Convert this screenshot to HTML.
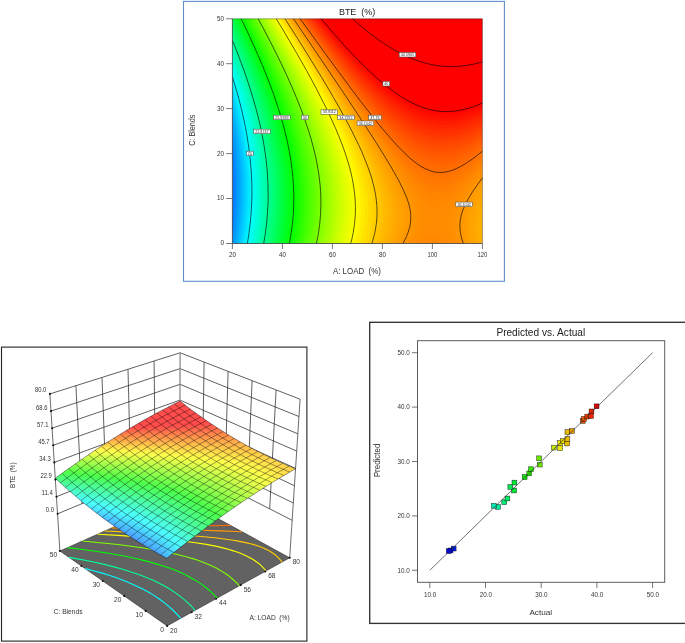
<!DOCTYPE html>
<html><head><meta charset="utf-8"><title>BTE response plots</title>
<style>html,body{margin:0;padding:0;background:#fff}svg{display:block}</style></head>
<body>
<svg width="685" height="643" viewBox="0 0 685 643">
<rect width="685" height="643" fill="#fff"/>
<g id="contour-plot">
<rect x="183.5" y="1.4" width="320.9" height="279.9" fill="#fff" stroke="#5f8fce" stroke-width="1.1"/>
<clipPath id="cpTop"><rect x="232.4" y="18.8" width="250" height="224.7"/></clipPath>
<g clip-path="url(#cpTop)" opacity="0.999">
<rect x="232.4" y="18.8" width="250" height="224.7" fill="#0073ff"/>
<path d="M227.9,248 487.4,248 487.4,14.3 227.4,14.3 227.4,124.1 228.6,131.1 229.9,140.1 231.1,149.1 231.8,155.8 232.5,164.8 232.9,171.6 233.2,180.5 233.3,187.3 233.2,196.3 233,203 232.6,209.8 231.9,218.8 231.2,225.5 230.1,234.5 229.1,241.2Z" fill="#007dff"/>
<path d="M229.3,248 487.4,248 487.4,14.3 227.4,14.3 227.4,117.5 228.7,124.4 230.2,133.4 231.5,142.3 232.6,151.3 233.5,160.3 234.1,169.3 234.5,178.3 234.6,185 234.6,194 234.4,200.8 234,209.8 233.5,216.5 232.8,223.2 231.7,232.2 230.4,241.2Z" fill="#0087ff"/>
<path d="M230.6,248 487.4,248 487.4,14.3 227.4,14.3 227.4,111.4 229.5,122.1 231.1,131.1 232.5,140.1 233.6,149.1 234.6,158.1 235.3,167.1 235.7,176.1 236,185 235.9,194 235.8,200.8 235.3,209.8 234.8,216.5 233.9,225.5 233.1,232.2 231.8,241.2Z" fill="#0091ff"/>
<path d="M231.9,248 487.4,248 487.4,14.3 227.4,14.3 227.4,105.8 229.5,115.4 231.2,124.4 233.1,135.6 234.4,144.6 235.4,153.6 236.1,160.3 236.4,164.8 237,173.8 237.3,182.8 237.3,191.8 237.1,200.8 236.7,209.8 236.2,216.5 235.3,225.5 234.4,232.2 233.1,241.2Z" fill="#009bff"/>
<path d="M233.3,248 487.4,248 487.4,14.3 227.4,14.3 227.4,100.6 229.8,110.9 232.1,122.1 233.7,131.1 234.8,137.9 235.4,142.3 236.3,149.1 236.8,153.6 237.6,162.6 238.2,171.6 238.6,180.5 238.7,189.5 238.6,198.5 238.2,207.5 237.7,214.3 236.9,223.2 236.1,230 234.8,239Z" fill="#00a5ff"/>
<path d="M234.7,248 487.4,248 487.4,14.3 227.4,14.3 227.4,95.7 230,106.4 232.5,117.6 234.6,128.9 236.1,137.9 236.7,142.3 237.6,149.1 238.5,158.1 238.9,162.6 239.4,169.3 239.9,178.3 240,187.3 240,196.3 239.7,205.3 239.3,212 238.5,221 237.5,230 236.2,239Z" fill="#00aeff"/>
<path d="M236.1,248 487.4,248 487.4,14.3 227.4,14.3 227.4,91 230.2,101.9 232.8,113.1 235.1,124.4 237,135.6 238,142.3 238.6,146.8 239.4,153.6 239.9,158.1 240.3,162.6 240.8,169.3 241.2,178.3 241.4,187.3 241.4,196.3 241,205.3 240.5,214.3 239.7,223.2 238.6,232.2 237.6,239Z" fill="#00b8ff"/>
<path d="M237.4,248 487.4,248 487.4,14.3 227.4,14.3 227.4,86.5 229.2,92.9 230.9,99.6 233.6,110.9 235.9,122.1 238,133.4 238.7,137.9 239.7,144.6 240.2,149.1 241,155.8 241.6,162.6 242,167.1 242.5,176.1 242.8,185 242.8,194 242.5,203 242,212 241.3,221 240.3,230 239,239Z" fill="#00c2ff"/>
<path d="M238.8,248 487.4,248 487.4,14.3 227.4,14.3 227.4,82.2 229.2,88.4 231,95.2 233.8,106.4 236.3,117.6 238.5,128.9 239.7,135.6 240.4,140.1 241.3,146.8 241.9,151.3 242.6,158.1 243,162.6 243.5,169.3 243.8,173.8 244,178.3 244.2,185 244.2,194 243.9,203 243.4,212 242.7,221 241.7,230 240.4,239Z" fill="#00ccff"/>
<path d="M240.2,248 487.4,248 487.4,14.3 227.4,14.3 227.4,78.1 229.1,83.9 231,90.7 234,101.9 236.6,113.1 238.1,119.9 239.4,126.6 240.6,133.4 241.7,140.1 242.7,146.8 243.2,151.3 243.7,155.8 244.4,162.6 244.9,169.3 245.2,173.8 245.4,180.5 245.6,185 245.6,194 245.4,203 244.9,212 244.1,221 243.1,230 241.8,239Z" fill="#00d6ff"/>
<path d="M241.7,248 487.4,248 487.4,14.3 227.4,14.3 227.4,74.1 231,86.2 232.9,92.9 234.7,99.6 236.4,106.4 237.9,113.1 240.3,124.4 241.6,131.1 242.7,137.9 243.4,142.3 244.3,149.1 245.1,155.8 245.6,160.3 246.1,167.1 246.4,171.6 246.8,178.3 246.9,182.8 247,191.8 246.9,200.8 246.4,209.8 245.7,218.8 244.8,227.7 243.9,234.5 243.2,239Z" fill="#00e0ff"/>
<path d="M243.1,248 487.4,248 487.4,14.3 227.4,14.3 227.4,70.3 229.6,77.2 231.6,83.9 233.5,90.7 235.4,97.4 237.1,104.1 238.7,110.9 241.2,122.1 242.5,128.9 243.7,135.6 244.8,142.3 245.4,146.8 246.2,153.6 246.7,158.1 247.2,162.6 247.7,169.3 248.1,176.1 248.3,180.5 248.4,189.5 248.4,196.3 248.3,200.8 247.9,209.8 247.2,218.8 246.2,227.7 245,236.7 244.3,241.2Z" fill="#00eaff"/>
<path d="M244.5,248 487.4,248 487.4,14.3 227.4,14.3 227.4,66.6 229.4,72.7 231.5,79.4 233.5,86.2 235.4,92.9 238.4,104.1 240,110.9 241.6,117.6 243,124.4 244.3,131.1 245,135.6 246.1,142.3 247.1,149.1 247.9,155.8 248.6,162.6 248.9,167.1 249.4,173.8 249.6,178.3 249.9,187.3 249.9,194 249.8,198.5 249.4,207.5 249.2,212 248.6,218.8 247.7,227.7 246.4,236.7 245.3,243.5Z" fill="#00f4ff"/>
<path d="M246,248 487.4,248 487.4,14.3 227.4,14.3 227.4,63 229.9,70.4 232.1,77.2 234.1,83.9 236.1,90.7 238,97.4 239.7,104.1 241.4,110.9 242.9,117.6 245.2,128.9 246.4,135.6 247.5,142.3 248.5,149.1 249.3,155.8 250,162.6 250.4,167.1 250.8,173.8 251,178.3 251.3,187.3 251.3,194 251.2,198.5 250.9,207.5 250.5,214.3 250.1,218.8 249.1,227.7 247.9,236.7 246.8,243.5Z" fill="#00feff"/>
<path d="M247.4,248 487.4,248 487.4,14.3 227.4,14.3 227.4,59.5 230.4,68.2 232.6,74.9 234.7,81.7 236.7,88.4 238.6,95.2 240.4,101.9 242.2,108.6 243.7,115.4 245.2,122.1 246.6,128.9 247.8,135.6 248.5,140.1 249.6,146.8 250.2,151.3 251,158.1 251.6,164.8 252.1,171.6 252.4,176.1 252.7,182.8 252.8,187.3 252.8,194 252.7,198.5 252.4,207.5 251.9,214.3 251.5,218.8 250.6,227.7 249.4,236.7 248.3,243.5Z" fill="#00fff6"/>
<path d="M248.9,248 487.4,248 487.4,14.3 227.4,14.3 227.4,56.1 230.1,63.7 232.4,70.4 234.6,77.2 236.7,83.9 238.7,90.7 240.6,97.4 242.3,104.1 244,110.9 245.6,117.6 247,124.4 248.4,131.1 249.6,137.9 250.6,144.6 251.6,151.3 252.1,155.8 252.8,162.6 253.4,169.3 253.7,173.8 253.9,178.3 254.2,185 254.3,191.8 254.2,196.3 253.9,205.3 253.6,212 253.2,216.5 252.8,221 252.1,227.7 251.5,232.2 250.5,239Z" fill="#00ffec"/>
<path d="M250.4,248 487.4,248 487.4,14.3 227.4,14.3 227.4,52.8 229.7,59.2 232.9,68.2 235.1,74.9 237.9,83.9 240,90.7 241.9,97.4 243.7,104.1 245.4,110.9 247,117.6 248.4,124.4 249.8,131.1 251,137.9 252.1,144.6 253,151.3 253.6,155.8 254.3,162.6 254.9,169.3 255.2,173.8 255.5,180.5 255.6,185 255.7,191.8 255.7,196.3 255.4,205.3 255.1,212 254.7,216.5 254.3,221 253.6,227.7 253,232.2 252,239Z" fill="#00ffe2"/>
<path d="M251.9,248 487.4,248 487.4,14.3 227.4,14.3 227.4,49.5 230.1,57 233.3,65.9 235.6,72.7 237.8,79.4 239.9,86.2 242.6,95.2 244.4,101.9 246.2,108.6 247.8,115.4 249.3,122.1 250.7,128.9 252,135.6 253.1,142.3 254.1,149.1 255,155.8 255.5,160.3 256.2,167.1 256.5,171.6 256.9,178.3 257.1,182.8 257.2,189.5 257.2,194 257.1,200.8 256.9,205.3 256.6,212 256.2,216.5 255.6,223.2 255.1,227.7 254.5,232.2 253.5,239Z" fill="#00ffd8"/>
<path d="M253.4,248 487.4,248 487.4,14.3 227.4,14.3 227.4,46.4 230.6,54.7 233,61.4 236.1,70.4 238.4,77.2 240.5,83.9 242.6,90.7 244.5,97.4 246.4,104.1 248.1,110.9 249.7,117.6 251.2,124.4 252.6,131.1 253.8,137.9 254.9,144.6 255.9,151.3 256.7,158.1 257.2,162.6 257.8,169.3 258.3,176.1 258.5,180.5 258.7,187.3 258.7,191.8 258.7,198.5 258.5,203 258.2,209.8 257.9,214.3 257.5,218.8 256.9,225.5 256.3,230 255.3,236.7 254.6,241.2Z" fill="#00ffce"/>
<path d="M254.9,248 487.4,248 487.4,14.3 227.4,14.3 227.4,43.3 230.1,50.2 233.4,59.2 236.6,68.2 238.9,74.9 241.1,81.7 243.2,88.4 245.2,95.2 247.7,104.1 249.5,110.9 251.1,117.6 252.6,124.4 254,131.1 255.3,137.9 256.4,144.6 257.4,151.3 258.2,158.1 258.7,162.6 259.3,169.3 259.8,176.1 260,180.5 260.2,187.3 260.3,191.8 260.2,198.5 260.1,203 259.8,209.8 259.5,214.3 258.9,221 258.4,225.5 257.8,230 256.9,236.7 256.1,241.2Z" fill="#00ffc4"/>
<path d="M256.5,248 487.4,248 487.4,14.3 227.4,14.3 227.4,40.2 230.4,48 233.9,57 236.3,63.7 239.5,72.7 241.7,79.4 244.6,88.4 246.6,95.2 248.5,101.9 250.3,108.6 252,115.4 253.5,122.1 255,128.9 256.3,135.6 257.5,142.3 258.5,149.1 259.4,155.8 260.2,162.6 260.8,169.3 261.3,176.1 261.5,180.5 261.7,187.3 261.8,191.8 261.7,198.5 261.6,203 261.3,209.8 261,214.3 260.4,221 259.9,225.5 259.4,230 258.4,236.7 257.7,241.2Z" fill="#00ffba"/>
<path d="M258,248 487.4,248 487.4,14.3 227.4,14.3 227.4,37.3 229.9,43.5 233.4,52.5 236.8,61.4 239.2,68.2 241.5,74.9 244.5,83.9 246.6,90.7 248.6,97.4 251.1,106.4 252.8,113.1 254.4,119.9 255.9,126.6 257.3,133.4 258.6,140.1 259.7,146.8 260.6,153.6 261.5,160.3 261.9,164.8 262.5,171.6 262.9,178.3 263.2,185 263.3,189.5 263.3,196.3 263.2,200.8 263,207.5 262.7,212 262.2,218.8 261.7,223.2 260.9,230 260,236.7 258.8,243.5Z" fill="#00ffb0"/>
<path d="M259.6,248 487.4,248 487.4,14.3 227.4,14.3 227.4,34.4 230.2,41.2 233.8,50.2 236.4,57 239.7,65.9 242.8,74.9 245.1,81.7 247.9,90.7 249.9,97.4 251.9,104.1 254.2,113.1 255.9,119.9 257.4,126.6 258.8,133.4 260,140.1 261.2,146.8 262.1,153.6 263,160.3 263.7,167.1 264.2,173.8 264.5,178.3 264.8,185 264.9,189.5 264.9,196.3 264.8,200.8 264.6,207.5 264.3,212 263.8,218.8 263.3,223.2 262.5,230 261.5,236.7 260.4,243.5Z" fill="#00ffa6"/>
<path d="M261.1,248 487.4,248 487.4,14.3 227.4,14.3 227.4,31.5 230.5,39 234.1,48 236.8,54.7 240.1,63.7 243.4,72.7 245.7,79.4 248.6,88.4 250.7,95.2 253.2,104.1 255.1,110.9 256.8,117.6 258.3,124.4 259.8,131.1 261.1,137.9 262.3,144.6 263.3,151.3 264.2,158.1 265,164.8 265.4,169.3 265.9,176.1 266.3,182.8 266.4,189.5 266.5,196.3 266.4,200.8 266.1,207.5 265.9,212 265.3,218.8 264.9,223.2 264.4,227.7 263.5,234.5 262.4,241.2Z" fill="#00ff9c"/>
<path d="M262.7,248 487.4,248 487.4,14.3 227.4,14.3 227.4,28.7 230.8,36.7 234.5,45.7 238,54.7 240.6,61.4 243.1,68.2 246.2,77.2 248.5,83.9 251.3,92.9 253.4,99.6 255.9,108.6 257.6,115.4 259.3,122.1 260.8,128.9 262.2,135.6 263.4,142.3 264.5,149.1 265.5,155.8 266.3,162.6 267,169.3 267.3,173.8 267.7,180.5 268,187.3 268.1,194 268,198.5 267.8,205.3 267.6,209.8 267.1,216.5 266.5,223.2 266,227.7 265.1,234.5 264,241.2Z" fill="#00ff92"/>
<path d="M264.3,248 487.4,248 487.4,14.3 227.4,14.3 227.4,25.9 231.1,34.5 234.8,43.5 238.4,52.5 241,59.2 243.6,65.9 246.8,74.9 249.9,83.9 252,90.7 254.8,99.6 256.7,106.4 258.5,113.1 260.2,119.9 261.8,126.6 263.7,135.6 264.9,142.3 266.1,149.1 267,155.8 267.9,162.6 268.5,169.3 268.9,173.8 269.3,180.5 269.6,187.3 269.7,194 269.6,198.5 269.4,205.3 269.2,209.8 268.8,216.5 268.1,223.2 267.6,227.7 266.7,234.5 265.6,241.2Z" fill="#00ff88"/>
<path d="M266,248 487.4,248 487.4,14.3 227.4,14.3 227.4,23.2 231.3,32.2 236.1,43.5 239.7,52.5 243.2,61.4 246.5,70.4 249.7,79.4 252.7,88.4 255.5,97.4 257.5,104.1 259.4,110.9 261.1,117.6 262.2,122.1 263.8,128.9 265.2,135.6 266.5,142.3 267.2,146.8 268.3,153.6 269.2,160.3 269.9,167.1 270.5,173.8 270.9,180.5 271.2,187.3 271.3,194 271.3,198.5 271.1,205.3 270.9,209.8 270.4,216.5 269.8,223.2 269.2,227.7 268.3,234.5 267.2,241.2Z" fill="#00ff7e"/>
<path d="M267.6,248 487.4,248 487.4,14.3 227.4,14.3 227.4,20.6 231.6,30 236.4,41.2 240.1,50.2 243.6,59.2 247,68.2 250.3,77.2 253.3,86.2 255.5,92.9 257.6,99.6 259.6,106.4 261.4,113.1 263.2,119.9 264.8,126.6 266.2,133.4 267.2,137.9 268.4,144.6 269.5,151.3 270.5,158.1 271.3,164.8 271.9,171.6 272.4,178.3 272.7,185 272.9,191.8 272.9,196.3 272.8,203 272.6,207.5 272.2,214.3 271.6,221 270.9,227.7 270,234.5 268.9,241.2Z" fill="#00ff74"/>
<path d="M269.3,248 487.4,248 487.4,14.3 227.4,14.3 227.4,17.9 231.8,27.7 235.7,36.7 239.5,45.7 243.2,54.7 246.7,63.7 250,72.7 253.2,81.7 256.2,90.7 258.4,97.4 260.4,104.1 262.3,110.9 264.1,117.6 265.8,124.4 267.3,131.1 268.7,137.9 270,144.6 271.1,151.3 272.1,158.1 272.9,164.8 273.5,171.6 274,178.3 274.4,185 274.6,191.8 274.6,196.3 274.5,203 274.3,207.5 273.9,214.3 273.3,221 272.6,227.7 271.6,234.5 270.5,241.2Z" fill="#00ff6a"/>
<path d="M270.9,248 487.4,248 487.4,14.3 227.4,14.3 227.4,15.3 232,25.5 236,34.5 239.8,43.5 244.5,54.7 248,63.7 250.6,70.4 253,77.2 255.4,83.9 258.4,92.9 260.5,99.6 262.5,106.4 264.4,113.1 266.7,122.1 268.3,128.9 269.8,135.6 271.1,142.3 272.3,149.1 273.4,155.8 274.2,162.6 275,169.3 275.5,176.1 275.9,182.8 276.2,189.5 276.2,196.3 276.1,203 276,207.5 275.6,214.3 275,221 274.2,227.7 273.3,234.5 272.2,241.2Z" fill="#00ff60"/>
<path d="M272.6,248 487.4,248 487.4,14.3 228.1,14.3 232.2,23.2 236.3,32.2 240.2,41.2 243.9,50.2 247.6,59.2 251.1,68.2 253.6,74.9 256.8,83.9 259.8,92.9 261.9,99.6 264,106.4 265.9,113.1 268.3,122.1 269.9,128.9 271.4,135.6 272.7,142.3 273.9,149.1 275,155.8 275.9,162.6 276.6,169.3 277.2,176.1 277.6,182.8 277.9,189.5 277.9,196.3 277.8,203 277.6,209.8 277.1,216.5 276.5,223.2 275.9,227.7 275,234.5 273.9,241.2Z" fill="#00ff56"/>
<path d="M274.3,248 487.4,248 487.4,14.3 229.3,14.3 233.5,23.2 237.5,32.2 241.4,41.2 245.3,50.2 248,57 251.6,65.9 255,74.9 258.2,83.9 261.3,92.9 263.4,99.6 266.1,108.6 268,115.4 269.8,122.1 271.4,128.9 272.9,135.6 274.3,142.3 275.5,149.1 276.6,155.8 277.5,162.6 278.3,169.3 278.9,176.1 279.3,182.8 279.6,189.5 279.6,196.3 279.5,203 279.3,209.8 278.8,216.5 278.2,223.2 277.7,227.7 276.7,234.5 275.6,241.2Z" fill="#00ff4c"/>
<path d="M276,248 487.4,248 487.4,14.3 230.5,14.3 234.7,23.2 238.8,32.2 242.7,41.2 246.6,50.2 250.3,59.2 253.8,68.2 256.4,74.9 259.6,83.9 262.7,92.9 264.9,99.6 267,106.4 268.9,113.1 271.3,122.1 273,128.9 274.5,135.6 275.9,142.3 277.2,149.1 278.3,155.8 279.2,162.6 280,169.3 280.6,176.1 281,182.8 281.3,189.5 281.4,196.3 281.3,203 281,209.8 280.6,216.5 279.9,223.2 279.4,227.7 278.5,234.5 277.3,241.2Z" fill="#00ff42"/>
<path d="M277.8,248 487.4,248 487.4,14.3 231.7,14.3 235.9,23.2 240,32.2 244,41.2 247.9,50.2 251.6,59.2 255.2,68.2 258.6,77.2 261.1,83.9 263.4,90.7 266.4,99.6 268.5,106.4 270.5,113.1 272.9,122.1 274.6,128.9 276.2,135.6 277.6,142.3 278.8,149.1 279.9,155.8 280.9,162.6 281.7,169.3 282.3,176.1 282.7,182.8 283,189.5 283.1,196.3 283,203 282.8,209.8 282.3,216.5 281.7,223.2 280.9,230 279.9,236.7 278.7,243.5Z" fill="#00ff38"/>
<path d="M279.6,248 487.4,248 487.4,14.3 232.9,14.3 237.2,23.2 241.3,32.2 245.3,41.2 249.2,50.2 253,59.2 256.6,68.2 260,77.2 262.5,83.9 264.9,90.7 267.9,99.6 270,106.4 272,113.1 274.5,122.1 276.2,128.9 277.8,135.6 279.2,142.3 280.5,149.1 281.6,155.8 282.6,162.6 283.4,169.3 284,176.1 284.5,182.8 284.8,189.5 284.9,196.3 284.8,203 284.5,209.8 284.1,216.5 283.5,223.2 282.6,230 281.6,236.7 280.4,243.5Z" fill="#00ff2e"/>
<path d="M281.3,248 487.4,248 487.4,14.3 234.1,14.3 238.4,23.2 242.6,32.2 246.6,41.2 250.6,50.2 254.3,59.2 258,68.2 261.5,77.2 264,83.9 266.4,90.7 269.4,99.6 271.6,106.4 273.6,113.1 276.1,122.1 277.8,128.9 279.4,135.6 280.9,142.3 282.2,149.1 283.3,155.8 284.3,162.6 285.1,169.3 285.8,176.1 286.3,182.8 286.5,189.5 286.7,196.3 286.6,203 286.3,209.8 285.9,216.5 285.3,223.2 284.4,230 283.4,236.7 282.7,241.2Z" fill="#00ff24"/>
<path d="M283.1,248 487.4,248 487.4,14.3 235.3,14.3 239.7,23.2 243.9,32.2 247.9,41.2 251.9,50.2 255.7,59.2 259.4,68.2 262.9,77.2 265.4,83.9 268.7,92.9 270.9,99.6 273.1,106.4 275.2,113.1 277.7,122.1 279.5,128.9 281.1,135.6 282.5,142.3 283.9,149.1 285,155.8 286,162.6 286.9,169.3 287.5,176.1 288,182.8 288.3,189.5 288.5,196.3 288.4,203 288.2,209.8 287.7,216.5 287.1,223.2 286.3,230 285.3,236.7 284.5,241.2Z" fill="#00ff1a"/>
<path d="M285,248 487.4,248 487.4,14.3 236.6,14.3 240.9,23.2 245.2,32.2 249.3,41.2 253.3,50.2 257.1,59.2 260.8,68.2 263.5,74.9 266.9,83.9 270.2,92.9 272.5,99.6 274.7,106.4 277.4,115.4 279.9,124.4 281.7,131.1 283.3,137.9 284.7,144.6 286,151.3 287.1,158.1 288.1,164.8 288.9,171.6 289.5,178.3 290,185 290.2,191.8 290.3,196.3 290.2,203 290,209.8 289.6,216.5 288.9,223.2 288.1,230 287.1,236.7 286.3,241.2Z" fill="#00ff10"/>
<path d="M286.8,248 487.4,248 487.4,14.3 237.8,14.3 242.2,23.2 246.5,32.2 250.6,41.2 254.6,50.2 258.5,59.2 262.3,68.2 265,74.9 268.4,83.9 271.7,92.9 274,99.6 277,108.6 279,115.4 281.6,124.4 283.4,131.1 285,137.9 286.4,144.6 287.7,151.3 288.9,158.1 289.9,164.8 290.7,171.6 291.3,178.3 291.8,185 292.1,191.8 292.2,196.3 292.1,203 291.9,209.8 291.4,216.5 291,221 290.3,227.7 289.3,234.5 288.2,241.2Z" fill="#00ff07"/>
<path d="M288.7,248 487.4,248 487.4,14.3 239.1,14.3 243.5,23.2 247.8,32.2 252,41.2 256,50.2 259.9,59.2 263.7,68.2 266.4,74.9 269.9,83.9 273.3,92.9 275.6,99.6 278.6,108.6 280.7,115.4 283.3,124.4 285,131.1 286.7,137.9 288.2,144.6 289.5,151.3 290.7,158.1 291.7,164.8 292.5,171.6 293.2,178.3 293.7,185 293.9,191.8 294,196.3 294,203 293.8,209.8 293.3,216.5 292.9,221 292.2,227.7 291.2,234.5 290,241.2Z" fill="#03ff00"/>
<path d="M290.6,248 487.4,248 487.4,14.3 240.3,14.3 244.8,23.2 249.1,32.2 253.3,41.2 257.4,50.2 261.4,59.2 265.2,68.2 267.9,74.9 271.5,83.9 274.8,92.9 277.2,99.6 280.2,108.6 282.3,115.4 285,124.4 286.8,131.1 288.4,137.9 289.9,144.6 291.3,151.3 292.5,158.1 293.5,164.8 294.4,171.6 295.1,178.3 295.5,185 295.8,191.8 295.9,196.3 295.9,203 295.7,209.8 295.3,216.5 294.9,221 294.1,227.7 293.1,234.5 292,241.2Z" fill="#0dff00"/>
<path d="M292.5,248 487.4,248 487.4,14.3 241.6,14.3 246,23.2 250.4,32.2 254.7,41.2 258.8,50.2 262.8,59.2 266.6,68.2 270.3,77.2 273,83.9 276.4,92.9 278.8,99.6 281.9,108.6 284,115.4 286.7,124.4 288.5,131.1 290.2,137.9 291.7,144.6 293.1,151.3 294.3,158.1 295.4,164.8 296.3,171.6 296.9,178.3 297.4,185 297.8,191.8 297.9,196.3 297.8,203 297.6,209.8 297.2,216.5 296.6,223.2 296,227.7 295.1,234.5 293.9,241.2Z" fill="#17ff00"/>
<path d="M294.5,248 487.4,248 487.4,14.3 242.8,14.3 248.5,25.5 252.8,34.5 257.1,43.5 261.2,52.5 265.2,61.4 268.1,68.2 271.8,77.2 275.4,86.2 278,92.9 281.2,101.9 283.5,108.6 286.4,117.6 288.4,124.4 290.2,131.1 292,137.9 293.5,144.6 294.9,151.3 296.2,158.1 297.3,164.8 298.2,171.6 298.9,178.3 299.4,185 299.7,191.8 299.8,196.3 299.8,203 299.6,209.8 299.2,216.5 298.5,223.2 297.7,230 296.7,236.7 295.4,243.5Z" fill="#21ff00"/>
<path d="M296.5,248 487.4,248 487.4,14.3 244.1,14.3 249.8,25.5 254.2,34.5 258.5,43.5 262.6,52.5 266.7,61.4 270.6,70.4 273.4,77.2 277,86.2 279.6,92.9 282.9,101.9 285.2,108.6 288.1,117.6 290.1,124.4 292,131.1 293.8,137.9 295.4,144.6 296.8,151.3 298.1,158.1 299.2,164.8 300.1,171.6 300.8,178.3 301.3,185 301.7,191.8 301.8,196.3 301.8,203 301.6,209.8 301.2,216.5 300.5,223.2 299.7,230 298.7,236.7 297.8,241.2Z" fill="#2bff00"/>
<path d="M298.5,248 487.4,248 487.4,14.3 245.4,14.3 250,23.2 255.5,34.5 259.9,43.5 264.1,52.5 268.2,61.4 272.1,70.4 274.9,77.2 278.6,86.2 282,95.2 284.5,101.9 286.9,108.6 289.8,117.6 291.9,124.4 293.8,131.1 295.6,137.9 297.2,144.6 298.7,151.3 300,158.1 301.1,164.8 302,171.6 302.8,178.3 303.3,185 303.7,191.8 303.8,196.3 303.8,203 303.6,209.8 303.2,216.5 302.8,221 302,227.7 301.1,234.5 299.9,241.2Z" fill="#35ff00"/>
<path d="M300.5,248 487.4,248 487.4,14.3 246.7,14.3 251.3,23.2 256.9,34.5 261.3,43.5 265.5,52.5 269.6,61.4 273.6,70.4 276.5,77.2 280.2,86.2 283.7,95.2 286.2,101.9 288.6,108.6 291.6,117.6 294.3,126.6 296.2,133.4 298,140.1 299.6,146.8 301,153.6 302.3,160.3 303.4,167.1 304.3,173.8 305,180.5 305.5,187.3 305.8,194 305.9,198.5 305.8,205.3 305.6,212 305.1,218.8 304.6,223.2 303.8,230 303.1,234.5 301.9,241.2Z" fill="#3fff00"/>
<path d="M302.6,248 487.4,248 487.4,14.3 248,14.3 253.8,25.5 258.3,34.5 262.7,43.5 267,52.5 271.1,61.4 275.2,70.4 278.1,77.2 281.8,86.2 285.3,95.2 287.9,101.9 291.1,110.9 293.3,117.6 296.1,126.6 298.1,133.4 299.9,140.1 301.5,146.8 303,153.6 304.3,160.3 305.4,167.1 306.3,173.8 307,180.5 307.5,187.3 307.9,194 308,198.5 307.9,205.3 307.8,209.8 307.4,216.5 306.7,223.2 305.9,230 304.8,236.7 303.5,243.5Z" fill="#49ff00"/>
<path d="M304.7,248 487.4,248 487.4,14.3 249.3,14.3 255.1,25.5 259.7,34.5 264.1,43.5 268.5,52.5 272.7,61.4 276.7,70.4 279.6,77.2 283.4,86.2 287,95.2 289.6,101.9 292.8,110.9 295.1,117.6 298,126.6 300,133.4 301.8,140.1 303.4,146.8 304.9,153.6 306.3,160.3 307.4,167.1 308.3,173.8 309.1,180.5 309.6,187.3 310,194 310.1,198.5 310,205.3 309.8,212 309.5,216.5 308.9,223.2 308,230 307,236.7 306.1,241.2Z" fill="#53ff00"/>
<path d="M306.8,248 487.4,248 487.4,14.3 250.6,14.3 256.5,25.5 261.1,34.5 265.6,43.5 269.9,52.5 274.2,61.4 278.3,70.4 281.2,77.2 285.1,86.2 288.7,95.2 291.3,101.9 294.6,110.9 296.9,117.6 299.8,126.6 301.9,133.4 303.7,140.1 305.4,146.8 306.9,153.6 308.3,160.3 309.4,167.1 310.4,173.8 311.2,180.5 311.7,187.3 312.1,194 312.2,198.5 312.2,205.3 312,212 311.5,218.8 311,223.2 310.2,230 309.5,234.5 308.3,241.2Z" fill="#5dff00"/>
<path d="M309,248 487.4,248 487.4,14.3 251.9,14.3 257.9,25.5 262.5,34.5 267,43.5 271.4,52.5 275.7,61.4 279.9,70.4 282.9,77.2 286.7,86.2 290.4,95.2 293.1,101.9 296.4,110.9 298.8,117.6 301.7,126.6 303.8,133.4 305.7,140.1 307.4,146.8 308.9,153.6 310.3,160.3 311.5,167.1 312.5,173.8 313.3,180.5 313.9,187.3 314.3,194 314.4,198.5 314.4,205.3 314.3,209.8 313.9,216.5 313.3,223.2 312.7,227.7 311.7,234.5 310.5,241.2Z" fill="#67ff00"/>
<path d="M311.2,248 487.4,248 487.4,14.3 253.3,14.3 258.1,23.2 263.9,34.5 268.5,43.5 272.9,52.5 277.3,61.4 281.5,70.4 285.5,79.4 289.4,88.4 293.1,97.4 295.7,104.1 298.2,110.9 301.4,119.9 303.6,126.6 305.7,133.4 307.6,140.1 309.4,146.8 311,153.6 312.4,160.3 313.6,167.1 314.7,173.8 315.5,180.5 316.1,187.3 316.5,194 316.6,198.5 316.6,205.3 316.4,212 316.1,216.5 315.5,223.2 314.6,230 313.5,236.7 312.7,241.2Z" fill="#71ff00"/>
<path d="M313.5,248 487.4,248 487.4,14.3 254.6,14.3 259.5,23.2 265.4,34.5 270,43.5 274.5,52.5 278.8,61.4 283.1,70.4 287.2,79.4 291.1,88.4 294.8,97.4 297.5,104.1 300.1,110.9 303.3,119.9 305.6,126.6 307.7,133.4 309.7,140.1 311.5,146.8 313.1,153.6 314.5,160.3 315.8,167.1 316.9,173.8 317.7,180.5 318.3,187.3 318.7,194 318.9,198.5 318.9,205.3 318.7,212 318.2,218.8 317.8,223.2 316.9,230 316.2,234.5 315,241.2Z" fill="#7bff00"/>
<path d="M315.8,248 487.4,248 487.4,14.3 256,14.3 262,25.5 266.8,34.5 271.5,43.5 277.1,54.7 281.5,63.7 285.7,72.7 289.8,81.7 292.8,88.4 296.6,97.4 299.3,104.1 302.8,113.1 305.2,119.9 307.5,126.6 309.7,133.4 311.7,140.1 313.5,146.8 315.2,153.6 316.7,160.3 318,167.1 319.1,173.8 320,180.5 320.6,187.3 321,194 321.2,198.5 321.2,205.3 321,212 320.6,218.8 320.1,223.2 319.3,230 318.2,236.7 316.8,243.5Z" fill="#85ff00"/>
<path d="M318.1,248 487.4,248 487.4,14.3 257.3,14.3 263.5,25.5 268.3,34.5 273,43.5 278.7,54.7 283.1,63.7 287.4,72.7 291.6,81.7 294.6,88.4 298.4,97.4 301.2,104.1 304.7,113.1 307.2,119.9 310.3,128.9 312.4,135.6 314.4,142.3 316.3,149.1 317.9,155.8 319.4,162.6 320.6,169.3 321.7,176.1 322.5,182.8 323.1,189.5 323.5,196.3 323.6,200.8 323.6,207.5 323.4,212 323,218.8 322.5,223.2 321.6,230 320.9,234.5 319.6,241.2Z" fill="#8fff00"/>
<path d="M320.5,248 487.4,248 487.4,14.3 258.7,14.3 264.9,25.5 269.7,34.5 274.5,43.5 280.2,54.7 284.7,63.7 289.1,72.7 293.3,81.7 296.3,88.4 300.3,97.4 303.1,104.1 306.6,113.1 309.2,119.9 311.6,126.6 314.5,135.6 316.6,142.3 318.4,149.1 320.1,155.8 321.6,162.6 322.9,169.3 324,176.1 324.9,182.8 325.5,189.5 325.9,196.3 326,200.8 326,207.5 325.8,212 325.4,218.8 325,223.2 324.4,227.7 323.4,234.5 322.1,241.2Z" fill="#99ff00"/>
<path d="M323,248 487.4,248 487.4,14.3 260.1,14.3 266.3,25.5 271.2,34.5 277.2,45.7 281.8,54.7 286.4,63.7 290.8,72.7 295,81.7 298.1,88.4 302.1,97.4 305,104.1 308.6,113.1 311.2,119.9 314.4,128.9 316.6,135.6 318.7,142.3 320.6,149.1 322.4,155.8 323.9,162.6 325.2,169.3 326.4,176.1 327.2,182.8 327.9,189.5 328.3,196.3 328.5,200.8 328.5,207.5 328.2,214.3 327.9,218.8 327.2,225.5 326.6,230 325.4,236.7 324.5,241.2Z" fill="#a3ff00"/>
<path d="M325.5,248 487.4,248 487.4,14.3 261.5,14.3 266.5,23.2 272.7,34.5 278.7,45.7 283.4,54.7 288,63.7 292.5,72.7 296.8,81.7 301,90.7 305,99.6 307.8,106.4 311.5,115.4 314,122.1 316.5,128.9 318.8,135.6 320.9,142.3 322.9,149.1 324.7,155.8 326.2,162.6 327.6,169.3 328.8,176.1 329.7,182.8 330.4,189.5 330.8,196.3 331,200.8 331,207.5 330.9,212 330.4,218.8 330,223.2 329.4,227.7 328.4,234.5 327.1,241.2Z" fill="#adff00"/>
<path d="M328,248 487.4,248 487.4,14.3 262.9,14.3 268,23.2 274.2,34.5 280.3,45.7 285,54.7 289.7,63.7 294.2,72.7 298.6,81.7 302.8,90.7 306.9,99.6 309.8,106.4 313.5,115.4 316.1,122.1 319.4,131.1 321.7,137.9 323.8,144.6 325.8,151.3 327,155.8 328.6,162.6 330,169.3 331.2,176.1 332.2,182.8 332.9,189.5 333.4,196.3 333.6,200.8 333.6,207.5 333.5,212 333,218.8 332.6,223.2 331.7,230 331,234.5 329.6,241.2Z" fill="#b7ff00"/>
<path d="M330.7,248 487.4,248 487.4,14.3 264.3,14.3 270.7,25.5 277,36.7 281.9,45.7 286.7,54.7 291.4,63.7 296,72.7 300.4,81.7 304.7,90.7 308.8,99.6 311.8,106.4 314.6,113.1 318.2,122.1 321.6,131.1 324,137.9 326.1,144.6 328.1,151.3 330,158.1 331.6,164.8 333,171.6 333.8,176.1 334.8,182.8 335.5,189.5 336,196.3 336.2,200.8 336.3,207.5 336.1,212 335.7,218.8 335,225.5 334.4,230 333.2,236.7 331.8,243.5Z" fill="#c1ff00"/>
<path d="M333.4,248 487.4,248 487.4,14.3 265.7,14.3 272.2,25.5 278.5,36.7 283.5,45.7 288.3,54.7 293.1,63.7 297.7,72.7 302.2,81.7 306.6,90.7 309.8,97.4 313.8,106.4 316.7,113.1 320.4,122.1 323,128.9 326.2,137.9 328.5,144.6 330.5,151.3 331.8,155.8 333.5,162.6 335.1,169.3 336.4,176.1 337.4,182.8 338.2,189.5 338.7,196.3 338.9,200.8 339,207.5 338.9,212 338.5,218.8 338.1,223.2 337.2,230 336.4,234.5 335,241.2Z" fill="#cbff00"/>
<path d="M336.1,248 487.4,248 487.4,14.3 267.1,14.3 273.7,25.5 280,36.7 286.3,48 291.2,57 297.2,68.2 301.8,77.2 306.3,86.2 309.6,92.9 313.8,101.9 316.9,108.6 319.8,115.4 323.5,124.4 327,133.4 329.4,140.1 331.6,146.8 333.7,153.6 335.5,160.3 337.2,167.1 338.1,171.6 339.4,178.3 340.4,185 341.2,191.8 341.6,198.5 341.8,203 341.8,209.8 341.6,214.3 341.3,218.8 340.6,225.5 340,230 338.8,236.7 337.8,241.2Z" fill="#d5ff00"/>
<path d="M339,248 487.4,248 487.4,14.3 268.6,14.3 275.2,25.5 281.6,36.7 287.9,48 292.9,57 297.8,65.9 302.5,74.9 307.1,83.9 311.6,92.9 315.9,101.9 320,110.9 322.9,117.6 326.7,126.6 329.3,133.4 331.8,140.1 334.1,146.8 336.2,153.6 338.1,160.3 339.8,167.1 341.3,173.8 342.2,178.3 343.2,185 344,191.8 344.5,198.5 344.7,203 344.7,209.8 344.5,214.3 344.2,218.8 343.5,225.5 342.9,230 341.7,236.7 340.2,243.5Z" fill="#dfff00"/>
<path d="M341.9,248 487.4,248 487.4,14.3 270,14.3 276.7,25.5 283.2,36.7 289.6,48 294.6,57 299.6,65.9 305.5,77.2 310.2,86.2 314.7,95.2 318,101.9 322.1,110.9 326.1,119.9 329,126.6 331.7,133.4 334.2,140.1 336.6,146.8 338.8,153.6 340.8,160.3 342.5,167.1 343.6,171.6 345,178.3 346.1,185 346.9,191.8 347.5,198.5 347.7,203 347.7,209.8 347.6,214.3 347.1,221 346.6,225.5 345.9,230 344.7,236.7 343.1,243.5Z" fill="#e9ff00"/>
<path d="M345,248 487.4,248 487.4,14.3 271.5,14.3 278.2,25.5 284.8,36.7 291.3,48 296.4,57 301.4,65.9 307.4,77.2 312.2,86.2 316.7,95.2 321.2,104.1 324.4,110.9 328.4,119.9 331.3,126.6 335,135.6 337.6,142.3 340,149.1 342.2,155.8 344.1,162.6 345.9,169.3 347,173.8 348.3,180.5 349.4,187.3 350,191.8 350.5,198.5 350.8,203 350.8,209.8 350.7,214.3 350.2,221 349.7,225.5 348.7,232.2 347.8,236.7 346.8,241.2Z" fill="#f3ff00"/>
<path d="M348.1,248 487.4,248 487.4,14.3 273,14.3 279.7,25.5 286.4,36.7 293,48 299.4,59.2 304.4,68.2 310.6,79.4 315.3,88.4 320,97.4 324.4,106.4 327.7,113.1 331.8,122.1 334.7,128.9 337.5,135.6 340.2,142.3 342.6,149.1 344.9,155.8 347,162.6 348.8,169.3 349.9,173.8 351.3,180.5 352.1,185 353.1,191.8 353.7,198.5 354,203 354.1,209.8 353.9,214.3 353.5,221 352.9,225.5 351.9,232.2 351,236.7 350,241.2Z" fill="#fdff00"/>
<path d="M351.4,248 487.4,248 487.4,14.3 274.5,14.3 281.3,25.5 289.4,39 296,50.2 302.5,61.4 308.8,72.7 313.8,81.7 318.6,90.7 323.3,99.6 327.8,108.6 331,115.4 335.2,124.4 338.2,131.1 341,137.9 343.7,144.6 346.2,151.3 348.5,158.1 350.6,164.8 352.4,171.6 353.5,176.1 354.9,182.8 356,189.5 356.6,194 357.2,200.8 357.4,205.3 357.4,212 357.2,216.5 356.8,221 356.3,225.5 355.3,232.2 354.3,236.7 353.3,241.2Z" fill="#fff700"/>
<path d="M354.8,248 487.4,248 487.4,14.3 276,14.3 282.9,25.5 291,39 297.7,50.2 304.3,61.4 309.5,70.4 315.8,81.7 320.7,90.7 325.5,99.6 330.1,108.6 333.4,115.4 337.7,124.4 340.8,131.1 343.7,137.9 346.5,144.6 349.1,151.3 351.5,158.1 353.6,164.8 355.6,171.6 356.7,176.1 358.2,182.8 359.4,189.5 360,194 360.5,198.5 360.9,205.3 360.9,209.8 360.8,214.3 360.6,218.8 360.4,221 359.9,225.5 359.5,227.7 358.8,232.2 357.8,236.7 356.7,241.2Z" fill="#ffed00"/>
<path d="M358.4,248 487.4,248 487.4,14.3 277.5,14.3 284.4,25.5 292.7,39 299.5,50.2 306.2,61.4 311.4,70.4 317.8,81.7 322.8,90.7 327.7,99.6 332.4,108.6 337,117.6 341.4,126.6 344.5,133.4 347.4,140.1 350.3,146.8 352.9,153.6 355.3,160.3 356.8,164.8 358.8,171.6 360,176.1 361.6,182.8 362.9,189.5 363.5,194 364.2,200.8 364.5,205.3 364.6,209.8 364.6,212 364.4,216.5 364.1,221 363.6,225.5 362.9,230 362,234.5 361.5,236.7 359.8,243.5Z" fill="#ffe300"/>
<path d="M362.1,248 487.4,248 487.4,14.3 279,14.3 294.4,39 301.3,50.2 308,61.4 314.7,72.7 319.9,81.7 326.3,92.9 331.2,101.9 334.8,108.6 339.5,117.6 342.9,124.4 347.2,133.4 350.3,140.1 353.2,146.8 356,153.6 358.5,160.3 360.1,164.8 362.2,171.6 363.5,176.1 365.2,182.8 366.6,189.5 367.3,194 367.8,198.5 368.1,200.8 368.4,205.3 368.5,209.8 368.5,212 368.3,216.5 368,221 367.5,225.5 366.8,230 366.3,232.2 365.4,236.7 364.8,239 363.6,243.5Z" fill="#ffd900"/>
<path d="M366.1,248 487.4,248 487.4,14.3 280.5,14.3 296.1,39 304.5,52.5 311.3,63.7 318,74.9 323.3,83.9 329.8,95.2 334.8,104.1 339.7,113.1 343.3,119.9 347.9,128.9 351.2,135.6 354.3,142.3 357.3,149.1 360.1,155.8 362.7,162.6 365.1,169.3 367.2,176.1 368.4,180.5 370,187.3 371.2,194 371.8,198.5 372.3,203 372.5,207.5 372.6,212 372.6,214.3 372.3,218.8 371.9,223.2 371.3,227.7 370.5,232.2 369.5,236.7 368.2,241.2 366.9,245.7Z" fill="#ffcf00"/>
<path d="M370.3,248 487.4,248 487.4,14.3 282.1,14.3 299.3,41.2 306.3,52.5 314.6,65.9 321.5,77.2 328.2,88.4 333.4,97.4 338.5,106.4 343.5,115.4 348.4,124.4 351.9,131.1 355.2,137.9 358.5,144.6 361.5,151.3 364.4,158.1 367.1,164.8 369.5,171.6 371,176.1 372.9,182.8 374,187.3 375,191.8 375.4,194 376.1,198.5 376.6,203 376.9,207.5 377,212 377,214.3 376.8,218.8 376.4,223.2 375.7,227.7 374.9,232.2 373.8,236.7 373.2,239 371.9,243.5Z" fill="#ffc500"/>
<path d="M374.8,248 487.4,248 487.4,14.3 283.7,14.3 301,41.2 309.6,54.7 318,68.2 325,79.4 331.8,90.7 337.1,99.6 342.4,108.6 346.2,115.4 351.2,124.4 354.8,131.1 359.5,140.1 362.8,146.8 366,153.6 369,160.3 371.8,167.1 373.5,171.6 375.8,178.3 377.8,185 378.9,189.5 379.9,194 380.3,196.3 381,200.8 381.5,205.3 381.8,209.8 381.8,214.3 381.6,218.8 381.2,223.2 380.5,227.7 379.6,232.2 378.5,236.7 377.9,239 376.5,243.5Z" fill="#ffc000"/>
<path d="M375.2,248 487.4,248 487.4,14.3 283.8,14.3 301.2,41.2 309.7,54.7 318.2,68.2 325.1,79.4 332,90.7 337.3,99.6 342.6,108.6 346.4,115.4 351.4,124.4 356.3,133.4 359.7,140.1 363.1,146.8 366.3,153.6 369.3,160.3 372.1,167.1 374.6,173.8 376.1,178.3 378.1,185 379.3,189.5 380.3,194 381.1,198.5 381.4,200.8 381.9,205.3 382.1,209.8 382.2,214.3 382,218.8 381.6,223.2 380.9,227.7 380,232.2 378.9,236.7 378.3,239 376.8,243.5Z" fill="#ffbe00"/>
<path d="M376.6,248 487.4,248 487.4,237.3 487.2,234.5 487.1,230 487.2,225.5 487.4,223 487.4,14.3 284.2,14.3 303.1,43.5 318.8,68.2 331.3,88.4 338,99.6 343.3,108.6 348.5,117.6 353.5,126.6 358.3,135.6 361.8,142.3 365.2,149.1 368.4,155.8 371.3,162.6 373.2,167.1 375,171.6 377.4,178.3 379.4,185 380.6,189.5 381.6,194 382.1,196.3 382.8,200.8 383.3,205.3 383.6,209.8 383.7,214.3 383.5,218.8 383.1,223.2 382.4,227.7 381.5,232.2 380.4,236.7 379.7,239 378.2,243.5Z" fill="#ffbb00"/>
<path d="M378,248 487.4,248 487.4,247.7 486.7,243.5 486.1,239 485.7,234.5 485.6,230 485.7,225.5 486.1,221 486.7,216.5 487.4,212.7 487.4,14.3 284.7,14.3 303.7,43.5 319.4,68.2 326.4,79.4 333.3,90.7 340.1,101.9 345.4,110.9 350.6,119.9 354.4,126.6 358.1,133.4 362.8,142.3 366.2,149.1 369.4,155.8 372.5,162.6 375.3,169.3 377.8,176.1 379.4,180.5 380.8,185 382,189.5 383,194 383.5,196.3 384.2,200.8 384.8,205.3 385.1,209.8 385.2,214.3 385,218.8 384.6,223.2 383.9,227.7 383,232.2 381.8,236.7 381.2,239 379.7,243.5Z" fill="#ffb900"/>
<path d="M379.4,248 486,248 485.2,243.5 484.6,239 484.2,234.5 484,230 484.1,225.5 484.3,223.2 484.8,218.8 485.1,216.5 486,212 486.5,209.8 487.4,206.5 487.4,14.3 285.1,14.3 302.7,41.2 311.4,54.7 320,68.2 327,79.4 334,90.7 339.5,99.6 346.2,110.9 351.4,119.9 356.5,128.9 361.4,137.9 364.9,144.6 368.3,151.3 371.6,158.1 374.6,164.8 376.5,169.3 378.3,173.8 380.7,180.5 382.1,185 383.4,189.5 384.5,194 385,196.3 385.7,200.8 386.3,205.3 386.6,209.8 386.7,214.3 386.6,218.8 386.2,223.2 385.5,227.7 384.5,232.2 383.4,236.7 382,241.2 381.2,243.5Z" fill="#ffb600"/>
<path d="M380.9,248 484.5,248 483.6,243.5 483.3,241.2 482.8,236.7 482.5,232.2 482.4,227.7 482.7,223.2 482.9,221 483.5,216.5 483.9,214.3 484.9,209.8 485.5,207.5 486.2,205.3 487.4,201.6 487.4,14.3 285.6,14.3 304.7,43.5 313.4,57 322,70.4 329.1,81.7 336.1,92.9 342.9,104.1 348.3,113.1 353.5,122.1 358.7,131.1 363.6,140.1 367.1,146.8 370.5,153.6 373.8,160.3 376.8,167.1 378.7,171.6 381.2,178.3 382.8,182.8 383.5,185 384.8,189.5 386,194 386.9,198.5 387.6,203 388.1,207.5 388.3,212 388.3,216.5 388,221 387.5,225.5 386.7,230 385.6,234.5 384.3,239 382.7,243.5Z" fill="#ffb300"/>
<path d="M382.5,248 483,248 482.1,243.5 481.7,241.2 481.1,236.7 480.9,234.5 480.8,230 480.8,227.7 481,223.2 481.5,218.8 481.8,216.5 482.7,212 483.3,209.8 484.6,205.3 485.3,203 486.1,200.8 487.4,197.5 487.4,14.3 286.1,14.3 306.7,45.7 322.6,70.4 329.8,81.7 336.8,92.9 343.7,104.1 349.1,113.1 354.4,122.1 359.6,131.1 364.6,140.1 368.2,146.8 371.6,153.6 374.9,160.3 378,167.1 379.9,171.6 381.7,176.1 384.2,182.8 385,185 386.3,189.5 387.5,194 388.5,198.5 389.2,203 389.7,207.5 390,212 390,216.5 389.7,221 389.1,225.5 388.3,230 387.2,234.5 385.9,239 384.3,243.5Z" fill="#ffb000"/>
<path d="M384,248 481.4,248 480.4,243.5 480,241.2 479.4,236.7 479.2,234.5 479,230 479,227.7 479.2,223.2 479.4,221 480.1,216.5 480.5,214.3 481.6,209.8 482.2,207.5 482.9,205.3 484.5,200.8 486.3,196.3 487.4,193.8 487.4,14.3 286.5,14.3 307.2,45.7 324.7,72.7 331.8,83.9 338.9,95.2 344.4,104.1 351.3,115.4 356.6,124.4 361.8,133.4 366.8,142.3 370.4,149.1 373.9,155.8 377.2,162.6 380.3,169.3 382.2,173.8 384.8,180.5 386.4,185 387.8,189.5 389.1,194 390.1,198.5 390.9,203 391.4,207.5 391.7,212 391.7,216.5 391.5,221 390.9,225.5 390.1,230 388.9,234.5 387.5,239 385.9,243.5Z" fill="#ffad00"/>
<path d="M385.7,248 479.7,248 478.7,243.5 478,239 477.7,236.7 477.3,232.2 477.2,227.7 477.3,225.5 477.6,221 477.9,218.8 478.3,216.5 479.2,212 479.8,209.8 481.1,205.3 481.9,203 483.7,198.5 485.7,194 487.4,190.5 487.4,14.3 287,14.3 307.8,45.7 325.3,72.7 339.6,95.2 346.6,106.4 352.1,115.4 357.5,124.4 362.7,133.4 367.8,142.3 371.5,149.1 375,155.8 378.4,162.6 381.6,169.3 383.6,173.8 386.3,180.5 387.9,185 389.4,189.5 390.7,194 391.8,198.5 392.6,203 393.2,207.5 393.5,212 393.5,216.5 393.3,221 392.7,225.5 391.8,230 390.7,234.5 389.3,239 387.6,243.5Z" fill="#ffaa00"/>
<path d="M387.4,248 478.1,248 477,243.5 476.2,239 475.6,234.5 475.4,232.2 475.3,227.7 475.4,225.5 475.5,223.2 476,218.8 476.8,214.3 477.9,209.8 478.6,207.5 480.1,203 481.9,198.5 482.9,196.3 485.1,191.8 487.4,187.4 487.4,14.3 287.4,14.3 308.3,45.7 325.9,72.7 334.6,86.2 341.7,97.4 348.8,108.6 354.3,117.6 359.7,126.6 365,135.6 370.1,144.6 373.8,151.3 377.4,158.1 380.8,164.8 382.9,169.3 385.9,176.1 388.7,182.8 390.3,187.3 391.7,191.8 393,196.3 394,200.8 394.7,205.3 395.2,209.8 395.4,214.3 395.3,218.8 394.9,223.2 394.6,225.5 393.7,230 392.5,234.5 391.1,239 389.4,243.5Z" fill="#ffa700"/>
<path d="M389.1,248 476.3,248 475.2,243.5 474.3,239 473.7,234.5 473.5,232.2 473.3,227.7 473.4,225.5 473.5,223.2 473.7,221 474.4,216.5 474.8,214.3 476,209.8 476.7,207.5 477.4,205.3 479.2,200.8 481.2,196.3 483.4,191.8 485.8,187.3 487.4,184.5 487.4,14.3 287.9,14.3 310.3,48 328,74.9 336.7,88.4 343.9,99.6 349.6,108.6 356.5,119.9 362,128.9 367.3,137.9 371.2,144.6 376.2,153.6 379.8,160.3 383.2,167.1 386.4,173.8 388.4,178.3 391.1,185 392.7,189.5 394.1,194 395.3,198.5 396.3,203 396.9,207.5 397.3,212 397.4,214.3 397.3,218.8 397.2,221 396.9,223.2 396.6,225.5 396.2,227.7 395.7,230 395.1,232.2 394.5,234.5 393,239 391.2,243.5Z" fill="#ffa400"/>
<path d="M391,248 474.5,248 473.2,243.5 472.3,239 471.6,234.5 471.4,232.2 471.3,230 471.2,227.7 471.3,225.5 471.4,223.2 471.6,221 471.9,218.8 472.3,216.5 472.8,214.3 473.3,212 474,209.8 474.7,207.5 475.5,205.3 477.2,200.8 479.3,196.3 481.6,191.8 484.1,187.3 487.4,181.8 487.4,14.3 288.4,14.3 310.9,48 330.1,77.2 346.1,101.9 353.2,113.1 358.8,122.1 364.3,131.1 369.7,140.1 373.6,146.8 377.4,153.6 381.1,160.3 384.6,167.1 387.9,173.8 389.9,178.3 392.8,185 394.4,189.5 395.9,194 397.2,198.5 398.2,203 398.9,207.5 399.4,212 399.5,214.3 399.5,216.5 399.4,218.8 399.3,221 398.7,225.5 398.3,227.7 397.8,230 396.5,234.5 394.9,239 393.1,243.5Z" fill="#ffa200"/>
<path d="M392.9,248 472.5,248 471.2,243.5 470.2,239 469.8,236.7 469.5,234.5 469.3,232.2 469.1,230 469,227.7 469.1,225.5 469.2,223.2 469.4,221 469.7,218.8 470.1,216.5 471.1,212 471.8,209.8 472.5,207.5 473.3,205.3 474.3,203 476.3,198.5 478.5,194 481,189.5 483.7,185 487.4,179.2 487.4,14.3 288.8,14.3 311.4,48 329.3,74.9 338.1,88.4 346.9,101.9 359.7,122.1 365.3,131.1 370.7,140.1 374.7,146.8 379.9,155.8 383.6,162.6 387.1,169.3 390.5,176.1 392.5,180.5 395.4,187.3 397.1,191.8 398.5,196.3 399.8,200.8 400.7,205.3 401.1,207.5 401.4,209.8 401.6,212 401.7,214.3 401.7,216.5 401.7,218.8 401.5,221 401.3,223.2 400.9,225.5 400.5,227.7 400,230 399.4,232.2 398.7,234.5 397,239 395.1,243.5Z" fill="#ff9f00"/>
<path d="M394.9,248 470.5,248 469.1,243.5 468,239 467.2,234.5 466.9,232.2 466.8,230 466.7,227.7 466.7,225.5 466.8,223.2 467,221 467.3,218.8 467.7,216.5 468.2,214.3 468.8,212 469.5,209.8 470.3,207.5 471.1,205.3 473.1,200.8 475.3,196.3 477.8,191.8 480.5,187.3 483.3,182.8 487.4,176.8 487.4,14.3 289.3,14.3 313.5,50.2 332.9,79.4 341.8,92.9 350.6,106.4 363.5,126.6 369.1,135.6 374.6,144.6 379.9,153.6 383.7,160.3 386.2,164.8 389.8,171.6 393.2,178.3 395.3,182.8 397.2,187.3 399,191.8 400.6,196.3 401.9,200.8 402.9,205.3 403.4,207.5 403.7,209.8 403.9,212 404,214.3 404.1,216.5 404,218.8 403.9,221 403.7,223.2 403.3,225.5 402.9,227.7 401.7,232.2 400.1,236.7 399.2,239 397.2,243.5Z" fill="#ff9c00"/>
<path d="M397.1,248 468.4,248 466.9,243.5 465.7,239 465.2,236.7 464.8,234.5 464.4,232.2 464.2,230 464.1,227.7 464.1,225.5 464.2,223.2 464.4,221 464.7,218.8 465.1,216.5 465.7,214.3 466.3,212 467,209.8 467.8,207.5 468.7,205.3 469.7,203 470.8,200.8 473.2,196.3 474.4,194 477.1,189.5 480,185 483.1,180.5 487.4,174.4 487.4,14.3 289.8,14.3 315.6,52.5 335.1,81.7 351.4,106.4 360.1,119.9 365.9,128.9 371.5,137.9 377.1,146.8 381.1,153.6 386.4,162.6 390.2,169.3 392.6,173.8 394.9,178.3 398.1,185 400.1,189.5 401.9,194 403.5,198.5 404.8,203 405.3,205.3 405.8,207.5 406.1,209.8 406.4,212 406.6,214.3 406.7,216.5 406.6,218.8 406.5,221 406.2,223.2 405.9,225.5 405.4,227.7 404.8,230 404.2,232.2 403.4,234.5 401.6,239 399.5,243.5Z" fill="#ff9900"/>
<path d="M399.3,248 466.1,248 464.5,243.5 463.1,239 462.1,234.5 461.7,232.2 461.5,230 461.3,227.7 461.3,225.5 461.3,223.2 461.5,221 461.9,218.8 462.3,216.5 462.9,214.3 463.5,212 464.3,209.8 465.2,207.5 466.2,205.3 468.4,200.8 470.9,196.3 473.6,191.8 478,185 482.8,178.3 487.4,172.2 487.4,14.3 290.3,14.3 316.2,52.5 338.8,86.2 355.2,110.9 368.3,131.1 375.5,142.3 379.7,149.1 383.8,155.8 387.8,162.6 391.7,169.3 395.5,176.1 397.9,180.5 401.2,187.3 403.2,191.8 405,196.3 406.6,200.8 407.9,205.3 408.4,207.5 408.8,209.8 409.2,212 409.4,214.3 409.5,216.5 409.5,218.8 409.3,221 409.1,223.2 408.7,225.5 408.2,227.7 407.6,230 406.9,232.2 406.1,234.5 405.2,236.7 404.1,239 401.9,243.5Z" fill="#ff9600"/>
<path d="M401.8,248 463.7,248 461.8,243.5 460.3,239 459.7,236.7 459.1,234.5 458.7,232.2 458.4,230 458.2,227.7 458.1,225.5 458.1,223.2 458.3,221 458.7,218.8 459.2,216.5 459.8,214.3 460.5,212 461.3,209.8 463.3,205.3 465.7,200.8 468.4,196.3 471.3,191.8 476,185 481,178.3 487.4,170 487.4,14.3 290.7,14.3 318.3,54.7 341,88.4 360.5,117.6 373.7,137.9 379.5,146.8 385.2,155.8 389.3,162.6 393.4,169.3 396,173.8 399.8,180.5 403.3,187.3 405.5,191.8 407.5,196.3 409.3,200.8 410,203 411.3,207.5 411.8,209.8 412.2,212 412.5,214.3 412.6,216.5 412.7,218.8 412.5,221 412.3,223.2 411.9,225.5 411.4,227.7 410.7,230 409.9,232.2 408,236.7 406.9,239 404.5,243.5Z" fill="#ff9300"/>
<path d="M404.4,248 461,248 459,243.5 458,241.2 457.2,239 456.4,236.7 455.8,234.5 455.2,232.2 454.8,230 454.5,227.7 454.4,225.5 454.4,223.2 454.6,221 455,218.8 455.5,216.5 456.2,214.3 457,212 457.9,209.8 460.2,205.3 462.8,200.8 465.7,196.3 468.8,191.8 473.8,185 480.8,176.1 487.4,168 487.4,14.3 291.2,14.3 321.9,59.2 344.8,92.9 362.9,119.9 377.8,142.3 389.4,160.3 393.7,167.1 397.8,173.8 401.8,180.5 404.4,185 408,191.8 410.2,196.3 411.2,198.5 413.1,203 414.6,207.5 415.2,209.8 415.7,212 416.1,214.3 416.3,216.5 416.4,218.8 416.3,221 416,223.2 415.6,225.5 415,227.7 414.2,230 413.4,232.2 411.3,236.7 410.1,239 407.4,243.5Z" fill="#ff9000"/>
<path d="M407.3,248 458.1,248 456.9,245.7 454.6,241.2 453.6,239 452.7,236.7 451.8,234.5 451.1,232.2 450.5,230 450.1,227.7 449.8,225.5 449.8,223.2 450,221 450.4,218.8 451,216.5 451.8,214.3 452.7,212 453.9,209.8 455.1,207.5 456.5,205.3 459.5,200.8 462.7,196.3 467.9,189.5 473.3,182.8 478.9,176.1 487.4,166 487.4,14.3 291.7,14.3 328.7,68.2 351.7,101.9 370,128.9 385,151.3 396.8,169.3 401.1,176.1 405.3,182.8 408.1,187.3 411.9,194 413.2,196.3 415.5,200.8 416.6,203 418.5,207.5 419.3,209.8 420,212 420.5,214.3 420.8,216.5 421,218.8 420.9,221 420.6,223.2 420.2,225.5 419.5,227.7 418.6,230 417.5,232.2 416.4,234.5 415.1,236.7 412.2,241.2 410.6,243.5Z" fill="#ff8d00"/>
<path d="M410.6,248 454.8,248 450.6,241.2 447.9,236.7 446.6,234.5 445.5,232.2 444.4,230 443.6,227.7 442.9,225.5 442.7,223.2 442.8,221 443.4,218.8 444.3,216.5 445.5,214.3 446.9,212 448.5,209.8 450.2,207.5 453.7,203 459.3,196.3 465.1,189.5 474.8,178.3 487.4,164 487.4,14.3 292.2,14.3 363.3,117.6 384.9,149.1 398.6,169.3 407.7,182.8 416.6,196.3 419.4,200.8 422.1,205.3 424.7,209.8 426.7,214.3 427.5,216.5 428,218.8 428.1,221 427.8,223.2 427,225.5 426,227.7 424.7,230 424.1,230.8 423.2,232.2 421.5,234.5 419.8,236.7 416.3,241.2Z" fill="#ff8b00"/>
<path d="M414.5,248 450.9,248 447.4,243.7 445.7,241.8 444.1,240.1 442.4,238.5 440.7,237.1 439.1,235.9 437.4,235.1 435.7,234.6 434.1,234.4 432.4,234.6 430.7,235 429.1,235.8 427.4,236.8 425.7,237.9 422.4,240.6 420.7,242 417.4,245.1ZM432.1,207.5 432.4,207.7 434.1,208.5 435.7,208.8 437.4,208.9 439.1,208.6 440.7,207.9 442.4,207.1 444.1,206 445.7,204.8 447.4,203.5 450.7,200.6 454.1,197.5 460.7,190.8 467.4,183.8 474.1,176.6 487.4,162.1 487.4,14.3 292.6,14.3 335.7,76.5 370.7,126.9 390.7,155.5 405.7,176.6 410.7,183.4 415.7,190.1 419.1,194.4 422.4,198.4 425.7,202.2 427.4,203.9 429.1,205.4 430.7,206.7Z" fill="#ff8800"/>
<path d="M419.5,248 445.9,248 444.1,246.4 442.4,245.2 440.7,244.1 439.1,243.3 437.4,242.6 435.7,242.2 434.1,242 432.4,242 430.7,242.2 429.1,242.6 427.4,243.2 425.7,244 424.1,244.9 420.7,247ZM433.9,200.8 435.7,201.2 437.4,201.3 439.1,201.2 440.7,200.9 442.4,200.4 444.1,199.7 445.7,198.9 447.4,197.9 449.1,196.9 452.4,194.5 455.7,191.7 459.1,188.8 462.4,185.8 465.7,182.6 470.7,177.6 475.7,172.5 487.4,160.2 487.4,14.3 293.1,14.3 335.7,75.6 365.7,118.4 377.4,134.8 387.4,148.8 395.7,160.2 402.4,169.1 409.1,177.8 414.1,183.9 417.4,187.8 420.7,191.4 422.4,193.1 424.1,194.7 425.7,196.1 427.4,197.4 429.1,198.5 430.7,199.5 432.4,200.3Z" fill="#ff8500"/>
<path d="M428.6,248 436.9,248 435.7,247.7 434.1,247.5 432.4,247.4 430.7,247.5ZM430.4,194 432.4,194.9 434.1,195.4 435.7,195.7 437.4,195.9 439.1,195.8 440.7,195.6 442.4,195.3 444.1,194.8 445.7,194.1 447.4,193.4 449.1,192.5 450.7,191.5 452.4,190.5 454.1,189.3 457.4,186.8 460.7,184.1 465.7,179.8 470.7,175.1 475.7,170.3 482.4,163.6 487.4,158.5 487.4,14.3 293.6,14.3 330.7,67.5 359.1,107.6 370.7,124 380.7,137.8 389.1,149.1 395.7,157.9 402.4,166.5 407.4,172.7 412.4,178.5 415.7,182.2 417.4,183.9 420.7,187.1 422.4,188.6 424.1,190 425.7,191.3 427.4,192.4 429.1,193.4Z" fill="#ff8200"/>
<path d="M430.2,189.5 432.4,190.4 434.1,190.9 435.7,191.2 437.4,191.4 439.1,191.4 440.7,191.3 442.4,191 444.1,190.6 445.7,190.1 449.1,188.7 452.4,186.9 455.7,184.8 459.1,182.4 462.4,179.9 467.4,175.7 470.7,172.7 475.7,168.1 480.7,163.3 487.4,156.7 487.4,14.3 294.1,14.3 329.1,64.2 344.1,85.4 355.7,101.7 365.7,115.6 375.7,129.3 384.1,140.5 392.4,151.5 399.1,159.9 404.1,166 409.1,171.8 414.1,177.2 415.7,178.8 419.1,182 422.4,184.7 424.1,186 427.4,188.2 429.1,189.1Z" fill="#ff7f00"/>
<path d="M436,187.3 437.4,187.4 439.1,187.5 440.7,187.4 442.4,187.2 444.1,186.9 445.7,186.4 447.4,185.9 450.7,184.5 452.4,183.7 455.7,181.8 459.1,179.6 462.4,177.2 465.7,174.6 469.1,171.9 472.4,169 477.4,164.5 482.4,159.8 487.4,155 487.4,14.3 294.6,14.3 314.1,42 330.7,65.6 345.7,86.7 359.1,105.2 369.1,118.8 379.1,132.2 387.4,143.1 395.7,153.6 402.4,161.6 405.7,165.4 409.1,169.1 412.4,172.5 414.1,174.1 417.4,177.2 419.1,178.7 422.4,181.3 424.1,182.4 425.7,183.5 427.4,184.4 429.1,185.2 430.7,186 432.4,186.5 434.1,187Z" fill="#ff7c00"/>
<path d="M431.8,182.8 434.1,183.5 435.7,183.8 437.4,184 439.1,184 440.7,184 442.4,183.8 444.1,183.5 445.7,183.1 447.4,182.6 449.1,182.1 450.7,181.4 454.1,179.8 457.4,177.9 460.7,175.8 464.1,173.4 469.1,169.6 474.1,165.5 477.4,162.5 480.7,159.5 487.4,153.3 487.4,14.3 295,14.3 312.4,38.9 329.1,62.4 342.4,81 354.1,97.1 364.1,110.7 374.1,124.1 382.4,135 390.7,145.5 397.4,153.6 400.7,157.4 404.1,161.2 409.1,166.5 410.7,168.2 414.1,171.3 415.7,172.8 419.1,175.6 420.7,176.9 424.1,179.2 425.7,180.1 427.4,181 429.1,181.8 430.7,182.5Z" fill="#ff7900"/>
<path d="M435.9,180.5 437.4,180.7 439.1,180.8 440.7,180.8 442.4,180.6 444.1,180.4 445.7,180.1 447.4,179.7 449.1,179.1 450.7,178.5 454.1,177.1 457.4,175.3 460.7,173.3 464.1,171.1 467.4,168.7 470.7,166.1 474.1,163.4 479.1,159.2 484.1,154.7 487.4,151.7 487.4,14.3 295.5,14.3 314.1,40.4 330.7,63.8 345.7,84.6 357.4,100.5 367.4,113.9 377.4,127 385.7,137.5 390.7,143.7 394.1,147.7 400.7,155.3 404.1,158.9 407.4,162.4 410.7,165.7 412.4,167.2 415.7,170.1 417.4,171.5 419.1,172.8 422.4,175.1 425.7,177.1 427.4,177.9 429.1,178.6 430.7,179.3 432.4,179.8 434.1,180.2Z" fill="#ff7600"/>
<path d="M430,176.1 432.4,176.8 434.1,177.3 435.7,177.6 437.4,177.8 439.1,177.8 440.7,177.8 442.4,177.7 444.1,177.5 445.7,177.2 447.4,176.8 450.7,175.8 454.1,174.5 457.4,172.8 460.7,170.9 464.1,168.8 469.1,165.3 474.1,161.5 477.4,158.8 482.4,154.5 487.4,150.1 487.4,14.3 296,14.3 312.4,37.3 327.4,58.3 340.7,76.7 352.4,92.6 362.4,106 372.4,119.1 380.7,129.7 387.4,137.9 394.1,145.8 397.4,149.6 400.7,153.2 405.7,158.5 410.7,163.3 414.1,166.2 415.7,167.6 419.1,170.1 420.7,171.2 422.4,172.3 425.7,174.2 427.4,175Z" fill="#ff7400"/>
<path d="M431.6,173.8 434.1,174.5 435.7,174.8 437.4,175 439.1,175.1 440.7,175.1 442.4,175 444.1,174.8 445.7,174.6 447.4,174.2 450.7,173.2 452.4,172.7 455.7,171.2 459.1,169.6 462.4,167.7 465.7,165.6 469.1,163.3 472.4,160.9 477.4,157 482.4,152.8 487.4,148.5 487.4,14.3 296.5,14.3 312.4,36.5 327.4,57.4 340.7,75.7 352.4,91.5 362.4,104.8 370.7,115.6 379.1,126.1 387.4,136.3 394.1,144 397.4,147.7 400.7,151.2 404.1,154.7 407.4,157.9 409.1,159.5 412.4,162.4 414.1,163.8 417.4,166.4 420.7,168.7 422.4,169.7 424.1,170.6 427.4,172.3 429.1,173Z" fill="#ff7100"/>
<path d="M433,171.6 435.7,172.1 437.4,172.3 439.1,172.4 440.7,172.5 442.4,172.4 444.1,172.2 445.7,172 447.4,171.7 450.7,170.8 454.1,169.6 457.4,168.2 460.7,166.5 464.1,164.6 467.4,162.5 470.7,160.2 475.7,156.5 479.1,153.9 484.1,149.8 487.4,146.9 487.4,14.3 297,14.3 312.4,35.8 327.4,56.5 340.7,74.7 352.4,90.4 362.4,103.5 372.4,116.4 380.7,126.7 385.7,132.7 389.1,136.6 395.7,144 399.1,147.6 402.4,151 405.7,154.2 409.1,157.3 410.7,158.8 414.1,161.5 417.4,164 419.1,165.1 420.7,166.2 424.1,168.1 427.4,169.7 429.1,170.4 430.7,170.9Z" fill="#ff6e00"/>
<path d="M434.1,169.3 435.7,169.6 437.4,169.8 439.1,169.9 440.7,170 442.4,169.9 444.1,169.8 445.7,169.6 449.1,168.9 450.7,168.5 454.1,167.3 457.4,166 460.7,164.4 464.1,162.5 467.4,160.5 470.7,158.3 475.7,154.8 479.1,152.2 484.1,148.2 487.4,145.4 487.4,14.3 297.5,14.3 314.1,37.3 327.4,55.7 340.7,73.8 352.4,89.3 362.4,102.4 372.4,115 380.7,125.2 389.1,134.9 392.4,138.7 395.7,142.3 399.1,145.7 402.4,149.1 405.7,152.2 409.1,155.2 410.7,156.6 414.1,159.3 417.4,161.7 419.1,162.8 420.7,163.9 424.1,165.7 425.7,166.5 429.1,167.9 430.7,168.5 432.4,168.9Z" fill="#ff6b00"/>
<path d="M434.9,167.1 437.4,167.4 439.1,167.6 440.7,167.6 442.4,167.6 444.1,167.5 445.7,167.3 449.1,166.6 450.7,166.2 454.1,165.2 457.4,163.9 460.7,162.3 464.1,160.6 467.4,158.6 470.7,156.5 474.1,154.2 479.1,150.6 482.4,148 487.4,143.9 487.4,14.3 298,14.3 312.4,34.2 327.4,54.8 340.7,72.8 352.4,88.2 362.4,101.2 372.4,113.7 380.7,123.8 385.7,129.6 389.1,133.3 392.4,137 395.7,140.5 399.1,143.9 402.4,147.2 405.7,150.3 409.1,153.2 410.7,154.6 414.1,157.2 417.4,159.5 419.1,160.6 420.7,161.6 424.1,163.4 425.7,164.2 429.1,165.5 430.7,166.1 432.4,166.5Z" fill="#ff6800"/>
<path d="M435.2,164.8 437.4,165.1 439.1,165.3 440.7,165.3 444.1,165.2 447.4,164.8 449.1,164.5 452.4,163.6 455.7,162.5 459.1,161.1 462.4,159.5 465.7,157.7 469.1,155.8 472.4,153.6 477.4,150.2 480.7,147.7 487.4,142.5 487.4,14.3 298.5,14.3 314.1,35.8 327.4,53.9 340.7,71.8 352.4,87.2 362.4,100 372.4,112.4 380.7,122.3 387.4,129.9 392.4,135.4 395.7,138.8 399.1,142.2 402.4,145.4 407.4,149.8 410.7,152.6 414.1,155.1 417.4,157.4 419.1,158.4 420.7,159.4 424.1,161.2 425.7,162 429.1,163.3 430.7,163.8 432.4,164.3Z" fill="#ff6500"/>
<path d="M434.9,162.6 437.4,162.9 440.7,163.2 442.4,163.1 445.7,162.9 449.1,162.3 452.4,161.5 455.7,160.5 459.1,159.2 462.4,157.6 465.7,155.9 469.1,154 472.4,152 475.7,149.7 479.1,147.4 484.1,143.7 487.4,141 487.4,14.3 299,14.3 314.1,35 329.1,55.3 340.7,70.9 352.4,86.1 362.4,98.9 370.7,109.1 379.1,119 382.4,122.9 387.4,128.4 390.7,132 395.7,137.2 399.1,140.5 402.4,143.6 407.4,148 410.7,150.7 414.1,153.1 415.7,154.3 419.1,156.4 420.7,157.3 424.1,159 425.7,159.8 429.1,161.1 432.4,162.1Z" fill="#ff6200"/>
<path d="M434.2,160.3 437.4,160.8 440.7,161 442.4,161 445.7,160.8 449.1,160.3 452.4,159.5 455.7,158.5 459.1,157.3 462.4,155.8 465.7,154.1 469.1,152.3 472.4,150.3 475.7,148.1 479.1,145.8 482.4,143.4 487.4,139.6 487.4,14.3 299.5,14.3 314.1,34.2 327.4,52.3 339.1,67.8 350.7,83 360.7,95.6 369.1,105.9 377.4,115.8 382.4,121.5 385.7,125.1 392.4,132.2 395.7,135.6 399.1,138.8 402.4,141.9 405.7,144.8 409.1,147.5 412.4,150 415.7,152.3 419.1,154.4 420.7,155.3 424.1,157 425.7,157.7 429.1,159 432.4,159.9Z" fill="#ff5f00"/>
<path d="M433.3,158.1 435.7,158.6 439.1,158.9 442.4,159 445.7,158.8 449.1,158.3 452.4,157.6 454.1,157.2 457.4,156.1 460.7,154.8 464.1,153.2 467.4,151.5 470.7,149.7 474.1,147.6 479.1,144.3 484.1,140.7 487.4,138.2 487.4,14.3 300,14.3 314.1,33.5 327.4,51.4 339.1,66.8 350.7,81.9 360.7,94.5 369.1,104.7 377.4,114.4 380.7,118.2 385.7,123.7 389.1,127.3 394.1,132.4 397.4,135.6 400.7,138.7 405.7,143 409.1,145.7 412.4,148.2 415.7,150.4 417.4,151.4 419.1,152.4 422.4,154.2 424.1,155 427.4,156.4 430.7,157.5Z" fill="#ff5d00"/>
<path d="M432.1,155.8 434.1,156.3 437.4,156.8 440.7,157 444.1,157 447.4,156.7 450.7,156.1 454.1,155.3 457.4,154.2 460.7,153 464.1,151.5 467.4,149.9 470.7,148 474.1,146.1 479.1,142.8 484.1,139.3 487.4,136.9 487.4,14.3 300.5,14.3 314.1,32.7 327.4,50.6 339.1,65.9 349.1,78.8 359.1,91.4 367.4,101.5 375.7,111.2 380.7,116.9 384.1,120.5 390.7,127.5 394.1,130.8 397.4,134 400.7,137.1 404.1,139.9 407.4,142.6 410.7,145.2 414.1,147.5 417.4,149.6 419.1,150.5 422.4,152.3 424.1,153.1 427.4,154.4 429.1,155Z" fill="#ff5a00"/>
<path d="M430.9,153.6 434.1,154.3 437.4,154.9 440.7,155.1 444.1,155.1 447.4,154.8 450.7,154.3 454.1,153.5 457.4,152.5 460.7,151.2 464.1,149.8 467.4,148.2 470.7,146.4 475.7,143.5 479.1,141.4 482.4,139.1 487.4,135.5 487.4,14.3 301,14.3 314.1,32 327.4,49.8 339.1,65 349.1,77.8 359.1,90.3 367.4,100.3 375.7,110 379.1,113.7 384.1,119.2 390.7,126 394.1,129.3 397.4,132.5 400.7,135.4 404.1,138.3 407.4,141 409.1,142.2 410.7,143.4 414.1,145.7 417.4,147.8 420.7,149.6 422.4,150.4 425.7,151.9 429.1,153.1Z" fill="#ff5700"/>
<path d="M429.6,151.3 432.4,152.1 435.7,152.8 439.1,153.2 442.4,153.3 445.7,153.1 449.1,152.8 452.4,152.1 455.7,151.3 459.1,150.2 462.4,148.9 465.7,147.4 470.7,144.9 474.1,143 479.1,139.9 484.1,136.5 487.4,134.2 487.4,14.3 301.5,14.3 314.1,31.2 327.4,48.9 339.1,64.1 349.1,76.8 359.1,89.2 367.4,99.2 374.1,106.9 379.1,112.4 382.4,116 389.1,123 392.4,126.2 395.7,129.4 399.1,132.4 402.4,135.3 407.4,139.3 410.7,141.7 414.1,144 417.4,146 419.1,146.9 420.7,147.8 424.1,149.3 427.4,150.6Z" fill="#ff5400"/>
<path d="M439.2,151.3 442.4,151.5 444.1,151.4 447.4,151.2 449.1,151 450.7,150.7 454.1,150 457.4,149 460.7,147.9 464.1,146.6 467.4,145 470.7,143.4 474.1,141.5 477.4,139.5 480.7,137.4 484.1,135.2 487.4,132.8 487.4,14.3 302,14.3 315.7,32.7 329.1,50.3 340.7,65.4 352.4,80 362.4,92.2 367.4,98 372.4,103.8 377.4,109.4 380.7,113 384.1,116.5 389.1,121.6 392.4,124.8 395.7,127.9 399.1,130.9 402.4,133.7 405.7,136.4 409.1,138.9 412.4,141.2 415.7,143.3 419.1,145.2 420.7,146 424.1,147.6 427.4,148.8 430.7,149.9 434.1,150.7 437.4,151.2Z" fill="#ff5100"/>
<path d="M435.3,149.1 437.4,149.4 440.7,149.7 444.1,149.7 447.4,149.5 450.7,149 454.1,148.3 455.7,147.9 459.1,146.9 462.4,145.7 465.7,144.3 469.1,142.7 472.4,141 475.7,139.1 479.1,137.1 482.4,135 487.4,131.5 487.4,14.3 302.5,14.3 315.7,32 329.1,49.5 340.7,64.5 350.7,77 360.7,89.1 369.1,98.8 377.4,108.1 380.7,111.7 385.7,116.9 392.4,123.4 395.7,126.5 399.1,129.4 402.4,132.2 405.7,134.8 409.1,137.3 412.4,139.6 415.7,141.6 419.1,143.5 422.4,145.1 424.1,145.8 425.7,146.5 429.1,147.6 432.4,148.5Z" fill="#ff4e00"/>
<path d="M432.7,146.8 435.7,147.4 439.1,147.8 440.7,147.9 444.1,148 447.4,147.8 450.7,147.3 454.1,146.7 457.4,145.8 460.7,144.7 464.1,143.4 469.1,141.2 472.4,139.5 477.4,136.7 480.7,134.7 484.1,132.5 487.4,130.3 487.4,14.3 303,14.3 315.7,31.2 327.4,46.5 339.1,61.5 349.1,74 359.1,86.1 367.4,95.8 375.7,105.1 380.7,110.4 384.1,113.9 389.1,118.9 392.4,122 395.7,125.1 399.1,128 404.1,132 407.4,134.5 410.7,136.9 414.1,139 417.4,140.9 419.1,141.8 422.4,143.4 424.1,144.1 427.4,145.4 430.7,146.4Z" fill="#ff4b00"/>
<path d="M430.4,144.6 434.1,145.4 437.4,146 440.7,146.2 444.1,146.3 447.4,146.1 450.7,145.7 454.1,145 457.4,144.2 460.7,143.2 464.1,141.9 467.4,140.5 470.7,138.9 474.1,137.2 479.1,134.4 482.4,132.3 487.4,129 487.4,14.3 303.5,14.3 317.4,32.7 329.1,47.8 339.1,60.6 349.1,73 359.1,85 367.4,94.7 375.7,103.9 382.4,110.9 385.7,114.3 389.1,117.5 392.4,120.7 395.7,123.7 399.1,126.5 402.4,129.2 405.7,131.8 409.1,134.2 412.4,136.4 415.7,138.4 417.4,139.3 420.7,141 422.4,141.7 425.7,143.1 427.4,143.7Z" fill="#ff4800"/>
<path d="M440.8,144.6 444.1,144.6 445.7,144.6 447.4,144.5 450.7,144.1 452.4,143.8 455.7,143.1 459.1,142.2 462.4,141 467.4,139 470.7,137.5 474.1,135.8 477.4,134 480.7,132 484.1,129.9 487.4,127.7 487.4,14.3 304,14.3 317.4,31.9 330.7,49.2 342.4,63.9 349.1,72.1 354.1,78.1 364.1,89.8 372.4,99.1 375.7,102.7 380.7,108 384.1,111.4 389.1,116.2 392.4,119.3 395.7,122.3 399.1,125.1 402.4,127.8 405.7,130.3 409.1,132.6 412.4,134.8 415.7,136.8 419.1,138.6 422.4,140.1 425.7,141.5 429.1,142.6 432.4,143.4 435.7,144.1 439.1,144.5Z" fill="#ff4600"/>
<path d="M435.2,142.3 437.4,142.7 440.7,143 444.1,143 447.4,142.9 450.7,142.5 454.1,141.9 455.7,141.5 459.1,140.6 462.4,139.6 465.7,138.3 469.1,136.9 472.4,135.3 475.7,133.6 479.1,131.7 482.4,129.7 487.4,126.5 487.4,14.3 304.6,14.3 317.4,31.2 329.1,46.2 340.7,60.9 350.7,73.1 360.7,84.9 369.1,94.4 372.4,98 377.4,103.3 384.1,110.1 390.7,116.5 394.1,119.5 397.4,122.3 400.7,125 404.1,127.6 407.4,130 410.7,132.3 414.1,134.3 417.4,136.1 419.1,137 422.4,138.5 425.7,139.8 429.1,140.9 432.4,141.8Z" fill="#ff4300"/>
<path d="M431.9,140.1 434.1,140.6 437.4,141.1 440.7,141.4 444.1,141.5 447.4,141.3 450.7,141 454.1,140.4 457.4,139.6 460.7,138.7 464.1,137.5 467.4,136.2 472.4,133.9 475.7,132.2 479.1,130.4 484.1,127.4 487.4,125.3 487.4,14.3 305.1,14.3 317.4,30.4 329.1,45.4 339.1,58 349.1,70.2 359.1,82 367.4,91.4 375.7,100.4 382.4,107.2 389.1,113.6 392.4,116.7 395.7,119.6 399.1,122.3 402.4,124.9 405.7,127.4 409.1,129.7 412.4,131.8 415.7,133.7 417.4,134.6 420.7,136.2 422.4,137 425.7,138.3 429.1,139.4Z" fill="#ff4000"/>
<path d="M429.2,137.9 432.4,138.7 435.7,139.3 439.1,139.7 442.4,139.9 445.7,139.9 449.1,139.6 452.4,139.2 455.7,138.5 459.1,137.7 462.4,136.7 467.4,134.8 470.7,133.3 474.1,131.8 479.1,129.1 482.4,127.2 487.4,124.1 487.4,14.3 305.6,14.3 317.4,29.7 329.1,44.6 339.1,57.1 349.1,69.3 357.4,79.1 365.7,88.5 372.4,95.8 377.4,101 380.7,104.4 384.1,107.7 387.4,110.8 390.7,113.9 394.1,116.8 397.4,119.6 400.7,122.3 404.1,124.8 407.4,127.1 412.4,130.3 415.7,132.2 419.1,133.9 420.7,134.7 424.1,136.1 427.4,137.3Z" fill="#ff3d00"/>
<path d="M436.4,137.9 439.1,138.2 442.4,138.4 445.7,138.4 449.1,138.1 452.4,137.7 455.7,137.1 457.4,136.7 460.7,135.8 464.1,134.7 467.4,133.4 470.7,132 474.1,130.4 477.4,128.7 480.7,126.9 484.1,125 487.4,122.9 487.4,14.3 306.1,14.3 319.1,31.1 330.7,45.9 342.4,60.3 352.4,72.3 360.7,81.9 369.1,91.1 374.1,96.4 377.4,99.9 380.7,103.2 385.7,108.1 389.1,111.1 392.4,114.1 395.7,116.9 399.1,119.6 402.4,122.2 405.7,124.6 409.1,126.8 412.4,128.9 415.7,130.8 419.1,132.5 422.4,133.9 424.1,134.6 427.4,135.8 430.7,136.7 434.1,137.5Z" fill="#ff3a00"/>
<path d="M432.3,135.6 435.7,136.3 439.1,136.7 442.4,136.9 445.7,136.9 449.1,136.7 452.4,136.2 455.7,135.6 459.1,134.8 462.4,133.9 465.7,132.7 469.1,131.4 472.4,129.9 477.4,127.5 480.7,125.7 484.1,123.7 487.4,121.7 487.4,14.3 306.6,14.3 317.4,28.2 329.1,43 339.1,55.4 349.1,67.4 354.1,73.3 359.1,79 367.4,88.3 370.7,91.8 375.7,97.1 382.4,103.7 389.1,109.9 392.4,112.8 395.7,115.6 399.1,118.3 402.4,120.9 405.7,123.2 409.1,125.4 412.4,127.5 415.7,129.3 417.4,130.2 420.7,131.8 424.1,133.1 427.4,134.3 429.1,134.8Z" fill="#ff3700"/>
<path d="M429.2,133.4 432.4,134.2 435.7,134.8 439.1,135.2 442.4,135.4 445.7,135.4 449.1,135.2 452.4,134.8 455.7,134.2 459.1,133.4 462.4,132.5 467.4,130.7 470.7,129.4 474.1,127.9 479.1,125.3 482.4,123.5 487.4,120.5 487.4,14.3 307.2,14.3 319.1,29.6 329.1,42.2 339.1,54.6 349.1,66.5 357.4,76.2 365.7,85.4 374.1,94.2 380.7,100.9 387.4,107.2 390.7,110.2 394.1,113 397.4,115.7 400.7,118.3 404.1,120.7 407.4,123 410.7,125.1 414.1,127 415.7,127.9 419.1,129.6 420.7,130.3 424.1,131.7 427.4,132.8Z" fill="#ff3600"/>
<path d="M429.2,133.4 432.4,134.2 435.7,134.8 439.1,135.2 442.4,135.4 445.7,135.4 449.1,135.2 452.4,134.8 455.7,134.2 459.1,133.4 462.4,132.5 467.4,130.7 470.7,129.4 474.1,127.9 479.1,125.3 482.4,123.5 487.4,120.5 487.4,14.3 307.2,14.3 319.1,29.6 329.1,42.2 339.1,54.6 349.1,66.5 357.4,76.2 365.7,85.4 374.1,94.2 380.7,100.9 387.4,107.2 390.7,110.2 394.1,113 397.4,115.7 400.7,118.3 404.1,120.7 407.4,123 410.7,125.1 414.1,127 415.7,127.9 419.1,129.6 420.7,130.3 424.1,131.7 427.4,132.8Z" fill="#ff3200"/>
<path d="M436.8,131.1 439.1,131.4 442.4,131.6 445.7,131.6 449.1,131.5 452.4,131.1 455.7,130.6 457.4,130.2 460.7,129.4 464.1,128.4 467.4,127.3 470.7,126 474.1,124.5 477.4,123 480.7,121.2 484.1,119.4 487.4,117.5 487.4,14.3 308.6,14.3 320.7,29.7 332.4,44.2 342.4,56.3 352.4,68 357.4,73.6 362.4,79.1 370.7,88 374.1,91.4 379.1,96.3 385.7,102.6 389.1,105.5 392.4,108.3 395.7,111.1 399.1,113.6 402.4,116.1 405.7,118.4 409.1,120.5 412.4,122.4 415.7,124.2 419.1,125.8 422.4,127.3 424.1,127.9 427.4,129 430.7,129.9 434.1,130.7Z" fill="#ff2a00"/>
<path d="M432.2,126.6 435.7,127.3 439.1,127.7 442.4,128 445.7,128 449.1,127.9 452.4,127.5 455.7,127 459.1,126.3 462.4,125.5 465.7,124.5 469.1,123.3 472.4,122 475.7,120.6 479.1,119 484.1,116.4 487.4,114.5 487.4,14.3 310,14.3 320.7,27.8 332.4,42.1 342.4,54.1 350.7,63.7 359.1,73 367.4,81.8 372.4,86.9 375.7,90.2 382.4,96.5 389.1,102.4 392.4,105.2 395.7,107.8 399.1,110.4 402.4,112.7 405.7,115 409.1,117 412.4,118.9 415.7,120.7 420.7,123 424.1,124.3 427.4,125.4 429.1,125.9Z" fill="#ff2300"/>
<path d="M441.2,124.4 444.1,124.5 447.4,124.5 450.7,124.3 452.4,124.1 454.1,123.9 457.4,123.3 460.7,122.6 464.1,121.7 469.1,120.1 472.4,118.8 475.7,117.4 479.1,115.9 482.4,114.3 487.4,111.6 487.4,14.3 311.4,14.3 322.4,27.9 334.1,42.1 344.1,53.8 354.1,65.1 362.4,74 370.7,82.6 375.7,87.5 379.1,90.6 382.4,93.7 387.4,98 390.7,100.8 395.7,104.7 399.1,107.2 402.4,109.5 405.7,111.7 409.1,113.7 412.4,115.6 415.7,117.3 419.1,118.8 422.4,120.2 425.7,121.3 429.1,122.3 432.4,123.1 435.7,123.8 439.1,124.2Z" fill="#ff1b00"/>
<path d="M433.1,119.9 435.7,120.4 439.1,120.8 442.4,121 445.7,121.1 449.1,121 452.4,120.8 455.7,120.3 459.1,119.7 462.4,119 465.7,118 469.1,117 472.4,115.8 475.7,114.4 480.7,112.2 484.1,110.5 487.4,108.8 487.4,14.3 312.9,14.3 324.1,28 334.1,40 344.1,51.6 352.4,60.9 360.7,69.8 367.4,76.7 370.7,80 375.7,84.8 382.4,90.8 385.7,93.7 389.1,96.5 392.4,99.2 395.7,101.7 399.1,104.1 402.4,106.4 405.7,108.5 409.1,110.5 412.4,112.3 415.7,114 420.7,116.2 424.1,117.4 427.4,118.5 430.7,119.4Z" fill="#ff1300"/>
<path d="M440.5,117.6 442.4,117.8 445.7,117.9 447.4,117.8 450.7,117.7 454.1,117.3 455.7,117.1 459.1,116.6 462.4,115.8 467.4,114.5 470.7,113.4 474.1,112.1 477.4,110.8 480.7,109.3 484.1,107.7 487.4,106 487.4,14.3 314.3,14.3 325.7,28.1 335.7,39.9 345.7,51.3 354.1,60.4 359.1,65.7 364.1,70.8 369.1,75.8 372.4,79 375.7,82.1 380.7,86.6 384.1,89.5 387.4,92.3 390.7,95 394.1,97.5 397.4,99.9 400.7,102.2 404.1,104.4 407.4,106.4 410.7,108.3 414.1,110 417.4,111.5 420.7,112.9 424.1,114.1 427.4,115.2 430.7,116.1 434.1,116.8 437.4,117.3Z" fill="#ff0c00"/>
<path d="M431.9,113.1 435.7,113.9 439.1,114.3 442.4,114.6 445.7,114.7 449.1,114.6 452.4,114.4 455.7,114 459.1,113.5 462.4,112.8 465.7,111.9 469.1,111 472.4,109.9 475.7,108.6 479.1,107.2 482.4,105.7 487.4,103.3 487.4,14.3 315.8,14.3 325.7,26.2 335.7,37.8 344.1,47.2 352.4,56.3 360.7,65 367.4,71.7 374.1,78 379.1,82.5 382.4,85.4 385.7,88.2 389.1,90.8 392.4,93.4 395.7,95.9 399.1,98.2 402.4,100.3 407.4,103.4 410.7,105.2 414.1,106.9 417.4,108.4 420.7,109.8 425.7,111.5 429.1,112.5Z" fill="#ff0400"/>
<path d="M436.7,110.9 439.1,111.2 442.4,111.5 445.7,111.6 449.1,111.6 454.1,111.2 457.4,110.8 460.7,110.2 464.1,109.4 467.4,108.6 470.7,107.6 474.1,106.4 477.4,105.2 480.7,103.8 484.1,102.3 487.4,100.7 487.4,14.3 317.3,14.3 327.4,26.2 337.4,37.7 345.7,47 354.1,55.9 362.4,64.4 367.4,69.3 370.7,72.4 374.1,75.5 379.1,79.9 382.4,82.8 385.7,85.5 389.1,88.1 392.4,90.6 395.7,93 399.1,95.3 402.4,97.5 405.7,99.5 409.1,101.3 412.4,103.1 417.4,105.4 420.7,106.7 424.1,107.9 427.4,108.9 430.7,109.8 434.1,110.5Z" fill="#ff0000"/>
</g>
<path d="M232.4,76.8 235.9,88.4 239.1,99.6 241.9,110.9 244.4,122.1 245.3,126.6 246.6,133.4 248,142.3 248.7,146.8 249.6,153.6 250.5,162.6 251.1,169.3 251.4,173.8 251.8,182.8 251.9,189.5 251.9,194 251.7,203 251.2,212 250.8,216.5 250.2,223.2 249.7,227.7 248.8,234.5 247.4,243.5M232.4,40.4 235.5,48 238.1,54.7 241.5,63.7 244,70.4 246.3,77.2 248.6,83.9 250.7,90.7 252.8,97.4 254.7,104.1 256.6,110.9 258.3,117.6 259.9,124.4 261.4,131.1 262.7,137.9 263.5,142.3 264.6,149.1 265.6,155.8 266.4,162.6 267.1,169.3 267.4,173.8 267.8,180.5 268,185 268.1,191.8 268.2,196.3 268,203 267.8,207.5 267.4,214.3 266.8,221 266.4,225.5 265.5,232.2 264.8,236.7 263.7,243.5M241.1,18.8 245.5,27.7 249.7,36.7 253.8,45.7 257.8,54.7 261.7,63.7 264.4,70.4 268,79.4 270.6,86.2 273.1,92.9 276.2,101.9 278.4,108.6 280.5,115.4 282.4,122.1 284.3,128.9 285.9,135.6 287.5,142.3 288.9,149.1 290.1,155.8 291.2,162.6 292,169.3 292.8,176.1 293.3,182.8 293.6,189.5 293.8,194 293.8,200.8 293.6,207.5 293.3,214.3 292.9,218.8 292.2,225.5 291.6,230 290.6,236.7 289.4,243.5M258.2,18.8 263,27.7 268.9,39 273.5,48 278,57 282.3,65.9 286.5,74.9 289.6,81.7 293.5,90.7 296.3,97.4 299.9,106.4 302.5,113.1 304.9,119.9 307.2,126.6 309.4,133.4 311.4,140.1 313.2,146.8 314.9,153.6 316.4,160.3 317.6,167.1 318.4,171.6 319.3,178.3 320.1,185 320.6,191.8 320.8,196.3 320.9,203 320.8,207.5 320.5,214.3 320,221 319.5,225.5 318.6,232.2 317.8,236.7 316.4,243.5M276.3,18.8 283.1,30 289.7,41.2 296.3,52.5 301.4,61.4 306.5,70.4 311.4,79.4 316.2,88.4 320.8,97.4 325.4,106.4 328.6,113.1 332.8,122.1 335.8,128.9 338.6,135.6 341.3,142.3 343.8,149.1 346.1,155.8 348.2,162.6 349.5,167.1 351.2,173.8 352.2,178.3 353.4,185 354.1,189.5 354.9,196.3 355.2,200.8 355.4,207.5 355.4,212 355.2,216.5 354.8,221 354.3,225.5 353.3,232.2 351.9,239 350.7,243.5M285,18.8 293.6,32.2 302.1,45.7 316,68.2 321.5,77.2 328.2,88.4 333.4,97.4 338.6,106.4 343.5,115.4 348.4,124.4 351.9,131.1 355.2,137.9 358.5,144.6 361.6,151.3 364.4,158.1 366.2,162.6 367.9,167.1 370.3,173.8 371.7,178.3 373.5,185 375,191.8 375.8,196.3 376.4,200.8 376.8,205.3 377,209.8 377,214.3 376.8,218.8 376.4,223.2 375.7,227.7 374.9,232.2 374.4,234.5 373.2,239 371.9,243.5M463.3,243.5 461.9,239 461.3,236.7 460.8,234.5 460.4,232.2 460.1,230 460,227.7 459.9,225.5 460,223.2 460.2,221 460.5,218.8 461,216.5 461.5,214.3 462.2,212 463,209.8 464,207.5 465,205.3 466.1,203 468.5,198.5 471.2,194 474.1,189.5 478.8,182.8 482.4,177.8M293.5,18.8 319.4,57 340.6,88.4 357,113.1 370.2,133.4 376,142.3 381.6,151.3 389.8,164.8 393.7,171.6 396.3,176.1 399.9,182.8 402.1,187.3 404.2,191.8 406.1,196.3 407,198.5 408.5,203 409.7,207.5 410.1,209.8 410.5,212 410.7,214.3 410.8,216.5 410.8,218.8 410.7,221 410.4,223.2 410.1,225.5 409.6,227.7 408.9,230 408.2,232.2 406.4,236.7 405.3,239 403,243.5M300.2,18.8 324.1,51.9 334.1,65.6 344.1,79.2 352.4,90.4 360.7,101.4 369.1,112.1 375.7,120.5 382.4,128.7 389.1,136.5 394.1,142.2 399.1,147.6 404.1,152.6 409.1,157.3 410.7,158.7 414.1,161.5 417.4,164 420.7,166.2 424.1,168.1 425.7,168.9 429.1,170.3 430.7,170.9 432.4,171.4 434.1,171.8 435.7,172.1 437.4,172.3 439.1,172.4 440.7,172.4 442.4,172.4 444.1,172.2 445.7,172 449.1,171.2 450.7,170.8 454.1,169.6 457.4,168.1 460.7,166.4 462.4,165.5 465.7,163.5 467.4,162.4 472.4,159 477.4,155.2 482.4,151.2M321.1,18.8 327.4,26.2 334.1,33.9 340.7,41.4 347.4,48.8 354.1,55.9 359.1,61 365.7,67.6 370.7,72.4 375.7,77 380.7,81.4 385.7,85.5 390.7,89.4 395.7,93 400.7,96.4 405.7,99.5 410.7,102.2 415.7,104.6 420.7,106.7 424.1,107.9 429.1,109.4 432.4,110.1 434.1,110.5 437.4,111 440.7,111.4 442.4,111.5 445.7,111.6 449.1,111.6 454.1,111.2 459.1,110.5 464.1,109.4 469.1,108.1 472.4,107 477.4,105.2 482.4,103M352.4,18.8 357.4,23.1 362.4,27.3 367.4,31.4 370.7,34 375.7,37.7 379.1,40.1 382.4,42.4 387.4,45.7 392.4,48.8 395.7,50.7 400.7,53.4 404.1,55.1 407.4,56.6 410.7,58.1 415.7,60.1 419.1,61.2 422.4,62.3 425.7,63.2 430.7,64.4 434.1,65.1 437.4,65.6 442.4,66.2 445.7,66.4 450.7,66.6 454.1,66.5 457.4,66.4 460.7,66.1 465.7,65.5 469.1,65 474.1,64 479.1,62.7 482.4,61.8" fill="none" stroke="#000" stroke-opacity="0.9" stroke-width="0.7"/>
<path d="M232.4,18.8H482.4V243.5" fill="none" stroke="#000" stroke-opacity="0.5" stroke-width="0.7"/>
<path d="M232.4,18.8V243.5H482.4" fill="none" stroke="#3a3a3a" stroke-width="0.8"/>
<path d="M232.4,243.5v5.6M282.4,243.5v5.6M332.4,243.5v5.6M382.4,243.5v5.6M432.4,243.5v5.6M482.4,243.5v5.6M232.4,243.5h-6.2M232.4,198.5h-6.2M232.4,153.6h-6.2M232.4,108.6h-6.2M232.4,63.7h-6.2M232.4,18.8h-6.2" fill="none" stroke="#555" stroke-width="0.8"/>
<g font-family="'Liberation Sans',sans-serif" font-size="6.6" fill="#333">
<text x="232.5" y="256.5" text-anchor="middle" textLength="7" lengthAdjust="spacingAndGlyphs">20</text>
<text x="282.5" y="256.5" text-anchor="middle" textLength="7" lengthAdjust="spacingAndGlyphs">40</text>
<text x="332.5" y="256.5" text-anchor="middle" textLength="7" lengthAdjust="spacingAndGlyphs">60</text>
<text x="382.5" y="256.5" text-anchor="middle" textLength="7" lengthAdjust="spacingAndGlyphs">80</text>
<text x="432.5" y="256.5" text-anchor="middle" textLength="9.8" lengthAdjust="spacingAndGlyphs">100</text>
<text x="482.5" y="256.5" text-anchor="middle" textLength="9.8" lengthAdjust="spacingAndGlyphs">120</text>
<text x="224.1" y="245.4" text-anchor="end" textLength="3.6" lengthAdjust="spacingAndGlyphs">0</text>
<text x="224.1" y="200.4" text-anchor="end" textLength="7" lengthAdjust="spacingAndGlyphs">10</text>
<text x="224.1" y="155.5" text-anchor="end" textLength="7" lengthAdjust="spacingAndGlyphs">20</text>
<text x="224.1" y="110.5" text-anchor="end" textLength="7" lengthAdjust="spacingAndGlyphs">30</text>
<text x="224.1" y="65.6" text-anchor="end" textLength="7" lengthAdjust="spacingAndGlyphs">40</text>
<text x="224.1" y="20.6" text-anchor="end" textLength="7" lengthAdjust="spacingAndGlyphs">50</text>
</g>
<text x="357.1" y="14.9" text-anchor="middle" font-family="'Liberation Sans',sans-serif" font-size="9.3" fill="#222" textLength="36.4" lengthAdjust="spacingAndGlyphs" xml:space="preserve">BTE  (%)</text>
<text x="356.9" y="273.6" text-anchor="middle" font-family="'Liberation Sans',sans-serif" font-size="8.6" fill="#333" textLength="48" lengthAdjust="spacingAndGlyphs" xml:space="preserve">A: LOAD  (%)</text>
<text transform="translate(194.5,130.2) rotate(-90)" text-anchor="middle" font-family="'Liberation Sans',sans-serif" font-size="8.8" fill="#333" textLength="31.2" lengthAdjust="spacingAndGlyphs">C: Blends</text>
<g font-family="'Liberation Sans',sans-serif" font-size="3.7" fill="#2a2a2a" text-anchor="middle">
<rect x="246.5" y="151.2" width="6.8" height="4.5" fill="#fff" stroke="#4a4a4a" stroke-width="0.55"/>
<text x="249.9" y="154.8">20</text>
<rect x="253.6" y="129.2" width="16.6" height="4.5" fill="#fff" stroke="#4a4a4a" stroke-width="0.55"/>
<text x="261.9" y="132.8">22.8747</text>
<rect x="273.6" y="115.2" width="16.6" height="4.5" fill="#fff" stroke="#4a4a4a" stroke-width="0.55"/>
<text x="281.9" y="118.7">25.9939</text>
<rect x="301.4" y="115.2" width="6.8" height="4.5" fill="#fff" stroke="#4a4a4a" stroke-width="0.55"/>
<text x="304.8" y="118.7">30</text>
<rect x="321" y="109.8" width="16.6" height="4.5" fill="#fff" stroke="#4a4a4a" stroke-width="0.55"/>
<text x="329.3" y="113.3">33.9112</text>
<rect x="337.7" y="115.2" width="16.6" height="4.5" fill="#fff" stroke="#4a4a4a" stroke-width="0.55"/>
<text x="346" y="118.7">34.7972</text>
<rect x="357.1" y="121" width="16.6" height="4.5" fill="#fff" stroke="#4a4a4a" stroke-width="0.55"/>
<text x="365.4" y="124.5">36.1042</text>
<rect x="368.6" y="115.2" width="12.6" height="4.5" fill="#fff" stroke="#4a4a4a" stroke-width="0.55"/>
<text x="374.9" y="118.8">37.76</text>
<rect x="382.9" y="81.5" width="6.8" height="4.5" fill="#fff" stroke="#4a4a4a" stroke-width="0.55"/>
<text x="386.3" y="85">40</text>
<rect x="399.2" y="52.5" width="16.6" height="4.5" fill="#fff" stroke="#4a4a4a" stroke-width="0.55"/>
<text x="407.5" y="56">40.5905</text>
<rect x="455.8" y="202.1" width="16.6" height="4.5" fill="#fff" stroke="#4a4a4a" stroke-width="0.55"/>
<text x="464.1" y="205.6">36.1042</text>
</g>
</g>
<g id="surface-plot">
<rect x="1.5" y="347.1" width="305.4" height="294" fill="#fff" stroke="#222" stroke-width="1.1"/>
<path d="M57.6,513.8L179.8,463.1L292.2,520.3M56.5,496.7L179.8,447.4L293.3,503M55.4,479.6L179.9,431.6L294.4,485.7M54.3,462.4L179.9,415.9L295.6,468.4M53.2,445.3L180,400.1L296.7,451.1M52.1,428.2L180,384.3L297.8,433.8M51,411.1L180.1,368.6L298.9,416.5M49.9,393.9L180.1,352.8L300.1,399.2M75.9,385.7L82,503.7M204.1,362.1L202.3,474.5M102,377.5L106.4,493.5M228.1,371.4L224.7,486M128,369.3L130.9,483.4M252.1,380.7L247.2,497.4M154.1,361.1L155.3,473.2M276.1,390L269.7,508.9" fill="none" stroke="#222" stroke-width="0.72"/>
<path d="M49.9,393.9L59.9,551M300.1,399.2L289.7,557.8" fill="none" stroke="#2b2b2b" stroke-width="0.7"/>
<path d="M180.1,352.8L179.7,497.6" fill="none" stroke="#8a8a8a" stroke-width="1.3"/>
<path d="M59.9,551L167.1,625.9L289.7,557.8L179.7,497.6Z" fill="#626262" stroke="#333" stroke-width="0.6"/>
<path d="M85.1,568.6 93.5,570.7 101.4,572.9 109.1,575.3 116.5,577.8 123.8,580.5 130.8,583.4 136.3,585.9 142.8,589.1 149.1,592.5 153.9,595.4 159.7,599.3 164.1,602.6 169.3,606.9 173.3,610.5 177.1,614.4 180.7,618.4" fill="none" stroke="#00fdff" stroke-width="1.1"/>
<path d="M69.1,557.4 80.4,559.4 92.5,561.8 104.2,564.4 114,566.9 123.5,569.5 132.7,572.4 141.5,575.5 148.6,578.4 152.7,580.1 156.7,582 163.1,585.3 169.3,588.8 175.1,592.6 180.6,596.6 183.7,599.1 185.7,600.9 187.7,602.7 190.6,605.5 193.3,608.4 195.1,610.4" fill="none" stroke="#00ff96" stroke-width="1.1"/>
<path d="M67.6,547.6 82.7,549.5 97.5,551.5 110.2,553.5 122.5,555.8 134.5,558.2 144.4,560.6 150.9,562.2 155.6,563.6 164.7,566.4 169.2,568 173.5,569.6 177.7,571.3 181.7,573.1 185.7,574.9 189.5,576.9 195.6,580.4 199.1,582.6 202.4,584.9 205.6,587.3 207.7,589 210.7,591.6 212.6,593.4 214.4,595.3 217.1,598.2" fill="none" stroke="#00ff03" stroke-width="1.1"/>
<path d="M82.4,541 100.1,542.7 115.6,544.3 130.8,546.2 143.7,548 156.3,550.1 168.4,552.4 178.4,554.7 188,557.2 192.7,558.6 197.2,560 204.4,562.7 208.5,564.4 212.5,566.2 216.3,568.1 218.8,569.5 222.3,571.6 224.6,573 227.9,575.3 230,576.9 232.9,579.5 234.8,581.2 236.7,583 239.3,585.9" fill="none" stroke="#7fff00" stroke-width="1.1"/>
<path d="M97.6,534.2 118.4,535.4 138.9,536.9 155,538.1 170.8,539.6 184.2,541.2 195.5,542.7 206.3,544.4 211.6,545.4 216.7,546.4 224.9,548.4 228.1,549.2 232.7,550.6 235.6,551.5 239.9,553.1 242.7,554.2 246.6,556 250.3,557.9 252.7,559.3 254.9,560.8 258.1,563 260.1,564.7 261.9,566.4 264.5,569.1 266.1,570.9" fill="none" stroke="#fcff00" stroke-width="1.1"/>
<path d="M104.8,531 130.4,532.1 151.6,533.1 170.4,534.2 186.9,535.3 201,536.5 214.7,537.8 226.1,539.2 231.7,540 237,540.9 245.6,542.6 250.5,543.8 253.7,544.6 258.2,546.1 261,547.1 263.8,548.2 266.4,549.4 268.8,550.6 271.1,552 273.3,553.5 275.3,555 277.2,556.6 278.9,558.4 280.5,560.2 282,562.1" fill="none" stroke="#ffca00" stroke-width="1.1"/>
<path d="M111.7,527.9 158,529 193.2,530 221.6,530.9 242.1,531.8" fill="none" stroke="#ff9600" stroke-width="1.1"/>
<path d="M117.1,525.5 155.2,525.8 184.7,525.9 210.4,525.8 230.4,525.4" fill="none" stroke="#ff6f00" stroke-width="1.1"/>
<path d="M133.7,518.1 154.6,517.4 174.8,516.3 183.9,515.7 192.8,515 200,514.3 208.5,513.4" fill="none" stroke="#ff0000" stroke-width="1.1"/>
<path d="M157.6,507.5 166.1,506.6 174.3,505.6 182.3,504.5 190.1,503.3" fill="none" stroke="#ff0000" stroke-width="1.1"/>
<clipPath id="cpSurf"><path d="M166.8,558.3 175.1,551.6 183.3,545.1 191.4,538.8 200.5,531.8 208.4,525.9 216.2,520.2 223.9,514.7 232.6,508.6 240,503.4 248.5,497.7 256.8,492.3 265,487.1 272,482.7 280,477.8 287.8,473.2 295.5,468.8 287.7,465.6 280.1,462.2 272.6,458.7 265.2,455.1 257.9,451.4 250.7,447.7 243.6,443.8 235.5,439.1 228.6,435 221.9,430.8 215.2,426.5 207.5,421.3 201,416.8 193.6,411.4 187.3,406.7 180,401.1 172.3,404.9 164.6,408.9 156.8,413 149.9,416.8 141.8,421.3 134.8,425.4 126.6,430.3 119.3,434.7 110.9,440 103.5,444.7 95,450.3 87.4,455.4 78.7,461.5 70.9,466.9 63.1,472.5 55.3,478.3 62.3,484.7 68.4,490.1 75.6,496.2 81.8,501.4 89.3,507.4 95.7,512.4 103.3,518.2 109.9,523 116.7,527.7 123.5,532.4 130.4,537 137.5,541.4 144.6,545.8 151.9,550.1 159.3,554.3Z"/></clipPath>
<g clip-path="url(#cpSurf)" opacity="0.999">
<path d="M166.8,558.3 175.1,551.6 183.3,545.1 191.4,538.8 200.5,531.8 208.4,525.9 216.2,520.2 223.9,514.7 232.6,508.6 240,503.4 248.5,497.7 256.8,492.3 265,487.1 272,482.7 280,477.8 287.8,473.2 295.5,468.8 287.7,465.6 280.1,462.2 272.6,458.7 265.2,455.1 257.9,451.4 250.7,447.7 243.6,443.8 235.5,439.1 228.6,435 221.9,430.8 215.2,426.5 207.5,421.3 201,416.8 193.6,411.4 187.3,406.7 180,401.1 172.3,404.9 164.6,408.9 156.8,413 149.9,416.8 141.8,421.3 134.8,425.4 126.6,430.3 119.3,434.7 110.9,440 103.5,444.7 95,450.3 87.4,455.4 78.7,461.5 70.9,466.9 63.1,472.5 55.3,478.3 62.3,484.7 68.4,490.1 75.6,496.2 81.8,501.4 89.3,507.4 95.7,512.4 103.3,518.2 109.9,523 116.7,527.7 123.5,532.4 130.4,537 137.5,541.4 144.6,545.8 151.9,550.1 159.3,554.3Z" fill="#4c9bff"/>
<path d="M167,563.3 175.4,556.5 184.8,548.9 193,542.5 202.1,535.5 210,529.5 219,522.8 227.8,516.5 236.5,510.3 245,504.4 253.4,498.8 261.7,493.3 269.9,488.1 278,483.1 285.9,478.3 293.7,473.7 302.3,468.8 294.5,465.6 286.8,462.3 279.2,458.9 270.5,454.8 263.1,451.2 254.7,446.8 247.6,442.9 239.5,438.3 232.6,434.2 224.7,429.3 216.9,424.3 209.3,419.2 201.7,413.9 194.3,408.5 187,402.9 179.7,397.3 171.2,401.5 163.5,405.4 155.7,409.5 147.8,413.7 139.8,418.2 131.7,422.9 123.5,427.7 115.2,432.8 106.8,438 98.4,443.5 89.8,449.1 82.2,454.2 73.5,460.3 65.7,465.7 56.8,472.2 48.9,478 55.9,484.5 62.9,490.8 70.1,497.1 77.4,503.2 84.7,509.2 91.1,514.3 98.7,520.1 105.5,525 109.5,526.6 113.7,528.4 117.8,530.2 121.8,532.1 125.7,534 129.5,536 133.2,538.1 136.8,540.3 140.3,542.5 143.7,544.8 147,547.2 150.3,549.7 153.4,552.3 156.4,554.9 159.3,557.7 162.2,560.7Z" fill="#4ca2ff"/>
<path d="M167,563.3 175.4,556.5 184.8,548.9 193,542.5 202.1,535.5 210,529.5 219,522.8 227.8,516.5 236.5,510.3 245,504.4 253.4,498.8 261.7,493.3 269.9,488.1 278,483.1 285.9,478.3 293.7,473.7 302.3,468.8 294.5,465.6 286.8,462.3 279.2,458.9 270.5,454.8 263.1,451.2 254.7,446.8 247.6,442.9 239.5,438.3 232.6,434.2 224.7,429.3 216.9,424.3 209.3,419.2 201.7,413.9 194.3,408.5 187,402.9 179.7,397.3 171.2,401.5 163.5,405.4 155.7,409.5 147.8,413.7 139.8,418.2 131.7,422.9 123.5,427.7 115.2,432.8 106.8,438 98.4,443.5 89.8,449.1 82.2,454.2 73.5,460.3 65.7,465.7 56.8,472.2 48.9,478 55.9,484.5 61.9,489.9 69.1,496.2 75.3,501.5 81.6,506.6 87.9,511.7 94.4,516.8 101.5,522.1 106.5,524 112.2,526.2 116.4,528 121.8,530.4 125.7,532.3 130.8,535 135.7,537.8 139.3,540 143.9,543 147.3,545.3 150.5,547.8 153.7,550.3 156.7,553 159.7,555.7 163.4,559.4 166.8,563.2Z" fill="#4ca9ff"/>
<path d="M168.3,562.2 177.8,554.6 186,548 194.1,541.6 203.3,534.6 211.2,528.6 220.1,522 228.9,515.7 237.5,509.6 246.1,503.7 254.5,498.1 262.8,492.6 270.9,487.4 279,482.5 286.9,477.7 294.7,473.2 302.3,468.8 294.5,465.6 286.8,462.3 279.2,458.9 270.5,454.8 263.1,451.2 254.7,446.8 247.6,442.9 239.5,438.3 232.6,434.2 224.7,429.3 216.9,424.3 209.3,419.2 201.7,413.9 194.3,408.5 187,402.9 179.7,397.3 171.2,401.5 163.5,405.4 155.7,409.5 147.8,413.7 139.8,418.2 131.7,422.9 123.5,427.7 115.2,432.8 106.8,438 98.4,443.5 89.8,449.1 82.2,454.2 73.5,460.3 65.7,465.7 56.8,472.2 48.9,478 54.9,483.5 60.9,489 67,494.4 73.2,499.7 79.5,504.9 85.8,510.1 92.2,515.1 98,519.5 103.4,521.4 109.2,523.5 114.9,525.8 120.4,528.2 125.7,530.7 130.9,533.3 135.8,536 139.5,538.2 144.1,541.1 147.5,543.5 150.8,545.9 155,549.2 159.1,552.8 162,555.5 164.8,558.3Z" fill="#4cb1ff"/>
<path d="M169.7,561.1 178.9,553.6 187.1,547.1 195.3,540.7 204.4,533.7 212.3,527.8 221.2,521.2 228.9,515.7 237.5,509.6 246.1,503.7 254.5,498.1 262.8,492.6 270.9,487.4 279,482.5 286.9,477.7 294.7,473.2 302.3,468.8 294.5,465.6 286.8,462.3 279.2,458.9 270.5,454.8 263.1,451.2 254.7,446.8 247.6,442.9 239.5,438.3 232.6,434.2 224.7,429.3 216.9,424.3 209.3,419.2 201.7,413.9 194.3,408.5 187,402.9 179.7,397.3 171.2,401.5 163.5,405.4 155.7,409.5 147.8,413.7 139.8,418.2 131.7,422.9 123.5,427.7 115.2,432.8 106.8,438 98.4,443.5 89.8,449.1 82.2,454.2 73.5,460.3 65.7,465.7 56.8,472.2 48.9,478 54.9,483.5 60.9,489 67,494.4 72.2,498.8 78.4,504.1 83.7,508.4 89,512.6 94.9,517.1 101.7,519.4 107.6,521.5 113.4,523.7 118.9,526 124.4,528.4 129.6,530.9 134.7,533.6 138.4,535.7 143.2,538.6 147.8,541.6 152.2,544.8 155.4,547.3 159.4,550.8 163.3,554.4 166.1,557.2Z" fill="#4cb8ff"/>
<path d="M171.1,560 180.1,552.7 188.3,546.2 196.4,539.8 205.5,532.9 213.4,527 222.3,520.4 230,514.9 238.6,508.8 246.1,503.7 254.5,498.1 262.8,492.6 270.9,487.4 279,482.5 286.9,477.7 294.7,473.2 302.3,468.8 294.5,465.6 286.8,462.3 279.2,458.9 270.5,454.8 263.1,451.2 254.7,446.8 247.6,442.9 239.5,438.3 232.6,434.2 224.7,429.3 216.9,424.3 209.3,419.2 201.7,413.9 194.3,408.5 187,402.9 179.7,397.3 171.2,401.5 163.5,405.4 155.7,409.5 147.8,413.7 139.8,418.2 131.7,422.9 123.5,427.7 115.2,432.8 106.8,438 98.4,443.5 89.8,449.1 82.2,454.2 73.5,460.3 65.7,465.7 56.8,472.2 48.9,478 54.9,483.5 59.9,488.1 70.1,497.1 75.3,501.5 80.5,505.8 85.8,510.1 92,514.9 98.5,516.9 106,519.4 111.8,521.6 117.5,523.8 123,526.2 128.3,528.6 133.5,531.2 138.5,533.9 143.3,536.8 148,539.8 152.5,542.9 156.7,546.2 160.8,549.7 164.7,553.3 168.4,557Z" fill="#4cc0ff"/>
<path d="M172.5,558.9 181.3,551.7 189.5,545.3 197.6,539 206.7,532 214.5,526.1 223.4,519.6 231.1,514.1 239.7,508.1 247.1,503 255.5,497.4 263.8,492 271.9,486.8 279,482.5 286.9,477.7 294.7,473.2 302.3,468.8 294.5,465.6 286.8,462.3 279.2,458.9 270.5,454.8 263.1,451.2 254.7,446.8 247.6,442.9 239.5,438.3 232.6,434.2 224.7,429.3 216.9,424.3 209.3,419.2 201.7,413.9 194.3,408.5 187,402.9 179.7,397.3 171.2,401.5 163.5,405.4 155.7,409.5 147.8,413.7 139.8,418.2 131.7,422.9 123.5,427.7 115.2,432.8 106.8,438 98.4,443.5 89.8,449.1 82.2,454.2 73.5,460.3 65.7,465.7 56.8,472.2 48.9,478 58.9,487.2 69.1,496.2 74.2,500.6 79.5,504.9 89.4,512.9 96.6,515 102.7,517 110.2,519.5 115.9,521.7 122.9,524.5 128.3,527 133.6,529.5 138.6,532.2 143.5,535 148.2,537.9 152.7,541 157.1,544.3 161.2,547.7 165.1,551.2 168.9,555Z" fill="#4cc7ff"/>
<path d="M173.9,557.7 182.5,550.8 190.6,544.3 198.7,538.1 206.7,532 214.5,526.1 223.4,519.6 231.1,514.1 239.7,508.1 247.1,503 255.5,497.4 263.8,492 271.9,486.8 279,482.5 286.9,477.7 294.7,473.2 302.3,468.8 294.5,465.6 286.8,462.3 279.2,458.9 270.5,454.8 263.1,451.2 254.7,446.8 247.6,442.9 239.5,438.3 232.6,434.2 224.7,429.3 216.9,424.3 209.3,419.2 201.7,413.9 194.3,408.5 187,402.9 179.7,397.3 171.2,401.5 163.5,405.4 155.7,409.5 147.8,413.7 139.8,418.2 131.7,422.9 123.5,427.7 115.2,432.8 106.8,438 98.4,443.5 89.8,449.1 82.2,454.2 73.5,460.3 65.7,465.7 56.8,472.2 48.9,478 58.9,487.2 68,495.3 77.4,503.2 86.9,510.9 94.8,513.1 102.5,515.5 108.5,517.5 115.8,520.1 122.8,522.9 128.3,525.3 133.6,527.8 138.7,530.5 144.9,533.9 149.6,536.9 154.1,540 158.4,543.2 162.6,546.6 166.5,550.1 170.3,553.8Z" fill="#4ccfff"/>
<path d="M175.3,556.6 183.6,549.9 191.8,543.4 199.8,537.2 208.9,530.3 216.8,524.5 224.5,518.8 232.1,513.4 240.8,507.3 248.2,502.3 256.6,496.7 263.8,492 271.9,486.8 279,482.5 286.9,477.7 294.7,473.2 302.3,468.8 294.5,465.6 286.8,462.3 279.2,458.9 270.5,454.8 263.1,451.2 254.7,446.8 247.6,442.9 239.5,438.3 232.6,434.2 224.7,429.3 216.9,424.3 209.3,419.2 201.7,413.9 194.3,408.5 187,402.9 179.7,397.3 171.2,401.5 163.5,405.4 155.7,409.5 147.8,413.7 139.8,418.2 131.7,422.9 123.5,427.7 115.2,432.8 106.8,438 98.4,443.5 89.8,449.1 82.2,454.2 73.5,460.3 65.7,465.7 56.8,472.2 48.9,478 57.9,486.3 67,494.4 75.3,501.5 84.5,509 92.9,511.3 100.7,513.6 108.3,516 114.2,518.1 120,520.2 126.9,523.1 133.6,526.2 138.8,528.7 145,532.2 149.8,535 154.4,538.1 158.8,541.3 163,544.6 166,547.2 167.9,549 171.7,552.7Z" fill="#4cd6ff"/>
<path d="M176.7,555.4 184.8,548.9 193,542.5 201,536.3 210,529.5 217.9,523.7 225.6,518 233.2,512.6 241.8,506.6 249.2,501.6 257.6,496 264.8,491.3 273,486.2 280,481.9 287.9,477.1 294.7,473.2 302.3,468.8 294.5,465.6 286.8,462.3 279.2,458.9 270.5,454.8 263.1,451.2 254.7,446.8 247.6,442.9 239.5,438.3 232.6,434.2 224.7,429.3 216.9,424.3 209.3,419.2 201.7,413.9 194.3,408.5 187,402.9 179.7,397.3 171.2,401.5 163.5,405.4 155.7,409.5 147.8,413.7 139.8,418.2 131.7,422.9 123.5,427.7 115.2,432.8 106.8,438 98.4,443.5 89.8,449.1 82.2,454.2 73.5,460.3 65.7,465.7 56.8,472.2 48.9,478 56.9,485.4 65,492.6 73.2,499.7 82.3,507.2 90.9,509.5 98.8,511.7 106.5,514 114,516.6 119.8,518.7 126.9,521.5 133.7,524.5 138.9,527 145.2,530.4 150,533.2 153.5,535.5 155.8,537 160.2,540.2 163.3,542.6 165.4,544.3 169.3,547.9 173.1,551.6Z" fill="#4cdeff"/>
<path d="M178.1,554.3 186,548 194.1,541.6 202.1,535.5 210,529.5 217.9,523.7 225.6,518 233.2,512.6 241.8,506.6 249.2,501.6 257.6,496 264.8,491.3 273,486.2 280,481.9 287.9,477.1 294.7,473.2 302.3,468.8 294.5,465.6 286.8,462.3 279.2,458.9 270.5,454.8 263.1,451.2 254.7,446.8 247.6,442.9 239.5,438.3 232.6,434.2 224.7,429.3 216.9,424.3 209.3,419.2 201.7,413.9 194.3,408.5 187,402.9 179.7,397.3 171.2,401.5 163.5,405.4 155.7,409.5 147.8,413.7 139.8,418.2 131.7,422.9 123.5,427.7 115.2,432.8 106.8,438 98.4,443.5 89.8,449.1 82.2,454.2 73.5,460.3 65.7,465.7 56.8,472.2 48.9,478 56.9,485.4 63.9,491.7 72.2,498.8 80.2,505.5 88.9,507.7 98.5,510.3 106.3,512.6 113.8,515 121.2,517.7 128.2,520.5 133.7,522.8 140.2,526 146.5,529.3 151.4,532.2 154.9,534.4 157.2,535.9 161.6,539.1 164.7,541.5 166.8,543.2 170.8,546.8 174.5,550.4Z" fill="#4ce5ff"/>
<path d="M179.5,553.2 187.1,547.1 195.3,540.7 203.3,534.6 211.2,528.6 219,522.8 226.7,517.3 234.3,511.8 242.9,505.9 250.3,500.9 257.6,496 264.8,491.3 273,486.2 280,481.9 287.9,477.1 294.7,473.2 302.3,468.8 294.5,465.6 286.8,462.3 279.2,458.9 270.5,454.8 263.1,451.2 254.7,446.8 247.6,442.9 239.5,438.3 232.6,434.2 224.7,429.3 216.9,424.3 209.3,419.2 201.7,413.9 194.3,408.5 187,402.9 179.7,397.3 171.2,401.5 163.5,405.4 155.7,409.5 147.8,413.7 139.8,418.2 131.7,422.9 123.5,427.7 115.2,432.8 106.8,438 98.4,443.5 89.8,449.1 82.2,454.2 73.5,460.3 65.7,465.7 56.8,472.2 48.9,478 56.9,485.4 63.9,491.7 71.1,498 78.2,503.9 86.9,505.9 96.6,508.4 104.5,510.7 112.1,513.1 119.6,515.6 126.8,518.3 133.7,521.2 140.3,524.3 146.7,527.6 151.6,530.4 155.1,532.5 157.4,534 161.9,537.2 165.1,539.6 167.2,541.3 171.2,544.7 173.1,546.5 176,549.3Z" fill="#4cecff"/>
<path d="M181,552 188.3,546.2 196.4,539.8 204.4,533.7 212.3,527.8 220.1,522 227.8,516.5 235.4,511.1 242.9,505.9 250.3,500.9 257.6,496 264.8,491.3 273,486.2 280,481.9 287.9,477.1 294.7,473.2 302.3,468.8 294.5,465.6 286.8,462.3 279.2,458.9 270.5,454.8 263.1,451.2 254.7,446.8 247.6,442.9 239.5,438.3 232.6,434.2 224.7,429.3 216.9,424.3 209.3,419.2 201.7,413.9 194.3,408.5 187,402.9 179.7,397.3 171.2,401.5 163.5,405.4 155.7,409.5 147.8,413.7 139.8,418.2 131.7,422.9 123.5,427.7 115.2,432.8 106.8,438 98.4,443.5 89.8,449.1 82.2,454.2 73.5,460.3 65.7,465.7 56.8,472.2 48.9,478 55.9,484.5 62.9,490.8 69.1,496.2 76.2,502.3 86.5,504.6 94.6,506.6 104.2,509.2 111.9,511.6 119.4,514.1 126.7,516.7 133.7,519.6 140.4,522.6 146.8,525.8 150.6,527.9 153,529.3 156.5,531.5 158.8,533 163.3,536.1 167.6,539.3 170.7,541.9 172.6,543.6 176.5,547.2 179.2,550.1Z" fill="#4cf4ff"/>
<path d="M182.4,550.8 197.6,539 205.5,532.9 213.4,527 221.2,521.2 228.9,515.7 236.5,510.3 244,505.2 251.3,500.1 258.6,495.3 265.8,490.7 274,485.6 281,481.3 287.9,477.1 294.7,473.2 302.3,468.8 294.5,465.6 286.8,462.3 279.2,458.9 270.5,454.8 263.1,451.2 254.7,446.8 247.6,442.9 239.5,438.3 232.6,434.2 224.7,429.3 216.9,424.3 209.3,419.2 201.7,413.9 194.3,408.5 187,402.9 179.7,397.3 171.2,401.5 163.5,405.4 155.7,409.5 147.8,413.7 139.8,418.2 131.7,422.9 123.5,427.7 115.2,432.8 106.8,438 98.4,443.5 89.8,449.1 82.2,454.2 73.5,460.3 65.7,465.7 56.8,472.2 48.9,478 55.9,484.5 61.9,489.9 68,495.3 74.4,500.7 84.3,502.9 94.3,505.2 103.9,507.8 111.7,510.1 119.3,512.6 126.6,515.2 133.6,518 140.4,520.9 147,524.1 153.2,527.5 156.8,529.6 159.1,531.1 163.6,534.2 166.9,536.5 169,538.2 171.1,539.9 174.1,542.5 177.9,546.1 180.6,548.9Z" fill="#4cfbff"/>
<path d="M183.9,549.7 191.8,543.4 199.8,537.2 214.5,526.1 222.3,520.4 230,514.9 237.5,509.6 245,504.4 252.4,499.4 259.7,494.6 266.9,490 274,485.6 281,481.3 287.9,477.1 294.7,473.2 302.3,468.8 294.5,465.6 286.8,462.3 279.2,458.9 270.5,454.8 263.1,451.2 254.7,446.8 247.6,442.9 239.5,438.3 232.6,434.2 224.7,429.3 216.9,424.3 209.3,419.2 201.7,413.9 194.3,408.5 187,402.9 179.7,397.3 171.2,401.5 163.5,405.4 155.7,409.5 147.8,413.7 139.8,418.2 131.7,422.9 123.5,427.7 115.2,432.8 106.8,438 98.4,443.5 89.8,449.1 82.2,454.2 73.5,460.3 65.7,465.7 56.8,472.2 48.9,478 54.9,483.5 60.9,489 67,494.4 72.6,499.2 82.2,501.2 92.2,503.5 102,506 111.5,508.7 120.6,511.6 127.9,514.2 135,516.9 141.8,519.9 148.4,523.1 154.6,526.4 158.2,528.5 160.5,530 165.1,533 167.3,534.6 170.5,537.1 172.5,538.7 175.5,541.3 177.5,543.1 180.3,545.9Z" fill="#4cfffb"/>
<path d="M185.3,548.5 193,542.5 201,536.3 215.6,525.3 230,514.9 237.5,509.6 245,504.4 252.4,499.4 259.7,494.6 266.9,490 274,485.6 281,481.3 287.9,477.1 294.7,473.2 302.3,468.8 294.5,465.6 286.8,462.3 279.2,458.9 270.5,454.8 263.1,451.2 254.7,446.8 247.6,442.9 239.5,438.3 232.6,434.2 224.7,429.3 216.9,424.3 209.3,419.2 201.7,413.9 194.3,408.5 187,402.9 179.7,397.3 171.2,401.5 163.5,405.4 155.7,409.5 147.8,413.7 139.8,418.2 131.7,422.9 123.5,427.7 115.2,432.8 106.8,438 98.4,443.5 89.8,449.1 82.2,454.2 73.5,460.3 65.7,465.7 56.8,472.2 48.9,478 54.9,483.5 59.9,488.1 65,492.6 70.8,497.7 81.7,499.9 91.8,502.2 101.7,504.6 111.2,507.2 118.9,509.6 123.4,511.1 127.8,512.6 135,515.3 141.9,518.2 148.5,521.3 154.8,524.6 158.4,526.7 160.8,528.2 164.3,530.4 166.5,531.9 169.8,534.3 171.9,535.9 175,538.5 177,540.2 178.9,542 181.7,544.7Z" fill="#4cfff4"/>
<path d="M186.8,547.4 194.1,541.6 202.1,535.5 216.8,524.5 231.1,514.1 238.6,508.8 246.1,503.7 253.4,498.8 260.7,494 267.9,489.4 275,484.9 281.9,480.7 288.8,476.6 295.6,472.6 302.3,468.8 294.5,465.6 286.8,462.3 279.2,458.9 270.5,454.8 263.1,451.2 254.7,446.8 247.6,442.9 239.5,438.3 232.6,434.2 224.7,429.3 216.9,424.3 209.3,419.2 201.7,413.9 194.3,408.5 187,402.9 179.7,397.3 171.2,401.5 163.5,405.4 155.7,409.5 147.8,413.7 139.8,418.2 131.7,422.9 123.5,427.7 115.2,432.8 106.8,438 98.4,443.5 89.8,449.1 82.2,454.2 73.5,460.3 65.7,465.7 56.8,472.2 48.9,478 58.9,487.2 69.2,496.3 76,497.6 82.9,499 94.8,501.6 101.3,503.2 106.2,504.5 115.6,507.2 121.8,509.1 126.3,510.6 130.7,512.1 135,513.7 139.2,515.4 143.3,517.2 147.3,519 151.2,520.9 155,522.9 157.5,524.2 162.3,527.1 166.9,530.1 171.2,533.2 175.4,536.5 179.4,539.9 183.2,543.6Z" fill="#4cffec"/>
<path d="M188.3,546.2 203.3,534.6 217.9,523.7 232.1,513.4 239.7,508.1 247.1,503 260.7,494 267.9,489.4 275,484.9 281.9,480.7 288.8,476.6 295.6,472.6 302.3,468.8 294.5,465.6 286.8,462.3 279.2,458.9 270.5,454.8 263.1,451.2 254.7,446.8 247.6,442.9 239.5,438.3 232.6,434.2 224.7,429.3 216.9,424.3 209.3,419.2 201.7,413.9 194.3,408.5 187,402.9 179.7,397.3 171.2,401.5 163.5,405.4 155.7,409.5 147.8,413.7 139.8,418.2 131.7,422.9 123.5,427.7 115.2,432.8 106.8,438 98.4,443.5 89.8,449.1 82.2,454.2 73.5,460.3 65.7,465.7 56.8,472.2 48.9,478 57.9,486.3 67.5,494.9 80.7,497.3 92.7,499.9 97.7,501 104.2,502.7 110.7,504.4 115.4,505.7 120.1,507.1 126.1,509 130.6,510.6 134.9,512.2 139.2,513.8 143.3,515.5 147.4,517.3 151.3,519.2 157.7,522.5 162.5,525.3 167.2,528.2 171.6,531.3 175.9,534.5 178.9,537 180.9,538.8 184.7,542.4Z" fill="#4cffe5"/>
<path d="M189.8,545 204.4,533.7 219,522.8 233.2,512.6 247.1,503 260.7,494 267.9,489.4 275,484.9 281.9,480.7 288.8,476.6 295.6,472.6 302.3,468.8 294.5,465.6 286.8,462.3 279.2,458.9 270.5,454.8 263.1,451.2 254.7,446.8 247.6,442.9 239.5,438.3 232.6,434.2 224.7,429.3 216.9,424.3 209.3,419.2 201.7,413.9 194.3,408.5 187,402.9 179.7,397.3 171.2,401.5 163.5,405.4 155.7,409.5 147.8,413.7 139.8,418.2 131.7,422.9 123.5,427.7 115.2,432.8 106.8,438 98.4,443.5 89.8,449.1 82.2,454.2 73.5,460.3 65.7,465.7 56.8,472.2 48.9,478 57.9,486.3 66,493.5 73.2,494.8 80.2,496.1 92.2,498.6 99,500.1 103.9,501.3 108.8,502.5 115.2,504.3 119.9,505.6 126,507.5 130.5,509 134.9,510.6 139.2,512.2 143.4,513.9 147.5,515.7 151.5,517.5 157.9,520.7 162.8,523.4 166.3,525.6 168.7,527.1 173.1,530.1 176.3,532.5 178.4,534.2 182.4,537.6 186.2,541.2Z" fill="#4cffde"/>
<path d="M191.3,543.8 205.5,532.9 220.1,522 234.3,511.8 248.2,502.3 261.7,493.3 268.9,488.7 276,484.3 288.8,476.6 295.6,472.6 302.3,468.8 294.5,465.6 286.8,462.3 279.2,458.9 270.5,454.8 263.1,451.2 254.7,446.8 247.6,442.9 239.5,438.3 232.6,434.2 224.7,429.3 216.9,424.3 209.3,419.2 201.7,413.9 194.3,408.5 187,402.9 179.7,397.3 171.2,401.5 163.5,405.4 155.7,409.5 147.8,413.7 139.8,418.2 131.7,422.9 123.5,427.7 115.2,432.8 106.8,438 98.4,443.5 89.8,449.1 82.2,454.2 73.5,460.3 65.7,465.7 56.8,472.2 48.9,478 56.9,485.4 64.4,492.1 77.9,494.5 90.1,496.9 101.9,499.5 106.8,500.7 113.3,502.4 119.7,504.2 124.3,505.6 128.9,507 133.3,508.5 139.1,510.6 143.4,512.3 147.5,514 151.6,515.8 158.1,519 163,521.6 166.6,523.7 169,525.2 173.5,528.2 177.8,531.4 180.9,533.9 182.9,535.6 186.8,539.2 188.6,541Z" fill="#4cffd6"/>
<path d="M192.8,542.7 206.7,532 221.2,521.2 235.4,511.1 249.2,501.6 262.8,492.6 276,484.3 288.8,476.6 295.6,472.6 302.3,468.8 294.5,465.6 286.8,462.3 279.2,458.9 270.5,454.8 263.1,451.2 254.7,446.8 247.6,442.9 239.5,438.3 232.6,434.2 224.7,429.3 216.9,424.3 209.3,419.2 201.7,413.9 194.3,408.5 187,402.9 179.7,397.3 171.2,401.5 163.5,405.4 155.7,409.5 147.8,413.7 139.8,418.2 131.7,422.9 123.5,427.7 115.2,432.8 106.8,438 98.4,443.5 89.8,449.1 82.2,454.2 73.5,460.3 65.7,465.7 56.8,472.2 48.9,478 55.9,484.5 62.9,490.8 77.3,493.3 89.6,495.6 101.5,498.2 106.5,499.4 113,501 117.8,502.3 124.1,504.1 128.7,505.5 133.2,507 139.1,509 143.4,510.7 147.6,512.4 151.7,514.1 158.3,517.2 162.1,519.2 164.5,520.5 168.1,522.6 170.5,524.1 175,527.1 178.3,529.4 180.4,531.1 184.4,534.4 188.3,538 191,540.8Z" fill="#4cffcf"/>
<path d="M194.3,541.5 208.9,530.3 222.3,520.4 235.4,511.1 249.2,501.6 262.8,492.6 276,484.3 288.8,476.6 295.6,472.6 302.3,468.8 294.5,465.6 286.8,462.3 279.2,458.9 270.5,454.8 263.1,451.2 254.7,446.8 247.6,442.9 239.5,438.3 232.6,434.2 224.7,429.3 216.9,424.3 209.3,419.2 201.7,413.9 194.3,408.5 187,402.9 179.7,397.3 171.2,401.5 163.5,405.4 155.7,409.5 147.8,413.7 139.8,418.2 131.7,422.9 123.5,427.7 115.2,432.8 106.8,438 98.4,443.5 89.8,449.1 82.2,454.2 73.5,460.3 65.7,465.7 56.8,472.2 48.9,478 54.9,483.5 61.5,489.5 75,491.7 82.1,493 89.1,494.3 101.1,496.8 107.8,498.4 112.8,499.6 117.6,500.9 123.9,502.6 128.6,504 133.1,505.5 139.1,507.5 143.4,509.1 147.6,510.7 151.8,512.5 158.4,515.5 162.3,517.4 164.8,518.7 168.4,520.8 170.8,522.2 175.4,525.2 177.6,526.7 180.8,529.1 182.9,530.7 185.9,533.3 187.9,535 190.7,537.7Z" fill="#4cffc7"/>
<path d="M195.8,540.3 210,529.5 223.4,519.6 236.5,510.3 250.3,500.9 263.8,492 277,483.7 289.8,476 302.3,468.8 294.5,465.6 286.8,462.3 279.2,458.9 270.5,454.8 263.1,451.2 254.7,446.8 247.6,442.9 239.5,438.3 232.6,434.2 224.7,429.3 216.9,424.3 209.3,419.2 201.7,413.9 194.3,408.5 187,402.9 179.7,397.3 171.2,401.5 163.5,405.4 155.7,409.5 147.8,413.7 139.8,418.2 131.7,422.9 123.5,427.7 115.2,432.8 106.8,438 98.4,443.5 89.8,449.1 82.2,454.2 73.5,460.3 65.7,465.7 56.8,472.2 48.9,478 54.9,483.5 60.1,488.3 74.4,490.5 81.6,491.8 88.6,493.1 100.7,495.5 105.8,496.6 112.5,498.2 119,499.9 123.7,501.2 128.4,502.5 133,503.9 139,505.9 143.4,507.5 147.7,509.1 151.9,510.8 158.6,513.8 162.5,515.7 165,517 168.7,519 171.1,520.4 173.5,521.8 176.9,524 180.2,526.4 182.4,527.9 185.5,530.4 187.5,532.1 190.4,534.7 192.3,536.5Z" fill="#4cffc0"/>
<path d="M197.4,539.1 211.2,528.6 224.5,518.8 237.5,509.6 251.3,500.1 263.8,492 277,483.7 289.8,476 302.3,468.8 294.5,465.6 286.8,462.3 279.2,458.9 270.5,454.8 263.1,451.2 254.7,446.8 247.6,442.9 239.5,438.3 232.6,434.2 224.7,429.3 216.9,424.3 209.3,419.2 201.7,413.9 194.3,408.5 187,402.9 179.7,397.3 171.2,401.5 163.5,405.4 155.7,409.5 147.8,413.7 139.8,418.2 131.7,422.9 123.5,427.7 115.2,432.8 106.8,438 98.4,443.5 89.8,449.1 82.2,454.2 73.5,460.3 65.7,465.7 56.8,472.2 48.9,478 58.7,487 73.8,489.3 81,490.5 88.1,491.8 100.3,494.2 107.1,495.7 112.1,496.8 118.7,498.4 123.5,499.7 129.8,501.5 134.4,502.9 139,504.4 144.8,506.4 149.1,508 153.3,509.7 160.1,512.7 164,514.6 166.5,515.9 170.2,517.9 172.6,519.3 176.2,521.4 178.4,522.9 181.8,525.2 183.9,526.8 186,528.4 189,530.9 192.9,534.5 195.6,537.2Z" fill="#4cffb8"/>
<path d="M198.9,537.9 212.3,527.8 225.6,518 238.6,508.8 252.4,499.4 264.8,491.3 278,483.1 289.8,476 302.3,468.8 294.5,465.6 286.8,462.3 279.2,458.9 270.5,454.8 263.1,451.2 254.7,446.8 247.6,442.9 239.5,438.3 232.6,434.2 224.7,429.3 216.9,424.3 209.3,419.2 201.7,413.9 194.3,408.5 187,402.9 179.7,397.3 171.2,401.5 163.5,405.4 155.7,409.5 147.8,413.7 139.8,418.2 131.7,422.9 123.5,427.7 115.2,432.8 106.8,438 98.4,443.5 89.8,449.1 82.2,454.2 73.5,460.3 65.7,465.7 56.8,472.2 48.9,478 57.3,485.8 71.4,487.8 85.9,490.2 92.9,491.5 99.9,492.9 111.8,495.5 116.8,496.6 123.3,498.3 129.7,500 134.3,501.4 140.4,503.3 144.8,504.8 149.2,506.4 153.4,508.1 160.3,511 164.2,512.8 166.8,514.1 170.5,516.1 173,517.4 176.5,519.5 178.8,521 182.2,523.3 184.4,524.8 187.5,527.2 189.6,528.9 192.5,531.5 194.4,533.3 196.3,535.1Z" fill="#4cffb1"/>
<path d="M200.5,536.7 213.4,527 226.7,517.3 239.7,508.1 252.4,499.4 264.8,491.3 278,483.1 289.8,476 302.3,468.8 294.5,465.6 286.8,462.3 279.2,458.9 270.5,454.8 263.1,451.2 254.7,446.8 247.6,442.9 239.5,438.3 232.6,434.2 224.7,429.3 216.9,424.3 209.3,419.2 201.7,413.9 194.3,408.5 187,402.9 179.7,397.3 171.2,401.5 163.5,405.4 155.7,409.5 147.8,413.7 139.8,418.2 131.7,422.9 123.5,427.7 115.2,432.8 106.8,438 98.4,443.5 89.8,449.1 82.2,454.2 73.5,460.3 65.7,465.7 56.8,472.2 48.9,478 56,484.6 70.7,486.7 85.3,489 92.5,490.3 99.5,491.6 111.5,494.1 118.1,495.6 123.1,496.9 127.9,498.1 134.2,499.9 140.3,501.8 144.8,503.3 149.2,504.8 153.5,506.4 157.7,508.1 161.8,509.9 165.7,511.7 168.3,513 172.1,514.9 174.5,516.3 178.1,518.4 180.4,519.9 183.8,522.1 185.9,523.7 188.1,525.3 191.1,527.7 194.1,530.3 196,532.1 197.8,533.9Z" fill="#4cffa9"/>
<path d="M202.1,535.5 214.5,526.1 227.8,516.5 240.8,507.3 253.4,498.8 265.8,490.7 278,483.1 289.8,476 302.3,468.8 294.5,465.6 286.8,462.3 279.2,458.9 270.5,454.8 263.1,451.2 254.7,446.8 247.6,442.9 239.5,438.3 232.6,434.2 224.7,429.3 216.9,424.3 209.3,419.2 201.7,413.9 194.3,408.5 187,402.9 179.7,397.3 171.2,401.5 163.5,405.4 155.7,409.5 147.8,413.7 139.8,418.2 131.7,422.9 123.5,427.7 115.2,432.8 106.8,438 98.4,443.5 89.8,449.1 82.2,454.2 73.5,460.3 65.7,465.7 56.8,472.2 48.9,478 54.7,483.4 70.1,485.5 84.8,487.8 92,489 99,490.3 111.1,492.8 117.9,494.3 122.8,495.5 127.7,496.7 134,498.4 140.3,500.3 144.8,501.7 149.2,503.2 153.6,504.8 157.8,506.5 161.9,508.2 168.5,511.2 172.4,513.1 176.1,515.2 179.6,517.3 182,518.7 184.2,520.2 187.5,522.5 190.7,524.9 192.7,526.6 194.7,528.2 197.6,530.9 200.3,533.6Z" fill="#4cffa2"/>
<path d="M203.7,534.3 216.8,524.5 228.9,515.7 241.8,506.6 254.5,498.1 266.9,490 279,482.5 290.8,475.4 302.3,468.8 294.5,465.6 286.8,462.3 279.2,458.9 270.5,454.8 263.1,451.2 254.7,446.8 247.6,442.9 239.5,438.3 232.6,434.2 224.7,429.3 216.9,424.3 209.3,419.2 201.7,413.9 194.3,408.5 187,402.9 179.7,397.3 171.2,401.5 163.5,405.4 155.7,409.5 147.8,413.7 139.8,418.2 131.7,422.9 123.5,427.7 115.2,432.8 106.8,438 98.4,443.5 89.8,449.1 82.2,454.2 73.5,460.3 65.7,465.7 56.8,472.2 48.9,478 53.4,482.2 69.4,484.3 84.2,486.6 91.4,487.8 98.6,489 110.8,491.4 115.9,492.5 122.6,494 129.1,495.7 133.9,497 140.2,498.8 144.8,500.2 149.2,501.7 153.6,503.2 157.9,504.8 162.1,506.5 168.8,509.5 172.7,511.4 176.4,513.3 180,515.4 182.4,516.8 185.8,519 189.1,521.3 192.3,523.7 194.3,525.4 197.3,527.9 199.2,529.7 201,531.5Z" fill="#4cff9b"/>
<path d="M205.3,533.1 217.9,523.7 230,514.9 241.8,506.6 254.5,498.1 266.9,490 279,482.5 290.8,475.4 302.3,468.8 294.5,465.6 286.8,462.3 279.2,458.9 270.5,454.8 263.1,451.2 254.7,446.8 247.6,442.9 239.5,438.3 232.6,434.2 224.7,429.3 216.9,424.3 209.3,419.2 201.7,413.9 194.3,408.5 187,402.9 179.7,397.3 171.2,401.5 163.5,405.4 155.7,409.5 147.8,413.7 139.8,418.2 131.7,422.9 123.5,427.7 115.2,432.8 106.8,438 98.4,443.5 89.8,449.1 82.2,454.2 73.5,460.3 65.7,465.7 56.8,472.2 48.9,478 52.1,481 68.8,483.2 83.6,485.3 90.9,486.5 98.1,487.8 110.4,490.1 115.5,491.2 122.3,492.7 128.9,494.2 133.7,495.5 140.1,497.3 144.7,498.6 149.2,500.1 153.7,501.6 158,503.2 162.2,504.8 166.3,506.6 170.3,508.4 174.2,510.2 178,512.2 181.6,514.2 184,515.7 187.4,517.9 190.7,520.1 192.8,521.7 195.9,524.2 197.9,525.9 200.8,528.5 203.5,531.2Z" fill="#4cff93"/>
<path d="M206.9,531.8 219,522.8 231.1,514.1 242.9,505.9 255.5,497.4 266.9,490 279,482.5 290.8,475.4 302.3,468.8 294.5,465.6 286.8,462.3 279.2,458.9 270.5,454.8 263.1,451.2 254.7,446.8 247.6,442.9 239.5,438.3 232.6,434.2 224.7,429.3 216.9,424.3 209.3,419.2 201.7,413.9 194.3,408.5 187,402.9 179.7,397.3 171.2,401.5 163.5,405.4 155.7,409.5 147.8,413.7 139.8,418.2 131.7,422.9 123.5,427.7 115.2,432.8 106.8,438 98.4,443.5 89.8,449.1 82.2,454.2 73.5,460.3 65.7,465.7 56.8,472.2 48.9,478 50.9,479.9 60.5,481 70,482.3 79.3,483.6 86.7,484.7 94,485.9 103,487.4 110,488.8 116.9,490.2 127,492.4 136.8,494.9 144.6,497.1 149.2,498.5 153.7,500 158.1,501.6 162.4,503.2 166.5,504.9 170.6,506.6 174.5,508.5 178.3,510.4 182,512.4 184.4,513.8 187.9,515.9 191.2,518.2 194.4,520.5 196.5,522.1 199.5,524.7 201.4,526.4 204.2,529.1Z" fill="#4cff8c"/>
<path d="M208.5,530.6 221.2,521.2 233.2,512.6 245,504.4 256.6,496.7 267.9,489.4 280,481.9 290.8,475.4 302.3,468.8 294.5,465.6 286.8,462.3 279.2,458.9 270.5,454.8 263.1,451.2 254.7,446.8 247.6,442.9 239.5,438.3 232.6,434.2 224.7,429.3 216.9,424.3 209.3,419.2 201.7,413.9 194.3,408.5 187,402.9 179.7,397.3 171.2,401.5 163.5,405.4 155.7,409.5 147.8,413.7 139.8,418.2 131.7,422.9 123.5,427.7 115.2,432.8 106.8,438 98.4,443.5 89.8,449.1 82.2,454.2 73.5,460.3 65.7,465.7 56.8,472.2 48.9,478 49.7,478.8 67.4,480.9 76.8,482.2 84.3,483.2 98.9,485.5 106.1,486.8 113.1,488.1 120,489.5 125.1,490.7 135,493 139.8,494.3 144.6,495.6 149.2,497 153.7,498.4 158.2,499.9 162.5,501.5 166.7,503.2 170.8,504.9 174.8,506.7 178.7,508.6 182.4,510.6 186,512.6 189.5,514.8 192.8,517 195,518.5 198.1,520.9 201.2,523.4 204,526 206.8,528.7Z" fill="#4cff84"/>
<path d="M210.2,529.4 222.3,520.4 234.3,511.8 246.1,503.7 257.6,496 268.9,488.7 280,481.9 290.8,475.4 302.3,468.8 294.5,465.6 286.8,462.3 279.2,458.9 270.5,454.8 263.1,451.2 254.7,446.8 247.6,442.9 239.5,438.3 232.6,434.2 224.7,429.3 216.9,424.3 209.3,419.2 201.7,413.9 194.3,408.5 187,402.9 179.7,397.3 172.1,401 164.4,404.9 156.7,408.9 148.8,413.2 140.8,417.6 132.7,422.3 124.5,427.1 116.3,432.1 107.9,437.3 99.4,442.8 90.9,448.4 83.3,453.5 74.6,459.5 66.8,464.9 57.9,471.4 49.3,477.7 66.7,479.8 81.8,481.8 96.6,484 109.2,486.2 121.4,488.5 128.2,490 133.2,491.2 139.7,492.8 144.5,494.1 149.2,495.4 153.8,496.9 158.2,498.3 162.6,499.9 166.9,501.5 171,503.2 175.1,504.9 179,506.8 182.8,508.7 186.4,510.7 190,512.9 193.4,515 196.7,517.3 199.8,519.7 202.8,522.2 205.7,524.8 207.5,526.6Z" fill="#4cff7d"/>
<path d="M211.8,528.1 223.4,519.6 235.4,511.1 246.1,503.7 257.6,496 268.9,488.7 280,481.9 290.8,475.4 302.3,468.8 294.5,465.6 286.8,462.3 279.2,458.9 270.5,454.8 263.1,451.2 254.7,446.8 247.6,442.9 239.5,438.3 232.6,434.2 224.7,429.3 216.9,424.3 209.3,419.2 201.7,413.9 194.3,408.5 187,402.9 179.7,397.3 172.1,401 164.4,404.9 156.7,408.9 148.8,413.2 140.8,417.6 132.7,422.3 124.5,427.1 116.3,432.1 107.9,437.3 99.4,442.8 90.9,448.4 83.3,453.5 74.6,459.5 66.8,464.9 59,470.6 50.4,476.9 67.9,478.9 83.1,480.9 97.9,483.1 105.2,484.3 112.3,485.5 124.5,487.9 131.3,489.4 136.3,490.5 141.2,491.8 147.6,493.5 152.2,494.8 156.8,496.3 161.3,497.7 165.6,499.3 169.9,500.9 174,502.6 178,504.4 181.9,506.3 185.6,508.2 189.3,510.3 192.8,512.4 196.1,514.6 198.3,516.1 201.5,518.5 204.5,521 207.3,523.6 210.1,526.3Z" fill="#4cff75"/>
<path d="M213.5,526.9 224.5,518.8 236.5,510.3 247.1,503 258.6,495.3 269.9,488.1 281,481.3 291.8,474.8 302.3,468.8 294.5,465.6 286.8,462.3 279.2,458.9 270.5,454.8 263.1,451.2 254.7,446.8 247.6,442.9 239.5,438.3 232.6,434.2 224.7,429.3 216.9,424.3 209.3,419.2 201.7,413.9 194.3,408.5 187,402.9 179.7,397.3 172.1,401 164.4,404.9 156.7,408.9 148.8,413.2 140.8,417.6 132.7,422.3 124.5,427.1 117.3,431.5 108.9,436.7 100.5,442.1 91.9,447.7 84.4,452.8 75.7,458.7 67.9,464.2 60.2,469.7 51.6,476 69.1,478 84.4,479.9 99.2,482.1 106.5,483.3 113.7,484.5 125.9,486.9 131.1,488 137.7,489.5 144.3,491.1 149.1,492.4 153.8,493.8 158.4,495.2 162.8,496.6 167.2,498.2 171.5,499.8 175.6,501.5 179.6,503.3 183.5,505.1 187.3,507 190.9,509.1 194.4,511.2 197.8,513.4 201,515.7 203.1,517.3 206.1,519.8 209,522.3 210.9,524.1Z" fill="#4cff6e"/>
<path d="M215.2,525.6 226.7,517.3 237.5,509.6 248.2,502.3 259.7,494.6 269.9,488.1 281,481.3 291.8,474.8 302.3,468.8 294.5,465.6 286.8,462.3 279.2,458.9 270.5,454.8 263.1,451.2 254.7,446.8 247.6,442.9 239.5,438.3 232.6,434.2 224.7,429.3 216.9,424.3 209.3,419.2 201.7,413.9 194.3,408.5 187,402.9 179.7,397.3 172.1,401 164.4,404.9 156.7,408.9 148.8,413.2 140.8,417.6 132.7,422.3 124.5,427.1 117.3,431.5 108.9,436.7 101.6,441.4 93,447 85.5,452 76.8,458 69,463.4 61.3,468.9 52.7,475.2 70.3,477.1 85.6,479 100.6,481.2 107.9,482.3 115.1,483.6 127.4,485.9 134.2,487.3 139.2,488.5 145.8,490.1 150.6,491.3 155.3,492.7 159.9,494.1 164.4,495.5 168.8,497.1 173.1,498.7 177.2,500.3 181.3,502.1 185.2,503.9 189,505.9 192.6,507.9 196.1,510 199.5,512.2 202.7,514.5 204.8,516.1 207.8,518.5 210.7,521.1 213.5,523.8Z" fill="#4cff67"/>
<path d="M216.9,524.4 227.8,516.5 238.6,508.8 249.2,501.6 260.7,494 270.9,487.4 281.9,480.7 291.8,474.8 302.3,468.8 294.5,465.6 286.8,462.3 279.2,458.9 270.5,454.8 263.1,451.2 254.7,446.8 247.6,442.9 239.5,438.3 232.6,434.2 224.7,429.3 216.9,424.3 209.3,419.2 201.7,413.9 194.3,408.5 187,402.9 179.7,397.3 172.1,401 164.4,404.9 156.7,408.9 149.8,412.7 141.8,417.1 133.7,421.7 125.6,426.5 118.3,430.9 110,436 102.6,440.7 94.1,446.3 86.6,451.3 77.9,457.2 70.2,462.6 62.4,468.1 53.9,474.3 71.6,476.2 86.9,478.1 101.9,480.2 109.2,481.4 116.5,482.6 128.8,484.9 135.7,486.3 140.7,487.4 145.7,488.6 152.1,490.3 156.9,491.6 161.5,493 166,494.4 170.4,495.9 174.7,497.5 178.9,499.2 182.9,500.9 186.9,502.8 190.6,504.7 194.3,506.7 197.8,508.8 201.2,511 204.5,513.3 206.5,514.8 209.6,517.3 211.5,519 214.3,521.6Z" fill="#4cff5f"/>
<path d="M218.6,523.1 230,514.9 240.8,507.3 251.3,500.1 261.7,493.3 271.9,486.8 281.9,480.7 291.8,474.8 302.3,468.8 294.5,465.6 286.8,462.3 279.2,458.9 270.5,454.8 263.1,451.2 254.7,446.8 247.6,442.9 239.5,438.3 232.6,434.2 224.7,429.3 216.9,424.3 209.3,419.2 201.7,413.9 194.3,408.5 187,402.9 179.7,397.3 172.1,401 164.4,404.9 156.7,408.9 149.8,412.7 141.8,417.1 133.7,421.7 125.6,426.5 118.3,430.9 110,436 102.6,440.7 94.1,446.3 86.6,451.3 78.9,456.5 71.3,461.8 63.5,467.3 55.1,473.4 72.8,475.3 88.2,477.2 103.3,479.3 110.6,480.4 117.9,481.6 130.3,483.9 135.4,484.9 142.2,486.4 148.8,487.9 153.7,489.2 158.4,490.5 163.1,491.9 167.6,493.3 172,494.8 176.4,496.4 180.5,498 184.6,499.8 188.5,501.6 192.3,503.5 196,505.5 199.5,507.6 202.9,509.7 206.2,512 208.3,513.6 211.3,516 214.2,518.6 216.9,521.3Z" fill="#4cff58"/>
<path d="M220.4,521.8 231.1,514.1 240.8,507.3 251.3,500.1 261.7,493.3 271.9,486.8 281.9,480.7 291.8,474.8 302.3,468.8 294.5,465.6 286.8,462.3 279.2,458.9 270.5,454.8 263.1,451.2 254.7,446.8 247.6,442.9 239.5,438.3 232.6,434.2 224.7,429.3 216.9,424.3 209.3,419.2 201.7,413.9 194.3,408.5 187,402.9 179.7,397.3 172.1,401 164.4,404.9 156.7,408.9 149.8,412.7 141.8,417.1 134.7,421.1 126.6,425.9 119.4,430.2 111,435.4 103.7,440 95.2,445.6 87.6,450.6 80,455.7 72.4,461 64.6,466.5 56.3,472.6 74,474.4 89.5,476.3 104.6,478.3 112,479.4 119.3,480.6 131.7,482.8 138.6,484.2 143.7,485.3 148.7,486.5 155.2,488.1 160,489.4 164.7,490.7 169.2,492.2 173.7,493.7 178,495.2 182.2,496.9 186.3,498.6 190.2,500.4 194.1,502.3 197.7,504.3 201.3,506.3 204.7,508.5 206.9,510 210,512.3 212,514 215,516.5 217.8,519.1Z" fill="#4cff50"/>
<path d="M222.2,520.5 232.1,513.4 242.9,505.9 252.4,499.4 262.8,492.6 273,486.2 282.9,480.1 292.7,474.3 302.3,468.8 294.5,465.6 286.8,462.3 279.2,458.9 270.5,454.8 263.1,451.2 254.7,446.8 247.6,442.9 239.5,438.3 232.6,434.2 224.7,429.3 216.9,424.3 209.3,419.2 201.7,413.9 194.3,408.5 187,402.9 179.7,397.3 172.1,401 164.4,404.9 156.7,408.9 149.8,412.7 141.8,417.1 134.7,421.1 126.6,425.9 119.4,430.2 111,435.4 103.7,440 96.2,444.9 88.7,449.8 81.1,455 73.5,460.3 65.7,465.7 57.4,471.7 75.3,473.5 90.8,475.3 106,477.3 113.4,478.4 120.7,479.6 133.2,481.8 140.1,483.2 145.3,484.3 151.9,485.8 156.8,487 161.6,488.3 166.3,489.6 170.9,491 175.3,492.5 179.7,494.1 183.9,495.7 188,497.4 192,499.2 195.8,501.1 199.5,503 203,505.1 206.4,507.3 209.7,509.5 211.8,511.1 214.8,513.5 217.7,516.1 220.4,518.7Z" fill="#50ff4c"/>
<path d="M223.9,519.2 234.3,511.8 244,505.2 253.4,498.8 263.8,492 273,486.2 282.9,480.1 292.7,474.3 302.3,468.8 294.5,465.6 286.8,462.3 279.2,458.9 270.5,454.8 263.1,451.2 254.7,446.8 247.6,442.9 239.5,438.3 232.6,434.2 224.7,429.3 216.9,424.3 209.3,419.2 201.7,413.9 194.3,408.5 187,402.9 179.7,397.3 172.1,401 165.4,404.4 157.6,408.4 150.7,412.1 142.8,416.5 135.8,420.5 127.6,425.3 120.4,429.6 112.1,434.7 104.7,439.4 97.3,444.2 89.8,449.1 82.2,454.2 74.6,459.5 66.8,464.9 58.6,470.8 76.5,472.6 92.1,474.4 107.3,476.4 114.8,477.5 122.1,478.6 134.7,480.8 139.9,481.8 146.8,483.2 151.8,484.3 158.4,485.9 163.2,487.2 167.9,488.5 172.5,489.9 177,491.4 181.4,492.9 185.6,494.5 189.7,496.2 193.7,498 197.5,499.8 201.2,501.8 204.8,503.9 208.2,506 210.4,507.5 213.6,509.8 215.6,511.4 218.5,513.9 221.3,516.5Z" fill="#58ff4c"/>
<path d="M225.7,517.9 235.4,511.1 245,504.4 254.5,498.1 264.8,491.3 274,485.6 283.9,479.5 292.7,474.3 302.3,468.8 294.5,465.6 286.8,462.3 279.2,458.9 270.5,454.8 263.1,451.2 254.7,446.8 247.6,442.9 239.5,438.3 232.6,434.2 224.7,429.3 216.9,424.3 209.3,419.2 201.7,413.9 194.3,408.5 187,402.9 179.7,397.3 172.1,401 165.4,404.4 157.6,408.4 150.7,412.1 142.8,416.5 135.8,420.5 128.6,424.7 121.4,429 113.1,434.1 105.8,438.7 98.4,443.5 90.9,448.4 83.3,453.5 75.7,458.7 67.9,464.2 59.8,470 77.8,471.7 93.4,473.5 108.7,475.4 116.2,476.5 123.6,477.6 136.2,479.7 143.2,481.1 148.4,482.1 155.1,483.6 160,484.8 164.9,486.1 169.6,487.4 174.2,488.7 178.7,490.2 183.1,491.7 187.4,493.3 191.5,495 195.5,496.8 199.3,498.6 203,500.6 206.6,502.6 210,504.7 212.2,506.2 215.4,508.5 218.4,511 220.3,512.6 223.1,515.2Z" fill="#5fff4c"/>
<path d="M227.6,516.6 237.5,509.6 247.1,503 256.6,496.7 265.8,490.7 275,484.9 283.9,479.5 292.7,474.3 302.3,468.8 294.5,465.6 286.8,462.3 279.2,458.9 270.5,454.8 263.1,451.2 254.7,446.8 247.6,442.9 239.5,438.3 232.6,434.2 224.7,429.3 216.9,424.3 209.3,419.2 201.7,413.9 194.3,408.5 187,402.9 179.7,397.3 172.1,401 165.4,404.4 157.6,408.4 150.7,412.1 142.8,416.5 135.8,420.5 128.6,424.7 121.4,429 114.2,433.4 106.8,438 99.4,442.8 91.9,447.7 84.4,452.8 76.8,458 69,463.4 61,469.1 79.1,470.8 94.8,472.5 110.1,474.4 125,476.6 137.7,478.7 143,479.7 149.9,481.1 156.7,482.5 161.7,483.7 166.5,484.9 171.3,486.2 175.9,487.6 180.4,489 184.8,490.5 189.1,492.1 193.2,493.8 197.3,495.5 201.1,497.4 204.8,499.3 208.4,501.3 211.8,503.5 215.1,505.7 217.2,507.3 220.2,509.7 223.1,512.2 225.8,514.8Z" fill="#67ff4c"/>
<path d="M229.4,515.3 238.6,508.8 248.2,502.3 257.6,496 266.9,490 276,484.3 284.9,478.9 293.7,473.7 302.3,468.8 294.5,465.6 286.8,462.3 279.2,458.9 270.5,454.8 263.1,451.2 254.7,446.8 247.6,442.9 239.5,438.3 232.6,434.2 224.7,429.3 216.9,424.3 209.3,419.2 201.7,413.9 194.3,408.5 187,402.9 179.7,397.3 172.1,401 165.4,404.4 158.6,407.9 151.7,411.6 143.8,416 136.8,419.9 129.7,424.1 122.5,428.3 115.2,432.8 107.9,437.3 100.5,442.1 93,447 85.5,452 77.9,457.2 70.2,462.6 62.3,468.2 80.3,469.9 98,471.8 113.4,473.7 120.9,474.8 128.3,475.9 141,478 146.3,479 153.2,480.3 160,481.8 164.9,483 169.8,484.2 174.5,485.5 179.2,486.9 183.7,488.3 188,489.9 192.3,491.5 196.4,493.1 200.4,494.9 204.2,496.8 206.7,498.1 210.3,500.1 213.7,502.2 217,504.4 219.1,506 222.1,508.4 225,510.9 226.8,512.6Z" fill="#6eff4c"/>
<path d="M231.3,514 240.8,507.3 249.2,501.6 258.6,495.3 267.9,489.4 276,484.3 284.9,478.9 293.7,473.7 302.3,468.8 294.5,465.6 286.8,462.3 279.2,458.9 270.5,454.8 263.1,451.2 254.7,446.8 247.6,442.9 239.5,438.3 232.6,434.2 224.7,429.3 216.9,424.3 209.3,419.2 201.7,413.9 194.3,408.5 187,402.9 179.7,397.3 172.1,401 165.4,404.4 158.6,407.9 151.7,411.6 143.8,416 136.8,419.9 129.7,424.1 122.5,428.3 115.2,432.8 107.9,437.3 100.5,442.1 93,447 85.5,452 77.9,457.2 63.5,467.4 81.6,469 99.4,470.9 114.8,472.7 129.8,474.9 142.5,476.9 149.6,478.2 154.8,479.3 161.6,480.7 166.6,481.9 171.5,483.1 176.2,484.4 180.9,485.7 185.4,487.2 189.8,488.7 194.1,490.2 198.2,491.9 202.2,493.7 206,495.5 208.5,496.8 212.1,498.8 215.6,500.9 217.8,502.4 220.9,504.7 223,506.2 225.9,508.7 228.7,511.3Z" fill="#75ff4c"/>
<path d="M233.2,512.6 241.8,506.6 250.3,500.9 258.6,495.3 267.9,489.4 276,484.3 284.9,478.9 293.7,473.7 302.3,468.8 294.5,465.6 286.8,462.3 279.2,458.9 270.5,454.8 263.1,451.2 254.7,446.8 247.6,442.9 239.5,438.3 232.6,434.2 224.7,429.3 216.9,424.3 209.3,419.2 201.7,413.9 194.3,408.5 187,402.9 179.7,397.3 172.1,401 165.4,404.4 158.6,407.9 151.7,411.6 144.8,415.4 137.8,419.4 130.7,423.5 123.5,427.7 116.3,432.1 108.9,436.7 101.6,441.4 94.1,446.3 86.6,451.3 78.9,456.5 64.7,466.5 82.9,468.1 100.7,469.9 116.2,471.8 131.3,473.8 144.1,475.9 149.4,476.8 156.4,478.2 161.6,479.2 168.3,480.7 173.2,481.9 178,483.2 182.6,484.5 187.2,486 191.6,487.4 195.9,489 200.1,490.7 204.1,492.4 207.9,494.2 210.4,495.5 214,497.5 217.5,499.6 220.7,501.8 222.9,503.3 225.9,505.7 228.8,508.2 231.5,510.8Z" fill="#7dff4c"/>
<path d="M235.1,511.3 244,505.2 252.4,499.4 260.7,494 268.9,488.7 277,483.7 285.9,478.3 293.7,473.7 302.3,468.8 294.5,465.6 286.8,462.3 279.2,458.9 270.5,454.8 263.1,451.2 254.7,446.8 247.6,442.9 239.5,438.3 232.6,434.2 224.7,429.3 216.9,424.3 209.3,419.2 201.7,413.9 194.3,408.5 187,402.9 179.7,397.3 172.1,401 165.4,404.4 158.6,407.9 151.7,411.6 144.8,415.4 137.8,419.4 130.7,423.5 123.5,427.7 116.3,432.1 108.9,436.7 95.2,445.6 81.1,455 73.5,460.3 65.9,465.6 84.2,467.2 102.1,469 117.7,470.8 132.8,472.8 145.7,474.8 152.8,476.1 158.1,477.1 165,478.5 170,479.6 174.9,480.8 179.7,482 184.4,483.4 189,484.8 193.4,486.2 197.8,487.8 201.9,489.4 205.9,491.1 209.8,493 212.3,494.2 215.9,496.2 219.4,498.3 222.7,500.5 224.8,502 227.8,504.4 230.7,506.9 233.4,509.5Z" fill="#84ff4c"/>
<path d="M237.1,509.9 245,504.4 253.4,498.8 261.7,493.3 269.9,488.1 278,483.1 285.9,478.3 293.7,473.7 302.3,468.8 294.5,465.6 286.8,462.3 279.2,458.9 270.5,454.8 263.1,451.2 254.7,446.8 247.6,442.9 239.5,438.3 232.6,434.2 224.7,429.3 216.9,424.3 209.3,419.2 201.7,413.9 194.3,408.5 187,402.9 179.7,397.3 173.1,400.5 166.4,403.9 159.6,407.4 152.7,411 145.8,414.8 138.8,418.8 131.7,422.9 124.5,427.1 117.3,431.5 110,436 96.2,444.9 82.2,454.2 74.6,459.5 67.2,464.7 85.5,466.3 103.5,468 119.1,469.8 134.3,471.8 147.3,473.7 152.7,474.7 159.7,476 164.9,477 171.7,478.5 176.7,479.6 181.5,480.9 186.2,482.2 190.8,483.5 195.3,485 199.6,486.5 203.8,488.2 207.9,489.9 211.7,491.7 214.2,492.9 217.9,494.9 221.3,497 224.6,499.2 226.7,500.7 229.8,503 232.6,505.5 235.3,508.1Z" fill="#8cff4c"/>
<path d="M239,508.5 247.1,503 255.5,497.4 262.8,492.6 270.9,487.4 279,482.5 286.9,477.7 294.7,473.2 302.3,468.8 294.5,465.6 286.8,462.3 279.2,458.9 270.5,454.8 263.1,451.2 254.7,446.8 247.6,442.9 239.5,438.3 232.6,434.2 224.7,429.3 216.9,424.3 209.3,419.2 201.7,413.9 194.3,408.5 187,402.9 179.7,397.3 173.1,400.5 166.4,403.9 159.6,407.4 152.7,411 145.8,414.8 138.8,418.8 125.6,426.5 118.3,430.9 111,435.4 97.3,444.2 83.3,453.5 75.7,458.7 68.4,463.8 86.8,465.4 104.9,467.1 120.6,468.8 135.9,470.8 148.9,472.7 156.1,473.9 161.4,474.8 168.4,476.2 173.5,477.3 178.4,478.5 183.3,479.7 188.1,481 192.7,482.3 197.2,483.8 201.5,485.3 205.7,486.9 209.8,488.6 213.7,490.4 216.2,491.6 219.8,493.6 223.3,495.6 226.6,497.8 228.7,499.3 230.8,500.9 233.7,503.3 236.5,505.9Z" fill="#93ff4c"/>
<path d="M241.1,507.1 249.2,501.6 256.6,496.7 263.8,492 271.9,486.8 279,482.5 286.9,477.7 294.7,473.2 302.3,468.8 294.5,465.6 286.8,462.3 279.2,458.9 270.5,454.8 263.1,451.2 254.7,446.8 247.6,442.9 239.5,438.3 232.6,434.2 224.7,429.3 216.9,424.3 209.3,419.2 201.7,413.9 194.3,408.5 187,402.9 179.7,397.3 173.1,400.5 166.4,403.9 159.6,407.4 152.7,411 145.8,414.8 138.8,418.8 125.6,426.5 112.1,434.7 98.4,443.5 84.4,452.8 76.8,458 69.6,463 88.1,464.4 106.3,466.1 122.1,467.8 137.4,469.7 150.5,471.6 156,472.5 163.1,473.7 170.1,475.1 175.2,476.1 180.2,477.3 185.1,478.5 189.9,479.7 194.6,481.1 199.1,482.5 203.5,484 207.7,485.6 211.8,487.3 215.7,489.1 218.2,490.3 221.8,492.2 225.3,494.3 228.6,496.5 230.8,498 232.8,499.5 235.7,501.9 238.5,504.5Z" fill="#9bff4c"/>
<path d="M243.1,505.7 251.3,500.1 258.6,495.3 265.8,490.7 273,486.2 280,481.9 287.9,477.1 294.7,473.2 302.3,468.8 294.5,465.6 286.8,462.3 279.2,458.9 270.5,454.8 263.1,451.2 254.7,446.8 247.6,442.9 239.5,438.3 232.6,434.2 224.7,429.3 216.9,424.3 209.3,419.2 201.7,413.9 194.3,408.5 187,402.9 179.7,397.3 173.1,400.5 166.4,403.9 153.7,410.5 146.8,414.3 139.8,418.2 126.6,425.9 113.1,434.1 99.4,442.8 85.5,452 77.9,457.2 70.9,462.1 91.5,463.7 109.7,465.4 125.5,467 140.9,468.9 154,470.8 161.2,472 166.6,472.9 173.6,474.3 178.7,475.3 183.7,476.5 188.6,477.7 193.4,478.9 198,480.3 202.5,481.7 206.8,483.2 211,484.8 215.1,486.5 219,488.3 221.5,489.6 225.1,491.6 228.5,493.6 230.7,495.1 233.8,497.3 236.8,499.7 238.7,501.4 240.5,503.1Z" fill="#a2ff4c"/>
<path d="M245.2,504.3 252.4,499.4 259.7,494.6 266.9,490 274,485.6 281,481.3 287.9,477.1 294.7,473.2 302.3,468.8 294.5,465.6 286.8,462.3 279.2,458.9 270.5,454.8 263.1,451.2 254.7,446.8 247.6,442.9 239.5,438.3 232.6,434.2 224.7,429.3 216.9,424.3 209.3,419.2 201.7,413.9 194.3,408.5 187,402.9 179.7,397.3 173.1,400.5 166.4,403.9 153.7,410.5 146.8,414.3 139.8,418.2 126.6,425.9 113.1,434.1 99.4,442.8 85.5,452 72.2,461.2 92.8,462.8 111.1,464.4 127,466 142.5,467.9 155.6,469.7 162.9,470.9 168.3,471.8 175.4,473.1 180.5,474.2 185.6,475.3 190.5,476.5 195.3,477.7 199.9,479 204.5,480.4 208.8,481.9 213.1,483.5 217.1,485.2 221,487 223.5,488.2 227.1,490.2 230.6,492.3 232.8,493.7 235.9,495.9 238.9,498.3 240.8,500 242.6,501.7Z" fill="#a9ff4c"/>
<path d="M247.3,502.9 260.7,494 267.9,489.4 275,484.9 281.9,480.7 288.8,476.6 295.6,472.6 302.3,468.8 294.5,465.6 286.8,462.3 279.2,458.9 270.5,454.8 263.1,451.2 254.7,446.8 247.6,442.9 239.5,438.3 232.6,434.2 224.7,429.3 216.9,424.3 209.3,419.2 201.7,413.9 194.3,408.5 187,402.9 179.7,397.3 173.1,400.5 166.4,403.9 153.7,410.5 140.8,417.6 127.6,425.3 114.2,433.4 100.5,442.1 86.6,451.3 73.4,460.3 94.2,461.8 112.5,463.4 128.5,465 144.1,466.8 157.3,468.6 164.7,469.7 170.1,470.6 175.4,471.6 182.4,473 187.4,474.1 192.4,475.2 197.2,476.5 201.9,477.8 206.5,479.2 210.9,480.6 215.1,482.2 219.2,483.9 223.1,485.6 225.6,486.9 229.3,488.8 232.7,490.9 234.9,492.3 238.1,494.5 241,496.9 242.9,498.5 244.7,500.2Z" fill="#b1ff4c"/>
<path d="M249.4,501.4 262.8,492.6 276,484.3 288.8,476.6 295.6,472.6 302.3,468.8 294.5,465.6 286.8,462.3 279.2,458.9 270.5,454.8 263.1,451.2 254.7,446.8 247.6,442.9 239.5,438.3 232.6,434.2 224.7,429.3 216.9,424.3 209.3,419.2 201.7,413.9 194.3,408.5 187,402.9 179.7,397.3 167.3,403.4 154.7,410 141.8,417.1 128.6,424.7 115.2,432.8 101.6,441.4 88.7,449.8 74.7,459.4 95.6,460.9 114,462.4 130,464 145.7,465.7 159,467.5 166.4,468.6 171.9,469.5 179,470.7 184.2,471.8 189.3,472.8 194.3,474 199.2,475.2 203.9,476.5 208.5,477.8 212.9,479.3 217.2,480.9 221.3,482.5 225.3,484.3 227.8,485.5 231.4,487.4 234.9,489.4 237.1,490.9 240.2,493.1 242.2,494.7 245.1,497.1 246.9,498.8Z" fill="#b8ff4c"/>
<path d="M251.6,500 264.8,491.3 277,483.7 289.8,476 302.3,468.8 294.5,465.6 286.8,462.3 279.2,458.9 270.5,454.8 263.1,451.2 254.7,446.8 247.6,442.9 239.5,438.3 232.6,434.2 224.7,429.3 216.9,424.3 209.3,419.2 201.7,413.9 194.3,408.5 187,402.9 179.7,397.3 167.3,403.4 154.7,410 141.8,417.1 128.6,424.7 115.2,432.8 102.6,440.7 89.8,449.1 76,458.5 96.9,460 115.4,461.5 131.6,463 147.3,464.7 160.7,466.4 168.2,467.5 173.7,468.3 180.9,469.6 186.1,470.5 191.3,471.6 196.3,472.7 201.2,473.9 206,475.2 210.6,476.5 215,478 219.3,479.5 223.5,481.1 227.4,482.9 230,484.1 233.6,486 237.1,488 239.3,489.4 242.5,491.6 244.5,493.2 247.3,495.6 249.1,497.3Z" fill="#c0ff4c"/>
<path d="M253.9,498.5 265.8,490.7 278,483.1 289.8,476 302.3,468.8 294.5,465.6 286.8,462.3 279.2,458.9 270.5,454.8 263.1,451.2 254.7,446.8 247.6,442.9 239.5,438.3 232.6,434.2 224.7,429.3 216.9,424.3 209.3,419.2 201.7,413.9 194.3,408.5 187,402.9 179.7,397.3 167.3,403.4 154.7,410 141.8,417.1 129.7,424.1 116.3,432.1 103.7,440 90.9,448.4 77.3,457.6 98.3,459 116.9,460.5 135.1,462.1 150.9,463.8 164.4,465.5 171.8,466.6 177.3,467.4 184.5,468.7 189.8,469.7 194.9,470.7 200,471.8 204.9,473 209.6,474.3 214.2,475.7 217.2,476.6 221.5,478.1 225.7,479.7 229.6,481.4 232.2,482.6 235.9,484.5 239.3,486.6 242.6,488.7 244.7,490.2 246.7,491.7 249.6,494.1 252.2,496.7Z" fill="#c7ff4c"/>
<path d="M256.1,497 267.9,489.4 280,481.9 290.8,475.4 302.3,468.8 294.5,465.6 286.8,462.3 279.2,458.9 270.5,454.8 263.1,451.2 254.7,446.8 247.6,442.9 239.5,438.3 232.6,434.2 224.7,429.3 216.9,424.3 209.3,419.2 201.7,413.9 194.3,408.5 187,402.9 179.7,397.3 167.3,403.4 154.7,410 141.8,417.1 129.7,424.1 117.3,431.5 104.7,439.4 91.9,447.7 78.6,456.7 99.7,458.1 118.4,459.5 136.7,461.1 152.6,462.7 166.1,464.4 171.8,465.1 179.2,466.2 186.5,467.4 191.8,468.4 197,469.4 202,470.5 207,471.7 211.7,473 216.4,474.3 219.4,475.2 223.7,476.7 227.9,478.3 231.9,480 234.5,481.2 238.2,483.1 241.7,485.1 245,487.2 247,488.7 250,491 251.9,492.6 254.5,495.2Z" fill="#cfff4c"/>
<path d="M258.5,495.4 269.9,488.1 281,481.3 291.8,474.8 302.3,468.8 294.5,465.6 286.8,462.3 279.2,458.9 270.5,454.8 263.1,451.2 254.7,446.8 247.6,442.9 239.5,438.3 232.6,434.2 224.7,429.3 216.9,424.3 209.3,419.2 201.7,413.9 194.3,408.5 187,402.9 179.7,397.3 167.3,403.4 155.7,409.5 142.8,416.5 130.7,423.5 118.3,430.9 105.8,438.7 93,447 79.9,455.8 101.1,457.2 119.9,458.5 138.3,460.1 154.3,461.6 167.9,463.2 181.1,465 188.4,466.2 193.8,467.2 199,468.2 204.1,469.2 209.1,470.4 213.9,471.6 218.6,472.9 221.6,473.8 226,475.3 230.2,476.9 234.2,478.5 236.8,479.7 240.5,481.6 244,483.6 246.2,485 249.4,487.2 252.4,489.5 254.2,491.1 256,492.8Z" fill="#d6ff4c"/>
<path d="M260.9,493.9 271.9,486.8 281.9,480.7 291.8,474.8 302.3,468.8 294.5,465.6 286.8,462.3 279.2,458.9 270.5,454.8 263.1,451.2 254.7,446.8 247.6,442.9 239.5,438.3 232.6,434.2 224.7,429.3 216.9,424.3 209.3,419.2 201.7,413.9 194.3,408.5 187,402.9 179.7,397.3 167.3,403.4 155.7,409.5 143.8,416 131.7,422.9 119.4,430.2 106.8,438 94.1,446.3 81.2,454.9 102.5,456.2 123.5,457.7 142,459.2 158,460.7 171.7,462.3 184.9,464.1 192.2,465.3 197.6,466.2 202.8,467.2 207.9,468.3 212.9,469.4 217.7,470.6 220.8,471.5 225.4,472.9 229.8,474.4 233.9,475.9 237.9,477.6 240.5,478.8 244.1,480.7 246.4,482.1 249.7,484.2 251.8,485.6 253.8,487.2 256.6,489.6 258.4,491.2Z" fill="#deff4c"/>
<path d="M263.3,492.3 273,486.2 282.9,480.1 292.7,474.3 302.3,468.8 294.5,465.6 286.8,462.3 279.2,458.9 270.5,454.8 263.1,451.2 254.7,446.8 247.6,442.9 239.5,438.3 232.6,434.2 224.7,429.3 216.9,424.3 209.3,419.2 201.7,413.9 194.3,408.5 187,402.9 179.7,397.3 167.3,403.4 155.7,409.5 143.8,416 131.7,422.9 119.4,430.2 106.8,438 95.2,445.6 82.5,454 103.9,455.3 125,456.7 143.6,458.1 159.8,459.6 173.6,461.1 186.9,462.9 194.3,464 199.7,464.9 205,465.9 210.1,466.9 215.1,468 220,469.2 224.7,470.5 227.7,471.4 232.1,472.9 236.4,474.5 240.4,476.1 242.9,477.3 246.6,479.2 248.9,480.5 252.2,482.6 254.3,484 257.3,486.4 259.1,488 261.7,490.5Z" fill="#e5ff4c"/>
<path d="M265.8,490.7 275,484.9 283.9,479.5 292.7,474.3 302.3,468.8 294.5,465.6 286.8,462.3 279.2,458.9 270.5,454.8 263.1,451.2 254.7,446.8 247.6,442.9 239.5,438.3 232.6,434.2 224.7,429.3 216.9,424.3 209.3,419.2 201.7,413.9 194.3,408.5 187,402.9 179.7,397.3 168.3,402.9 156.7,408.9 144.8,415.4 132.7,422.3 120.4,429.6 108.9,436.7 96.2,444.9 83.8,453.1 107.5,454.4 126.6,455.7 145.3,457.1 161.6,458.5 175.5,460 188.9,461.6 196.4,462.7 201.8,463.6 207.2,464.5 212.4,465.6 217.4,466.6 222.3,467.8 227.1,469.1 230.2,470 234.6,471.4 238.9,472.9 242.9,474.6 245.5,475.7 248,477 251.5,478.9 254.8,481 256.9,482.4 258.9,484 261.7,486.4 263.4,488Z" fill="#ecff4c"/>
<path d="M268.4,489 277,483.7 285.9,478.3 293.7,473.7 302.3,468.8 294.5,465.6 286.8,462.3 279.2,458.9 270.5,454.8 263.1,451.2 254.7,446.8 247.6,442.9 239.5,438.3 232.6,434.2 224.7,429.3 216.9,424.3 209.3,419.2 201.7,413.9 194.3,408.5 187,402.9 179.7,397.3 168.3,402.9 156.7,408.9 144.8,415.4 133.7,421.7 121.4,429 110,436 97.3,444.2 85.2,452.2 108.9,453.5 130.2,454.8 149.1,456.1 165.4,457.6 179.3,459 192.9,460.6 198.5,461.4 205.8,462.6 211.2,463.5 216.4,464.5 221.5,465.6 226.4,466.8 231.1,468 234.2,468.9 237.1,469.9 241.4,471.4 245.5,473 248.1,474.2 251.8,476 254.1,477.3 256.4,478.6 259.5,480.8 262.5,483.1 264.3,484.7 266.9,487.2Z" fill="#f4ff4c"/>
<path d="M271.1,487.3 279,482.5 286.9,477.7 294.7,473.2 302.3,468.8 294.5,465.6 286.8,462.3 279.2,458.9 270.5,454.8 263.1,451.2 254.7,446.8 247.6,442.9 239.5,438.3 232.6,434.2 224.7,429.3 216.9,424.3 209.3,419.2 201.7,413.9 194.3,408.5 187,402.9 179.7,397.3 168.3,402.9 156.7,408.9 144.8,415.4 133.7,421.7 121.4,429 110,436 98.4,443.5 86.5,451.3 110.4,452.5 131.8,453.8 150.8,455.1 167.3,456.4 181.3,457.8 195,459.3 200.6,460.1 208.1,461.2 213.5,462.1 218.8,463.1 223.9,464.1 228.9,465.3 232.1,466.1 236.7,467.4 241.2,468.8 244.1,469.8 248.2,471.4 250.8,472.5 254.5,474.3 256.9,475.6 260.2,477.7 262.3,479.1 265.2,481.4 267,483 268.7,484.7Z" fill="#fbff4c"/>
<path d="M273.9,485.6 281,481.3 287.9,477.1 294.7,473.2 302.3,468.8 294.5,465.6 286.8,462.3 279.2,458.9 270.5,454.8 263.1,451.2 254.7,446.8 247.6,442.9 239.5,438.3 232.6,434.2 224.7,429.3 216.9,424.3 209.3,419.2 201.7,413.9 194.3,408.5 187,402.9 179.7,397.3 168.3,402.9 157.6,408.4 145.8,414.8 134.7,421.1 122.5,428.3 111,435.4 99.4,442.8 87.9,450.4 111.9,451.5 133.4,452.7 152.5,454 171.2,455.4 187.3,456.9 201,458.5 212.2,460.1 217.6,461 222.9,462 228.1,463 233,464.1 236.3,465 240.9,466.3 245.4,467.7 248.2,468.7 252.3,470.3 254.9,471.4 258.5,473.3 260.9,474.6 263,476 265.1,477.4 267.1,478.9 269.8,481.3 271.5,483Z" fill="#fffb4c"/>
<path d="M276.8,483.8 282.9,480.1 289.8,476 302.3,468.8 294.5,465.6 286.8,462.3 279.2,458.9 270.5,454.8 263.1,451.2 254.7,446.8 247.6,442.9 239.5,438.3 232.6,434.2 224.7,429.3 216.9,424.3 209.3,419.2 201.7,413.9 194.3,408.5 187,402.9 179.7,397.3 168.3,402.9 157.6,408.4 145.8,414.8 134.7,421.1 123.5,427.7 112.1,434.7 100.5,442.1 89.2,449.5 115.6,450.7 137.2,451.8 156.4,453 173.1,454.2 189.4,455.7 203.2,457.2 214.6,458.7 220.1,459.6 225.5,460.5 230.7,461.5 235.7,462.6 240.6,463.8 243.7,464.6 248.2,466 251.1,467 255.2,468.6 257.8,469.7 261.5,471.5 263.8,472.8 266,474.2 269.1,476.4 271,477.9 272.8,479.5 274.5,481.2Z" fill="#fff44c"/>
<path d="M279.8,482 290.8,475.4 302.3,468.8 294.5,465.6 286.8,462.3 279.2,458.9 270.5,454.8 263.1,451.2 254.7,446.8 247.6,442.9 239.5,438.3 232.6,434.2 224.7,429.3 216.9,424.3 209.3,419.2 201.7,413.9 194.3,408.5 187,402.9 179.7,397.3 168.3,402.9 157.6,408.4 146.8,414.3 135.8,420.5 124.5,427.1 113.1,434.1 101.6,441.4 90.6,448.6 117.1,449.7 138.9,450.8 158.2,451.9 177.1,453.2 193.5,454.6 207.4,456 218.9,457.5 224.5,458.4 229.9,459.3 235.1,460.3 238.5,461 243.4,462.1 246.6,462.9 251.1,464.3 254.1,465.3 258.2,466.8 260.9,467.9 264.6,469.7 266.9,471 269.1,472.4 271.2,473.8 273.1,475.3 275.8,477.7 277.5,479.3Z" fill="#ffec4c"/>
<path d="M282.9,480.1 292.7,474.3 302.3,468.8 294.5,465.6 286.8,462.3 279.2,458.9 270.5,454.8 263.1,451.2 254.7,446.8 247.6,442.9 239.5,438.3 232.6,434.2 224.7,429.3 216.9,424.3 209.3,419.2 201.7,413.9 194.3,408.5 187,402.9 179.7,397.3 169.3,402.4 158.6,407.9 147.8,413.7 136.8,419.9 125.6,426.5 114.2,433.4 102.6,440.7 92,447.6 118.6,448.7 140.5,449.7 160,450.8 179.2,452 195.7,453.3 209.8,454.6 221.5,456 227.1,456.8 232.6,457.7 236.1,458.3 241.4,459.3 246.4,460.4 249.6,461.2 254.2,462.5 257.2,463.5 261.4,465 264.1,466.1 267.8,467.8 270.2,469.1 272.4,470.5 274.4,471.9 277.3,474.1 279.1,475.7 280.7,477.4Z" fill="#ffe54c"/>
<path d="M286.2,478.1 294.7,473.2 302.3,468.8 294.5,465.6 286.8,462.3 279.2,458.9 270.5,454.8 263.1,451.2 254.7,446.8 247.6,442.9 239.5,438.3 232.6,434.2 224.7,429.3 216.9,424.3 209.3,419.2 201.7,413.9 194.3,408.5 187,402.9 179.7,397.3 169.3,402.4 158.6,407.9 147.8,413.7 136.8,419.9 125.6,426.5 115.2,432.8 104.7,439.4 93.4,446.7 120.1,447.7 144.4,448.7 164,449.7 183.3,450.9 200.1,452.1 214.3,453.4 226,454.8 231.7,455.5 237.2,456.4 242.6,457.3 247.8,458.3 252.7,459.4 255.9,460.2 260.5,461.6 263.4,462.6 266.1,463.6 268.8,464.7 271.2,465.9 274.7,467.8 276.9,469.2 278.9,470.6 280.7,472.1 282.4,473.8 284.8,476.3Z" fill="#ffde4c"/>
<path d="M289.7,476.1 295.6,472.6 302.3,468.8 294.5,465.6 286.8,462.3 279.2,458.9 270.5,454.8 263.1,451.2 254.7,446.8 247.6,442.9 239.5,438.3 232.6,434.2 224.7,429.3 216.9,424.3 209.3,419.2 201.7,413.9 194.3,408.5 187,402.9 179.7,397.3 169.3,402.4 158.6,407.9 147.8,413.7 137.8,419.4 126.6,425.9 116.3,432.1 105.8,438.7 94.8,445.8 121.7,446.7 146.2,447.7 168.1,448.7 187.6,449.8 204.5,450.9 218.8,452.1 230.7,453.4 236.5,454.1 242.1,454.9 247.5,455.8 251,456.5 254.4,457.2 259.3,458.3 262.5,459.2 266.9,460.6 269.7,461.6 272.4,462.7 276.1,464.4 278.4,465.7 280.5,467.1 282.5,468.5 284.4,470 286.1,471.7 287.6,473.4Z" fill="#ffd64c"/>
<path d="M293.4,473.9 302.3,468.8 294.5,465.6 286.8,462.3 279.2,458.9 270.5,454.8 263.1,451.2 254.7,446.8 247.6,442.9 239.5,438.3 232.6,434.2 224.7,429.3 216.9,424.3 209.3,419.2 201.7,413.9 194.3,408.5 187,402.9 179.7,397.3 169.3,402.4 159.6,407.4 148.8,413.2 138.8,418.8 127.6,425.3 117.3,431.5 106.8,438 96.2,444.9 125.5,445.8 150.1,446.7 172.3,447.6 191.9,448.6 209,449.7 223.6,450.8 235.6,452 241.5,452.7 247.1,453.4 252.6,454.3 256.2,454.9 261.3,456 264.6,456.7 269.2,458 272.2,458.9 275,459.9 277.6,461 280.1,462.2 282.4,463.5 284.5,464.8 286.5,466.3 288.3,467.8 289.9,469.4 291.4,471.2 292.8,473Z" fill="#ffcf4c"/>
<path d="M297.4,471.6 302.3,468.8 291.3,464.3 293.4,466.2 294.9,467.9 296.2,469.7ZM270.2,455 271.5,455.3 264.4,451.8 257.1,448 251.2,444.9 244.1,440.9 233.8,434.9 228.1,431.4 222.5,427.9 216.9,424.3 211.5,420.6 206,416.9 200.7,413.1 195.3,409.3 190.1,405.3 184.9,401.3 179.7,397.3 169.3,402.4 159.6,407.4 149.8,412.7 139.8,418.2 129.7,424.1 119.4,430.2 108.9,436.7 97.7,443.9 136.2,445 167.6,446.1 194.2,447.3 205.1,447.8 215.8,448.5 226.4,449.2 234.7,449.9 242.7,450.7 248.6,451.3 254.3,452.1 259.9,452.9 265.2,453.9Z" fill="#ffc74c"/>
<path d="M301.9,469.1 302.3,468.8 301.6,468.5ZM260.1,450.3 261.8,450.5 251.2,444.9 245.3,441.6 239.5,438.3 233.8,434.9 228.1,431.4 222.5,427.9 216.9,424.3 208.2,418.4 198.5,411.6 189,404.5 179.7,397.3 169.3,402.4 159.6,407.4 149.8,412.7 139.8,418.2 129.7,424.1 119.4,430.2 108.9,436.7 99.1,443 133.3,443.9 160.6,444.7 185.3,445.5 205.4,446.3 222.9,447.2 237.8,448.2 250.2,449.2Z" fill="#ffc04c"/>
<path d="M254,447.2 255.7,447.3 245.3,441.6 234.9,435.6 224.7,429.3 219.1,425.8 213.6,422.1 204.9,416.2 196.4,410 188,403.7 179.7,397.3 170.2,401.9 160.6,406.9 150.7,412.1 140.8,417.6 130.7,423.5 120.4,429.6 110,436 100.5,442.1 160.2,443.5 201.1,444.7 216.9,445.2 230.2,445.8 243.3,446.5Z" fill="#ffb84c"/>
<path d="M249.2,444.6 250.9,444.7 240.6,439 230.3,432.8 220.3,426.5 210.4,419.9 202.8,414.6 195.3,409.3 188,403.7 179.7,397.3 170.2,401.9 160.6,406.9 150.7,412.1 141.8,417.1 131.7,422.9 122.5,428.3 112.1,434.7 102,441.1 155.2,442.2 196.7,443.1 226.5,443.9Z" fill="#ffb14c"/>
<path d="M246.1,442.4 246.8,442.4 238.3,437.6 229.2,432.1 220.3,426.5 211.5,420.6 203.9,415.4 195.3,409.3 188,403.7 179.7,397.3 170.2,401.9 160.6,406.9 150.7,412.1 141.8,417.1 131.7,422.9 122.5,428.3 113.1,434.1 103.5,440.2Z" fill="#ffa94c"/>
<path d="M242.8,440.4 243.2,440.4 233.8,434.9 223.6,428.6 216.9,424.3 209.3,419.2 201.7,413.9 194.3,408.5 187,402.9 179.7,397.3 170.2,401.9 161.5,406.4 151.7,411.6 142.8,416.5 132.7,422.3 123.5,427.7 114.2,433.4 105,439.2 152.9,439.8 188.2,440.2 219.5,440.4Z" fill="#ffa24c"/>
<path d="M239,438.5 239.9,438.5 231.5,433.5 223.6,428.6 215.8,423.6 207.1,417.7 200.7,413.1 193.2,407.7 187,402.9 179.7,397.3 170.2,401.9 161.5,406.4 152.7,411 143.8,416 134.7,421.1 125.6,426.5 116.3,432.1 106.5,438.3 155.1,438.7 188.1,438.9 215.2,438.8 227.6,438.7Z" fill="#ff9b4c"/>
<path d="M235,436.8 236.9,436.7 229.2,432.1 222.5,427.9 215.8,423.6 208.2,418.4 201.7,413.9 194.3,408.5 187,402.9 179.7,397.3 171.2,401.5 162.5,405.9 153.7,410.5 144.8,415.4 135.8,420.5 126.6,425.9 117.3,431.5 108,437.3 151.8,437.6 186.2,437.6 212.8,437.3 223.2,437.1Z" fill="#ff934c"/>
<path d="M233.3,435.1 234.1,435.1 227,430.7 219.1,425.8 211.5,420.6 203.9,415.4 198.5,411.6 192.2,406.9 185.9,402.1 179.7,397.3 171.2,401.5 162.5,405.9 153.7,410.5 144.8,415.4 135.8,420.5 127.6,425.3 118.3,430.9 109.5,436.3 152.1,436.4 186.1,436.3 210.5,435.9 224.1,435.5Z" fill="#ff8c4c"/>
<path d="M228.7,433.6 231.5,433.5 224.7,429.3 218,425 211.5,420.6 204.9,416.2 198.5,411.6 192.2,406.9 185.9,402.1 179.7,397.3 171.2,401.5 162.5,405.9 153.7,410.5 145.8,414.8 136.8,419.9 128.6,424.7 119.4,430.2 111,435.4 148.9,435.3 180.8,435.1 193,434.9 206.7,434.5 218.4,434.1Z" fill="#ff844c"/>
<path d="M226.7,432.1 229,432 222.5,427.9 215.8,423.6 210.4,419.9 203.9,415.4 198.5,411.6 192.2,406.9 185.9,402.1 179.7,397.3 171.2,401.5 163.5,405.4 154.7,410 146.8,414.3 137.8,419.4 129.7,424.1 121.4,429 112.6,434.4 133.3,434.4 151.1,434.2 165.2,434.1 180.8,433.8 192.8,433.5 206.3,433.1 217.8,432.6Z" fill="#ff7d4c"/>
<path d="M224.5,430.7 226.7,430.5 220.3,426.5 214.7,422.8 209.3,419.2 202.8,414.6 197.5,410.8 191.1,406.1 185.9,402.1 179.7,397.3 171.2,401.5 163.5,405.4 155.7,409.5 147.8,413.7 138.8,418.8 130.7,423.5 122.5,428.3 114.2,433.4 149.7,433.2 177.4,432.7 191,432.3 204.3,431.8 214.1,431.3Z" fill="#ff754c"/>
<path d="M222.2,429.3 224.4,429.1 218,425 212.5,421.4 207.1,417.7 201.7,413.9 196.4,410 191.1,406.1 185.9,402.1 179.7,397.3 171.2,401.5 163.5,405.4 155.7,409.5 147.8,413.7 139.8,418.2 131.7,422.9 123.5,427.7 115.8,432.4 134.3,432.3 150.1,432.1 163.9,431.8 177.5,431.5 190.9,431 200.8,430.6 212,430Z" fill="#ff6e4c"/>
<path d="M219.8,428 222.3,427.8 216.9,424.3 211.5,420.6 206,416.9 200.7,413.1 195.3,409.3 190.1,405.3 184.9,401.3 179.7,397.3 172.1,401 164.4,404.9 156.7,408.9 148.8,413.2 140.8,417.6 132.7,422.3 125.6,426.5 117.4,431.5 148.7,431 164.1,430.7 177.6,430.3 189.2,429.8 200.6,429.3 210,428.7Z" fill="#ff674c"/>
<path d="M220.2,426.5 210.4,419.9 204.9,416.2 199.6,412.4 190.1,405.3 184.9,401.3 179.7,397.3 172.1,401 164.4,404.9 156.7,408.9 149.8,412.7 141.8,417.1 134.7,421.1 126.6,425.9 119,430.5 135.3,430.2 150.8,429.9 166.1,429.5 179.4,429 190.8,428.5 201.9,427.8 212.7,427.1Z" fill="#ff5f4c"/>
<path d="M217.6,425.3 218.3,425.2 208.2,418.4 198.5,411.6 189,404.5 179.7,397.3 172.1,401 165.4,404.4 157.6,408.4 150.7,412.1 142.8,416.5 135.8,420.5 128.6,424.7 120.6,429.5 134.1,429.2 149.5,428.9 163,428.4 176.2,427.9 187.5,427.4 198.6,426.7 209.4,426Z" fill="#ff584c"/>
<path d="M214.8,424.1 216.4,424 207.1,417.7 197.5,410.8 189,404.5 179.7,397.3 172.1,401 165.4,404.4 158.6,407.9 151.7,411.6 143.8,416 136.8,419.9 129.7,424.1 122.3,428.5 136.3,428.2 151.6,427.7 164.9,427.3 176.3,426.8 187.5,426.2 196.9,425.6 206.1,424.9Z" fill="#ff504c"/>
<path d="M211.9,423 214.6,422.7 206,416.9 197.5,410.8 189,404.5 179.7,397.3 172.1,401 165.4,404.4 158.6,407.9 151.7,411.6 144.8,415.4 137.8,419.4 130.7,423.5 124,427.4 138.5,427.1 150.3,426.7 161.8,426.3 173.2,425.8 184.4,425.1 195.3,424.4 204.3,423.7Z" fill="#ff4c4c"/>
</g>
<path d="M166.8,558.3 160.5,554.9 154.4,551.5 148.2,547.9 142.2,544.3 136.3,540.7 130.4,537 124.6,533.2 118.9,529.3 113.3,525.4 107.7,521.4 102.2,517.4 96.8,513.3 91.4,509.1 86.1,504.9 80.8,500.6 75.6,496.2 70.4,491.8 65.3,487.4 60.3,482.8 55.3,478.3M166.8,558.3 173.9,552.6 181,547 187.9,541.5 194.8,536.2 201.7,531 208.4,525.9 215.1,521 221.7,516.2 228.2,511.6 234.7,507.1 241.1,502.7 247.4,498.4 253.7,494.3 259.9,490.3 266,486.4 272,482.7 278,479 283.9,475.5 289.8,472.1 295.5,468.8M173.9,552.6 167.6,549.2 161.4,545.8 155.3,542.3 149.3,538.8 143.3,535.2 137.4,531.5 131.6,527.7 125.9,523.9 120.2,520 114.6,516.1 109.1,512.1 103.7,508 98.3,503.9 92.9,499.7 87.6,495.5 82.4,491.1 77.2,486.8 72.1,482.3 67,477.9 62,473.3M160.5,554.9 167.6,549.2 174.7,543.7 181.6,538.2 188.5,533 195.3,527.8 202,522.8 208.7,517.9 215.3,513.2 221.8,508.6 228.3,504.1 234.7,499.7 241,495.5 247.2,491.4 253.4,487.4 259.5,483.6 265.6,479.8 271.5,476.2 277.4,472.7 283.3,469.4 289,466.1M181,547 174.7,543.7 168.4,540.3 162.3,536.8 156.2,533.3 150.2,529.8 144.4,526.1 138.5,522.4 132.8,518.6 127.1,514.8 121.5,510.9 116,506.9 110.5,502.9 105.1,498.8 99.7,494.7 94.4,490.4 89.2,486.2 84,481.8 78.8,477.4 73.8,473 68.7,468.5M154.4,551.5 161.4,545.8 168.4,540.3 175.4,534.9 182.2,529.7 189,524.6 195.7,519.6 202.4,514.7 209,510 215.5,505.4 221.9,501 228.3,496.7 234.6,492.5 240.9,488.4 247,484.5 253.1,480.7 259.2,477 265.1,473.4 271,469.9 276.9,466.6 282.6,463.3M187.9,541.5 181.6,538.2 175.4,534.9 169.2,531.5 163.1,528 157.1,524.5 151.2,520.9 145.4,517.2 139.6,513.5 133.9,509.7 128.3,505.8 122.7,501.9 117.2,497.9 111.8,493.9 106.4,489.7 101.1,485.6 95.9,481.3 90.7,477 85.5,472.7 80.4,468.2 75.4,463.8M148.2,547.9 155.3,542.3 162.3,536.8 169.2,531.5 176,526.3 182.8,521.2 189.5,516.3 196.2,511.5 202.7,506.8 209.2,502.3 215.7,497.9 222,493.6 228.3,489.4 234.6,485.4 240.7,481.5 246.8,477.7 252.9,474 258.8,470.4 264.7,467 270.6,463.7 276.3,460.5M194.8,536.2 188.5,533 182.2,529.7 176,526.3 169.9,522.9 163.9,519.4 158,515.8 152.2,512.2 146.4,508.5 140.7,504.7 135,500.9 129.5,497 123.9,493 118.5,489 113.1,485 107.8,480.8 102.5,476.6 97.3,472.3 92.1,468 87,463.6 82,459.2M142.2,544.3 149.3,538.8 156.2,533.3 163.1,528 169.9,522.9 176.7,517.8 183.4,512.9 190,508.2 196.6,503.5 203.1,499 209.5,494.6 215.9,490.4 222.1,486.3 228.4,482.3 234.5,478.4 240.6,474.6 246.6,471 252.6,467.4 258.5,464 264.3,460.7 270.1,457.5M201.7,531 195.3,527.8 189,524.6 182.8,521.2 176.7,517.8 170.7,514.4 164.7,510.9 158.9,507.3 153.1,503.6 147.3,499.9 141.7,496.1 136.1,492.2 130.6,488.3 125.1,484.3 119.7,480.3 114.4,476.2 109.1,472 103.9,467.8 98.7,463.5 93.6,459.1 88.5,454.7M136.3,540.7 143.3,535.2 150.2,529.8 157.1,524.5 163.9,519.4 170.7,514.4 177.4,509.5 184,504.8 190.5,500.2 197,495.7 203.4,491.4 209.8,487.1 216,483 222.3,479.1 228.4,475.2 234.5,471.5 240.5,467.8 246.5,464.3 252.4,461 258.2,457.7 263.9,454.5M208.4,525.9 202,522.8 195.7,519.6 189.5,516.3 183.4,512.9 177.4,509.5 171.4,506 165.5,502.5 159.7,498.8 154,495.2 148.3,491.4 142.7,487.6 137.2,483.7 131.7,479.7 126.3,475.7 120.9,471.7 115.6,467.5 110.4,463.3 105.2,459.1 100.1,454.7 95,450.3M130.4,537 137.4,531.5 144.4,526.1 151.2,520.9 158,515.8 164.7,510.9 171.4,506 178,501.3 184.5,496.8 191,492.3 197.4,488 203.7,483.8 210,479.7 216.2,475.8 222.4,472 228.4,468.3 234.5,464.7 240.4,461.2 246.3,457.8 252.1,454.6 257.9,451.4M215.1,521 208.7,517.9 202.4,514.7 196.2,511.5 190,508.2 184,504.8 178,501.3 172.1,497.8 166.3,494.2 160.5,490.6 154.9,486.8 149.2,483.1 143.7,479.2 138.2,475.3 132.8,471.3 127.4,467.3 122.1,463.2 116.9,459 111.7,454.8 106.5,450.5 101.4,446.1M124.6,533.2 131.6,527.7 138.5,522.4 145.4,517.2 152.2,512.2 158.9,507.3 165.5,502.5 172.1,497.8 178.6,493.3 185.1,488.9 191.5,484.6 197.8,480.4 204.1,476.4 210.3,472.5 216.4,468.7 222.5,465 228.5,461.4 234.4,458 240.3,454.6 246.1,451.4 251.9,448.3M221.7,516.2 215.3,513.2 209,510 202.7,506.8 196.6,503.5 190.5,500.2 184.5,496.8 178.6,493.3 172.8,489.7 167,486.1 161.3,482.4 155.7,478.7 150.1,474.8 144.7,471 139.2,467 133.8,463 128.5,458.9 123.3,454.8 118,450.6 112.9,446.3 107.8,442M118.9,529.3 125.9,523.9 132.8,518.6 139.6,513.5 146.4,508.5 153.1,503.6 159.7,498.8 166.3,494.2 172.8,489.7 179.2,485.3 185.6,481.1 191.9,477 198.2,473 204.4,469.1 210.5,465.3 216.6,461.6 222.6,458.1 228.5,454.7 234.4,451.4 240.2,448.2 246,445.1M228.2,511.6 221.8,508.6 215.5,505.4 209.2,502.3 203.1,499 197,495.7 191,492.3 185.1,488.9 179.2,485.3 173.5,481.8 167.8,478.1 162.1,474.4 156.5,470.6 151,466.7 145.6,462.8 140.2,458.8 134.9,454.8 129.6,450.7 124.4,446.5 119.2,442.3 114.1,438M113.3,525.4 120.2,520 127.1,514.8 133.9,509.7 140.7,504.7 147.3,499.9 154,495.2 160.5,490.6 167,486.1 173.5,481.8 179.8,477.5 186.1,473.4 192.4,469.5 198.6,465.6 204.7,461.9 210.7,458.2 216.7,454.7 222.7,451.3 228.5,448 234.4,444.8 240.1,441.8M234.7,507.1 228.3,504.1 221.9,501 215.7,497.9 209.5,494.6 203.4,491.4 197.4,488 191.5,484.6 185.6,481.1 179.8,477.5 174.1,473.9 168.5,470.2 162.9,466.5 157.4,462.6 151.9,458.8 146.5,454.8 141.2,450.8 135.9,446.7 130.7,442.6 125.5,438.3 120.4,434.1M107.7,521.4 114.6,516.1 121.5,510.9 128.3,505.8 135,500.9 141.7,496.1 148.3,491.4 154.9,486.8 161.3,482.4 167.8,478.1 174.1,473.9 180.4,469.8 186.7,465.9 192.8,462.1 198.9,458.3 205,454.7 211,451.3 216.9,447.9 222.8,444.6 228.6,441.5 234.3,438.4M241.1,502.7 234.7,499.7 228.3,496.7 222,493.6 215.9,490.4 209.8,487.1 203.7,483.8 197.8,480.4 191.9,477 186.1,473.4 180.4,469.8 174.8,466.2 169.2,462.5 163.6,458.7 158.2,454.8 152.8,450.9 147.4,446.9 142.1,442.8 136.9,438.7 131.7,434.5 126.6,430.3M102.2,517.4 109.1,512.1 116,506.9 122.7,501.9 129.5,497 136.1,492.2 142.7,487.6 149.2,483.1 155.7,478.7 162.1,474.4 168.5,470.2 174.8,466.2 181,462.3 187.2,458.5 193.3,454.8 199.3,451.2 205.3,447.7 211.2,444.4 217.1,441.1 222.9,438 228.6,435M247.4,498.4 241,495.5 234.6,492.5 228.3,489.4 222.1,486.3 216,483 210,479.7 204.1,476.4 198.2,473 192.4,469.5 186.7,465.9 181,462.3 175.4,458.6 169.9,454.8 164.4,451 159,447.1 153.6,443.1 148.3,439.1 143.1,435 137.9,430.8 132.7,426.6M96.8,513.3 103.7,508 110.5,502.9 117.2,497.9 123.9,493 130.6,488.3 137.2,483.7 143.7,479.2 150.1,474.8 156.5,470.6 162.9,466.5 169.2,462.5 175.4,458.6 181.5,454.8 187.6,451.1 193.7,447.6 199.7,444.1 205.6,440.8 211.4,437.6 217.2,434.5 223,431.5M253.7,494.3 247.2,491.4 240.9,488.4 234.6,485.4 228.4,482.3 222.3,479.1 216.2,475.8 210.3,472.5 204.4,469.1 198.6,465.6 192.8,462.1 187.2,458.5 181.5,454.8 176,451 170.5,447.2 165.1,443.4 159.7,439.4 154.4,435.4 149.2,431.4 144,427.2 138.8,423.1M91.4,509.1 98.3,503.9 105.1,498.8 111.8,493.9 118.5,489 125.1,484.3 131.7,479.7 138.2,475.3 144.7,471 151,466.7 157.4,462.6 163.6,458.7 169.9,454.8 176,451 182.1,447.4 188.1,443.9 194.1,440.5 200,437.2 205.9,434 211.7,430.9 217.4,427.9M259.9,490.3 253.4,487.4 247,484.5 240.7,481.5 234.5,478.4 228.4,475.2 222.4,472 216.4,468.7 210.5,465.3 204.7,461.9 198.9,458.3 193.3,454.8 187.6,451.1 182.1,447.4 176.6,443.6 171.2,439.8 165.8,435.9 160.5,431.9 155.2,427.9 150,423.8 144.9,419.6M86.1,504.9 92.9,499.7 99.7,494.7 106.4,489.7 113.1,485 119.7,480.3 126.3,475.7 132.8,471.3 139.2,467 145.6,462.8 151.9,458.8 158.2,454.8 164.4,451 170.5,447.2 176.6,443.6 182.6,440.1 188.6,436.7 194.5,433.5 200.4,430.3 206.2,427.2 211.9,424.3M266,486.4 259.5,483.6 253.1,480.7 246.8,477.7 240.6,474.6 234.5,471.5 228.4,468.3 222.5,465 216.6,461.6 210.7,458.2 205,454.7 199.3,451.2 193.7,447.6 188.1,443.9 182.6,440.1 177.2,436.3 171.8,432.4 166.5,428.5 161.2,424.5 156,420.4 150.9,416.3M80.8,500.6 87.6,495.5 94.4,490.4 101.1,485.6 107.8,480.8 114.4,476.2 120.9,471.7 127.4,467.3 133.8,463 140.2,458.8 146.5,454.8 152.8,450.9 159,447.1 165.1,443.4 171.2,439.8 177.2,436.3 183.2,433 189.1,429.7 194.9,426.6 200.7,423.5 206.4,420.6M272,482.7 265.6,479.8 259.2,477 252.9,474 246.6,471 240.5,467.8 234.5,464.7 228.5,461.4 222.6,458.1 216.7,454.7 211,451.3 205.3,447.7 199.7,444.1 194.1,440.5 188.6,436.7 183.2,433 177.8,429.1 172.4,425.2 167.2,421.2 162,417.1 156.8,413M75.6,496.2 82.4,491.1 89.2,486.2 95.9,481.3 102.5,476.6 109.1,472 115.6,467.5 122.1,463.2 128.5,458.9 134.9,454.8 141.2,450.8 147.4,446.9 153.6,443.1 159.7,439.4 165.8,435.9 171.8,432.4 177.8,429.1 183.7,425.9 189.5,422.7 195.3,419.7 201,416.8M278,479 271.5,476.2 265.1,473.4 258.8,470.4 252.6,467.4 246.5,464.3 240.4,461.2 234.4,458 228.5,454.7 222.7,451.3 216.9,447.9 211.2,444.4 205.6,440.8 200,437.2 194.5,433.5 189.1,429.7 183.7,425.9 178.3,422 173.1,418 167.8,414 162.7,409.9M70.4,491.8 77.2,486.8 84,481.8 90.7,477 97.3,472.3 103.9,467.8 110.4,463.3 116.9,459 123.3,454.8 129.6,450.7 135.9,446.7 142.1,442.8 148.3,439.1 154.4,435.4 160.5,431.9 166.5,428.5 172.4,425.2 178.3,422 184.2,418.9 190,415.9 195.7,413M283.9,475.5 277.4,472.7 271,469.9 264.7,467 258.5,464 252.4,461 246.3,457.8 240.3,454.6 234.4,451.4 228.5,448 222.8,444.6 217.1,441.1 211.4,437.6 205.9,434 200.4,430.3 194.9,426.6 189.5,422.7 184.2,418.9 178.9,414.9 173.7,410.9 168.5,406.9M65.3,487.4 72.1,482.3 78.8,477.4 85.5,472.7 92.1,468 98.7,463.5 105.2,459.1 111.7,454.8 118,450.6 124.4,446.5 130.7,442.6 136.9,438.7 143.1,435 149.2,431.4 155.2,427.9 161.2,424.5 167.2,421.2 173.1,418 178.9,414.9 184.7,412 190.4,409.1M289.8,472.1 283.3,469.4 276.9,466.6 270.6,463.7 264.3,460.7 258.2,457.7 252.1,454.6 246.1,451.4 240.2,448.2 234.4,444.8 228.6,441.5 222.9,438 217.2,434.5 211.7,430.9 206.2,427.2 200.7,423.5 195.3,419.7 190,415.9 184.7,412 179.4,408 174.3,403.9M60.3,482.8 67,477.9 73.8,473 80.4,468.2 87,463.6 93.6,459.1 100.1,454.7 106.5,450.5 112.9,446.3 119.2,442.3 125.5,438.3 131.7,434.5 137.9,430.8 144,427.2 150,423.8 156,420.4 162,417.1 167.8,414 173.7,410.9 179.4,408 185.2,405.1M295.5,468.8 289,466.1 282.6,463.3 276.3,460.5 270.1,457.5 263.9,454.5 257.9,451.4 251.9,448.3 246,445.1 240.1,441.8 234.3,438.4 228.6,435 223,431.5 217.4,427.9 211.9,424.3 206.4,420.6 201,416.8 195.7,413 190.4,409.1 185.2,405.1 180,401.1M55.3,478.3 62,473.3 68.7,468.5 75.4,463.8 82,459.2 88.5,454.7 95,450.3 101.4,446.1 107.8,442 114.1,438 120.4,434.1 126.6,430.3 132.7,426.6 138.8,423.1 144.9,419.6 150.9,416.3 156.8,413 162.7,409.9 168.5,406.9 174.3,403.9 180,401.1" fill="none" stroke="#000" stroke-opacity="0.7" stroke-width="0.55"/>
<g fill="#111"><circle cx="57.6" cy="513.8" r="1.05"/><circle cx="56.5" cy="496.7" r="1.05"/><circle cx="55.4" cy="479.6" r="1.05"/><circle cx="54.3" cy="462.4" r="1.05"/><circle cx="53.2" cy="445.3" r="1.05"/><circle cx="52.1" cy="428.2" r="1.05"/><circle cx="51" cy="411.1" r="1.05"/><circle cx="49.9" cy="393.9" r="1.05"/><circle cx="59.9" cy="551" r="1.05"/><circle cx="81.4" cy="566" r="1.05"/><circle cx="102.8" cy="581" r="1.05"/><circle cx="124.2" cy="595.9" r="1.05"/><circle cx="145.7" cy="610.9" r="1.05"/><circle cx="167.1" cy="625.9" r="1.05"/><circle cx="191.6" cy="612.3" r="1.05"/><circle cx="216.1" cy="598.7" r="1.05"/><circle cx="240.7" cy="585.1" r="1.05"/><circle cx="265.2" cy="571.5" r="1.05"/><circle cx="289.7" cy="557.8" r="1.05"/></g>
<g font-family="'Liberation Sans',sans-serif" font-size="6.6" fill="#333">
<text x="54" y="512.2" text-anchor="end" textLength="8.2" lengthAdjust="spacingAndGlyphs">0.0</text>
<text x="52.9" y="495.1" text-anchor="end" textLength="11.4" lengthAdjust="spacingAndGlyphs">11.4</text>
<text x="51.8" y="478" text-anchor="end" textLength="11.4" lengthAdjust="spacingAndGlyphs">22.9</text>
<text x="50.7" y="460.8" text-anchor="end" textLength="11.4" lengthAdjust="spacingAndGlyphs">34.3</text>
<text x="49.6" y="443.7" text-anchor="end" textLength="11.4" lengthAdjust="spacingAndGlyphs">45.7</text>
<text x="48.5" y="426.6" text-anchor="end" textLength="11.4" lengthAdjust="spacingAndGlyphs">57.1</text>
<text x="47.4" y="409.5" text-anchor="end" textLength="11.4" lengthAdjust="spacingAndGlyphs">68.6</text>
<text x="46.3" y="392.3" text-anchor="end" textLength="11.4" lengthAdjust="spacingAndGlyphs">80.0</text>
<text x="53.4" y="557.3" text-anchor="middle">50</text>
<text x="74.9" y="572.3" text-anchor="middle">40</text>
<text x="96.3" y="587.3" text-anchor="middle">30</text>
<text x="117.7" y="602.2" text-anchor="middle">20</text>
<text x="139.2" y="617.2" text-anchor="middle">10</text>
<text x="162.2" y="632.2" text-anchor="middle">0</text>
<text x="173.7" y="632.5" text-anchor="middle">20</text>
<text x="198.2" y="618.9" text-anchor="middle">32</text>
<text x="222.7" y="605.3" text-anchor="middle">44</text>
<text x="247.3" y="591.7" text-anchor="middle">56</text>
<text x="271.8" y="578.1" text-anchor="middle">68</text>
<text x="296.3" y="564.4" text-anchor="middle">80</text>
</g>
<text x="68.1" y="613.9" text-anchor="middle" font-family="'Liberation Sans',sans-serif" font-size="7.4" fill="#333" textLength="28.8" lengthAdjust="spacingAndGlyphs">C: Blends</text>
<text x="269.6" y="620.4" text-anchor="middle" font-family="'Liberation Sans',sans-serif" font-size="7.4" fill="#333" textLength="40" lengthAdjust="spacingAndGlyphs" xml:space="preserve">A: LOAD  (%)</text>
<text transform="translate(14.7,475.2) rotate(-90)" text-anchor="middle" font-family="'Liberation Sans',sans-serif" font-size="6.5" fill="#222" textLength="25.5" lengthAdjust="spacingAndGlyphs" xml:space="preserve">BTE  (%)</text>
</g>
<g id="pred-actual">
<rect x="369.7" y="322.3" width="330" height="301.1" fill="#fff" stroke="#333" stroke-width="1.35"/>
<rect x="417.5" y="340.7" width="247.2" height="241.6" fill="#fff" stroke="#555" stroke-width="0.95"/>
<path d="M429.8,582.3v5.8M417.5,570.3h-5.6M485.5,582.3v5.8M417.5,515.9h-5.6M541.2,582.3v5.8M417.5,461.5h-5.6M596.9,582.3v5.8M417.5,407.1h-5.6M652.6,582.3v5.8M417.5,352.7h-5.6" fill="none" stroke="#555" stroke-width="0.8"/>
<g stroke="#000" stroke-opacity="0.75" stroke-width="0.55">
<rect x="451.3" y="546.2" width="4.8" height="4.8" fill="#001fea"/>
<rect x="448.2" y="548" width="4.8" height="4.8" fill="#000bea"/>
<rect x="446.4" y="548.7" width="4.8" height="4.8" fill="#0000ea"/>
<rect x="495.6" y="504.5" width="4.8" height="4.8" fill="#00ea9d"/>
<rect x="491.4" y="503.4" width="4.8" height="4.8" fill="#00eab8"/>
<rect x="501.8" y="499.8" width="4.8" height="4.8" fill="#00ea75"/>
<rect x="505" y="496.1" width="4.8" height="4.8" fill="#00ea61"/>
<rect x="511.7" y="488.1" width="4.8" height="4.8" fill="#00ea37"/>
<rect x="507.9" y="484.6" width="4.8" height="4.8" fill="#00ea4f"/>
<rect x="512" y="480.2" width="4.8" height="4.8" fill="#00ea35"/>
<rect x="522.3" y="474.7" width="4.8" height="4.8" fill="#0bea00"/>
<rect x="526.8" y="471" width="4.8" height="4.8" fill="#28ea00"/>
<rect x="528.6" y="466.8" width="4.8" height="4.8" fill="#33ea00"/>
<rect x="537.4" y="462.2" width="4.8" height="4.8" fill="#6bea00"/>
<rect x="536.7" y="455.9" width="4.8" height="4.8" fill="#67ea00"/>
<rect x="551.5" y="445.2" width="4.8" height="4.8" fill="#c4ea00"/>
<rect x="557.7" y="445.7" width="4.8" height="4.8" fill="#eae800"/>
<rect x="557.7" y="440.5" width="4.8" height="4.8" fill="#eae800"/>
<rect x="560.3" y="438.7" width="4.8" height="4.8" fill="#ead800"/>
<rect x="564.7" y="441.1" width="4.8" height="4.8" fill="#eabc00"/>
<rect x="565" y="436.7" width="4.8" height="4.8" fill="#eaba00"/>
<rect x="565" y="429.7" width="4.8" height="4.8" fill="#eaba00"/>
<rect x="569.6" y="428.6" width="4.8" height="4.8" fill="#ea9d00"/>
<rect x="580.4" y="418.5" width="4.8" height="4.8" fill="#ea5900"/>
<rect x="581.6" y="416.5" width="4.8" height="4.8" fill="#ea5100"/>
<rect x="584.8" y="414.2" width="4.8" height="4.8" fill="#ea3d00"/>
<rect x="588.6" y="413.6" width="4.8" height="4.8" fill="#ea2500"/>
<rect x="589.1" y="409" width="4.8" height="4.8" fill="#ea2200"/>
<rect x="594.2" y="403.9" width="4.8" height="4.8" fill="#ea0100"/>
</g>
<path d="M429.8,570.3L652.6,352.7" stroke="#333" stroke-width="0.7"/>
<g font-family="'Liberation Sans',sans-serif" font-size="6.6" fill="#333">
<text x="430.1" y="596.5" text-anchor="middle" textLength="12.3" lengthAdjust="spacingAndGlyphs">10.0</text>
<text x="409.9" y="572.6" text-anchor="end" textLength="12.3" lengthAdjust="spacingAndGlyphs">10.0</text>
<text x="485.8" y="596.5" text-anchor="middle" textLength="12.3" lengthAdjust="spacingAndGlyphs">20.0</text>
<text x="409.9" y="518.2" text-anchor="end" textLength="12.3" lengthAdjust="spacingAndGlyphs">20.0</text>
<text x="541.5" y="596.5" text-anchor="middle" textLength="12.3" lengthAdjust="spacingAndGlyphs">30.0</text>
<text x="409.9" y="463.8" text-anchor="end" textLength="12.3" lengthAdjust="spacingAndGlyphs">30.0</text>
<text x="597.2" y="596.5" text-anchor="middle" textLength="12.3" lengthAdjust="spacingAndGlyphs">40.0</text>
<text x="409.9" y="409.4" text-anchor="end" textLength="12.3" lengthAdjust="spacingAndGlyphs">40.0</text>
<text x="652.9" y="596.5" text-anchor="middle" textLength="12.3" lengthAdjust="spacingAndGlyphs">50.0</text>
<text x="409.9" y="355" text-anchor="end" textLength="12.3" lengthAdjust="spacingAndGlyphs">50.0</text>
</g>
<text x="540.8" y="336.3" text-anchor="middle" font-family="'Liberation Sans',sans-serif" font-size="10" fill="#222" textLength="88.8" lengthAdjust="spacingAndGlyphs">Predicted vs. Actual</text>
<text x="540.8" y="615.1" text-anchor="middle" font-family="'Liberation Sans',sans-serif" font-size="8.1" fill="#333" textLength="22.8" lengthAdjust="spacingAndGlyphs">Actual</text>
<text transform="translate(380.0,460.4) rotate(-90)" text-anchor="middle" font-family="'Liberation Sans',sans-serif" font-size="8.8" fill="#333" textLength="33.6" lengthAdjust="spacingAndGlyphs">Predicted</text>
</g>
</svg>
</body></html>
